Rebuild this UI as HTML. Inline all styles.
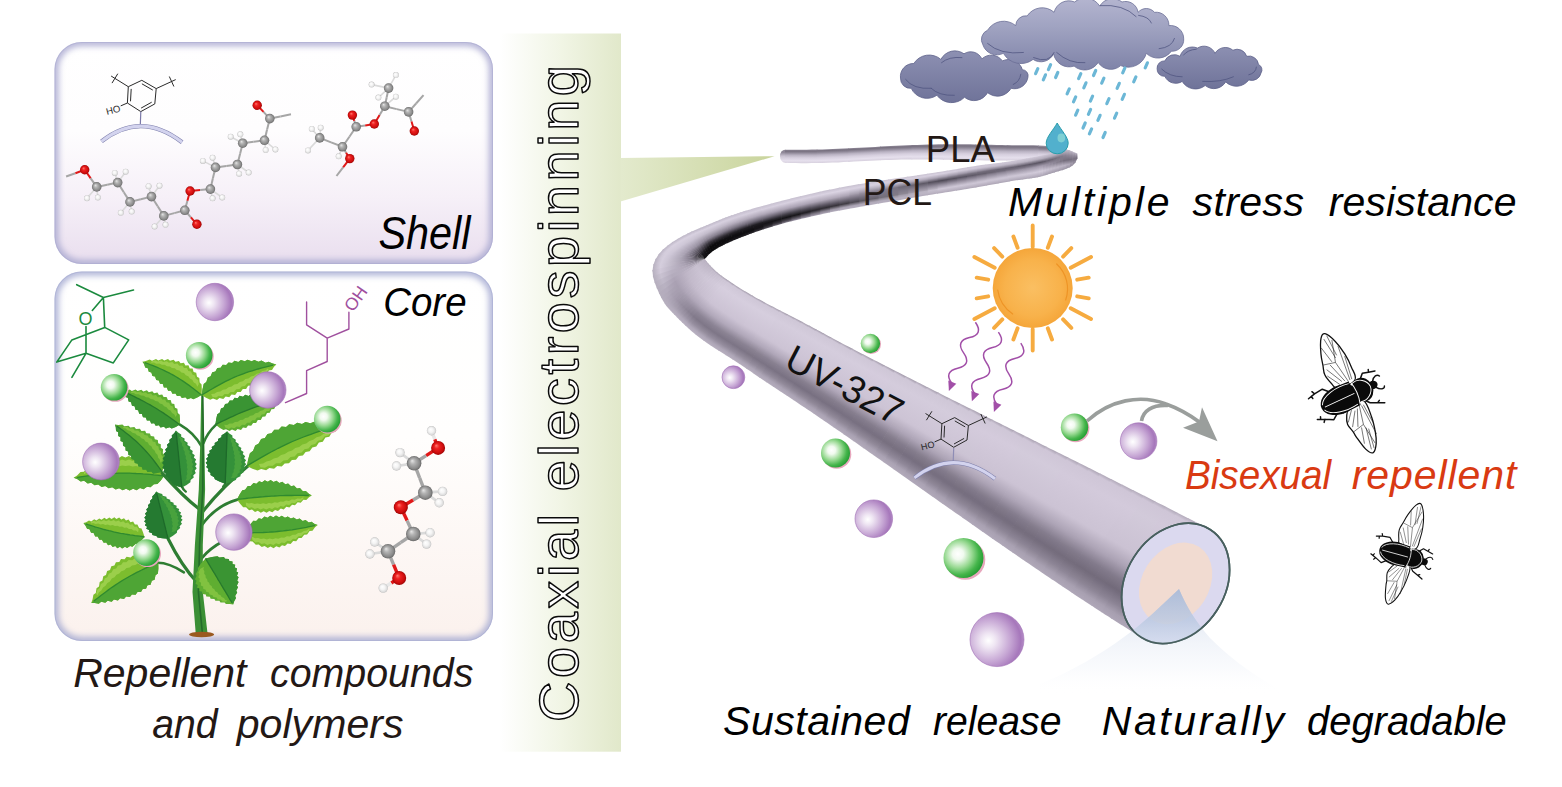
<!DOCTYPE html>
<html><head><meta charset="utf-8"><title>Graphical abstract</title>
<style>html,body{margin:0;padding:0;background:#fff;}svg{display:block;}</style></head>
<body>
<svg width="1562" height="787" viewBox="0 0 1562 787">
<defs>
<filter id="blur3" x="-10%" y="-10%" width="120%" height="120%"><feGaussianBlur stdDeviation="3"/></filter>
<filter id="blur1" x="-10%" y="-10%" width="120%" height="120%"><feGaussianBlur stdDeviation="1"/></filter>
<linearGradient id="gShell" x1="0" y1="0" x2="0" y2="1"><stop offset="0" stop-color="#ffffff"/><stop offset="0.4" stop-color="#fefdfe"/><stop offset="0.7" stop-color="#f6f0f8"/><stop offset="1" stop-color="#e9deee"/></linearGradient>
<linearGradient id="gCore" x1="0" y1="0" x2="0" y2="1"><stop offset="0" stop-color="#ffffff"/><stop offset="0.45" stop-color="#fffefd"/><stop offset="1" stop-color="#fbf1ed"/></linearGradient>
<linearGradient id="gBand" x1="0" y1="0" x2="1" y2="0"><stop offset="0" stop-color="#ffffff"/><stop offset="0.5" stop-color="#f1f5e5"/><stop offset="1" stop-color="#e1e8ca"/></linearGradient>
<linearGradient id="gBeam" x1="621" y1="0" x2="775" y2="0" gradientUnits="userSpaceOnUse"><stop offset="0" stop-color="#e3eacd"/><stop offset="1" stop-color="#c9d49c"/></linearGradient>
<clipPath id="cps"><rect x="54.5" y="42" width="438.5" height="222" rx="27"/></clipPath>
<clipPath id="cpc"><rect x="54.5" y="271.5" width="438.5" height="369.5" rx="27"/></clipPath>
<radialGradient id="aC" cx="0.5" cy="0.5" r="0.5" fx="0.36" fy="0.32"><stop offset="0" stop-color="#e6e6e6"/><stop offset="0.35" stop-color="#b4b4b4"/><stop offset="0.8" stop-color="#8a8a8a"/><stop offset="1" stop-color="#6a6a6a"/></radialGradient>
<radialGradient id="aO" cx="0.5" cy="0.5" r="0.5" fx="0.36" fy="0.32"><stop offset="0" stop-color="#ff7a70"/><stop offset="0.35" stop-color="#ee2222"/><stop offset="0.8" stop-color="#cc0c0c"/><stop offset="1" stop-color="#9a0606"/></radialGradient>
<radialGradient id="aH" cx="0.5" cy="0.5" r="0.5" fx="0.38" fy="0.34"><stop offset="0" stop-color="#ffffff"/><stop offset="0.5" stop-color="#f4f4f4"/><stop offset="0.85" stop-color="#dcdcdc"/><stop offset="1" stop-color="#bdbdbd"/></radialGradient>
<linearGradient id="gCapS" x1="0" y1="0" x2="0" y2="1"><stop offset="0" stop-color="#8f8898"/><stop offset="0.2" stop-color="#8d8696"/><stop offset="0.5" stop-color="#cbc4d3"/><stop offset="0.85" stop-color="#e6e0ed"/><stop offset="1" stop-color="#d6cfdd"/></linearGradient>
<linearGradient id="ta0" gradientUnits="userSpaceOnUse" x1="800.8" y1="149.8" x2="800.8" y2="163.2"><stop offset="0.00" stop-color="#8f8898"/><stop offset="0.10" stop-color="#77707f"/><stop offset="0.22" stop-color="#8d8696"/><stop offset="0.40" stop-color="#b9b2c2"/><stop offset="0.60" stop-color="#d6cfde"/><stop offset="0.82" stop-color="#e6e0ed"/><stop offset="1.00" stop-color="#d6cfdd"/></linearGradient>
<linearGradient id="ta1" gradientUnits="userSpaceOnUse" x1="832.5" y1="149.0" x2="833.0" y2="162.6"><stop offset="0.00" stop-color="#8f8898"/><stop offset="0.10" stop-color="#77707f"/><stop offset="0.22" stop-color="#8d8696"/><stop offset="0.40" stop-color="#b9b2c2"/><stop offset="0.60" stop-color="#d6cfde"/><stop offset="0.82" stop-color="#e6e0ed"/><stop offset="1.00" stop-color="#d6cfdd"/></linearGradient>
<linearGradient id="ta2" gradientUnits="userSpaceOnUse" x1="864.1" y1="147.5" x2="864.8" y2="161.0"><stop offset="0.00" stop-color="#8f8898"/><stop offset="0.10" stop-color="#77707f"/><stop offset="0.22" stop-color="#8d8696"/><stop offset="0.40" stop-color="#b9b2c2"/><stop offset="0.60" stop-color="#d6cfde"/><stop offset="0.82" stop-color="#e6e0ed"/><stop offset="1.00" stop-color="#d6cfdd"/></linearGradient>
<linearGradient id="ta3" gradientUnits="userSpaceOnUse" x1="895.8" y1="145.8" x2="896.3" y2="159.7"><stop offset="0.00" stop-color="#8f8898"/><stop offset="0.10" stop-color="#77707f"/><stop offset="0.22" stop-color="#8d8696"/><stop offset="0.40" stop-color="#b9b2c2"/><stop offset="0.60" stop-color="#d6cfde"/><stop offset="0.82" stop-color="#e6e0ed"/><stop offset="1.00" stop-color="#d6cfdd"/></linearGradient>
<linearGradient id="ta4" gradientUnits="userSpaceOnUse" x1="927.4" y1="144.6" x2="927.5" y2="159.5"><stop offset="0.00" stop-color="#8f8898"/><stop offset="0.10" stop-color="#77707f"/><stop offset="0.22" stop-color="#8d8696"/><stop offset="0.40" stop-color="#b9b2c2"/><stop offset="0.60" stop-color="#d6cfde"/><stop offset="0.82" stop-color="#e6e0ed"/><stop offset="1.00" stop-color="#d6cfdd"/></linearGradient>
<linearGradient id="ta5" gradientUnits="userSpaceOnUse" x1="959.1" y1="144.2" x2="958.9" y2="160.0"><stop offset="0.00" stop-color="#8f8898"/><stop offset="0.10" stop-color="#77707f"/><stop offset="0.22" stop-color="#8d8696"/><stop offset="0.40" stop-color="#b9b2c2"/><stop offset="0.60" stop-color="#d6cfde"/><stop offset="0.82" stop-color="#e6e0ed"/><stop offset="1.00" stop-color="#d6cfdd"/></linearGradient>
<linearGradient id="ta6" gradientUnits="userSpaceOnUse" x1="990.8" y1="144.8" x2="990.6" y2="160.5"><stop offset="0.00" stop-color="#8f8898"/><stop offset="0.10" stop-color="#77707f"/><stop offset="0.22" stop-color="#8d8696"/><stop offset="0.40" stop-color="#b9b2c2"/><stop offset="0.60" stop-color="#d6cfde"/><stop offset="0.82" stop-color="#e6e0ed"/><stop offset="1.00" stop-color="#d6cfdd"/></linearGradient>
<linearGradient id="ta7" gradientUnits="userSpaceOnUse" x1="1022.3" y1="145.2" x2="1022.3" y2="160.6"><stop offset="0.00" stop-color="#8f8898"/><stop offset="0.10" stop-color="#77707f"/><stop offset="0.22" stop-color="#8d8696"/><stop offset="0.40" stop-color="#b9b2c2"/><stop offset="0.60" stop-color="#d6cfde"/><stop offset="0.82" stop-color="#e6e0ed"/><stop offset="1.00" stop-color="#d6cfdd"/></linearGradient>
<linearGradient id="ta8" gradientUnits="userSpaceOnUse" x1="1054.6" y1="146.9" x2="1054.1" y2="159.7"><stop offset="0.00" stop-color="#8f8898"/><stop offset="0.10" stop-color="#77707f"/><stop offset="0.22" stop-color="#8d8696"/><stop offset="0.40" stop-color="#b9b2c2"/><stop offset="0.60" stop-color="#d6cfde"/><stop offset="0.82" stop-color="#e6e0ed"/><stop offset="1.00" stop-color="#d6cfdd"/></linearGradient>
<linearGradient id="tb0" gradientUnits="userSpaceOnUse" x1="1076.7" y1="160.5" x2="1073.1" y2="155.7"><stop offset="0.00" stop-color="#8f8898"/><stop offset="0.20" stop-color="#827b8b"/><stop offset="0.30" stop-color="#766f7f"/><stop offset="0.45" stop-color="#7d7686"/><stop offset="0.60" stop-color="#8c8595"/><stop offset="0.70" stop-color="#968f9f"/><stop offset="1.00" stop-color="#b7b0bf"/></linearGradient>
<linearGradient id="tb1" gradientUnits="userSpaceOnUse" x1="1074.3" y1="164.0" x2="1071.1" y2="153.0"><stop offset="0.00" stop-color="#928b9b"/><stop offset="0.20" stop-color="#928b9b"/><stop offset="0.30" stop-color="#817a8a"/><stop offset="0.45" stop-color="#7a7382"/><stop offset="0.60" stop-color="#898292"/><stop offset="0.70" stop-color="#938c9c"/><stop offset="1.00" stop-color="#bbb4c3"/></linearGradient>
<linearGradient id="tb2" gradientUnits="userSpaceOnUse" x1="1071.5" y1="166.4" x2="1069.5" y2="151.1"><stop offset="0.00" stop-color="#958e9e"/><stop offset="0.20" stop-color="#a29bab"/><stop offset="0.30" stop-color="#8c8595"/><stop offset="0.45" stop-color="#766f7e"/><stop offset="0.60" stop-color="#867f8f"/><stop offset="0.70" stop-color="#918a9a"/><stop offset="1.00" stop-color="#beb7c6"/></linearGradient>
<linearGradient id="tb3" gradientUnits="userSpaceOnUse" x1="1068.2" y1="168.1" x2="1066.0" y2="150.1"><stop offset="0.00" stop-color="#9891a1"/><stop offset="0.20" stop-color="#b2abbb"/><stop offset="0.30" stop-color="#9790a0"/><stop offset="0.45" stop-color="#736c7b"/><stop offset="0.60" stop-color="#837c8c"/><stop offset="0.70" stop-color="#8e8797"/><stop offset="1.00" stop-color="#c2bbca"/></linearGradient>
<linearGradient id="tb4" gradientUnits="userSpaceOnUse" x1="1064.5" y1="169.5" x2="1060.6" y2="150.4"><stop offset="0.00" stop-color="#9b94a4"/><stop offset="0.20" stop-color="#bab3c3"/><stop offset="0.25" stop-color="#ada6b6"/><stop offset="0.45" stop-color="#756e7d"/><stop offset="0.50" stop-color="#7a7382"/><stop offset="0.68" stop-color="#878090"/><stop offset="0.70" stop-color="#8a8393"/><stop offset="0.85" stop-color="#a9a2b2"/><stop offset="1.00" stop-color="#c5becd"/></linearGradient>
<linearGradient id="tb5" gradientUnits="userSpaceOnUse" x1="1060.6" y1="170.7" x2="1055.4" y2="151.6"><stop offset="0.00" stop-color="#9d96a6"/><stop offset="0.20" stop-color="#bcb5c5"/><stop offset="0.25" stop-color="#b2abbb"/><stop offset="0.45" stop-color="#7d7685"/><stop offset="0.50" stop-color="#807988"/><stop offset="0.68" stop-color="#817a8a"/><stop offset="0.70" stop-color="#857e8e"/><stop offset="0.85" stop-color="#aba4b3"/><stop offset="1.00" stop-color="#c6bfce"/></linearGradient>
<linearGradient id="tb6" gradientUnits="userSpaceOnUse" x1="1056.7" y1="171.9" x2="1050.9" y2="153.2"><stop offset="0.00" stop-color="#9f98a8"/><stop offset="0.20" stop-color="#bfb8c7"/><stop offset="0.25" stop-color="#b8b1c0"/><stop offset="0.45" stop-color="#857e8d"/><stop offset="0.50" stop-color="#867f8e"/><stop offset="0.68" stop-color="#7b7483"/><stop offset="0.70" stop-color="#807988"/><stop offset="0.85" stop-color="#ada6b5"/><stop offset="1.00" stop-color="#c8c1d0"/></linearGradient>
<linearGradient id="tb7" gradientUnits="userSpaceOnUse" x1="1052.9" y1="172.9" x2="1047.2" y2="154.6"><stop offset="0.00" stop-color="#a19aaa"/><stop offset="0.20" stop-color="#c1bac9"/><stop offset="0.25" stop-color="#bdb6c5"/><stop offset="0.45" stop-color="#8d8696"/><stop offset="0.50" stop-color="#8c8595"/><stop offset="0.68" stop-color="#746e7d"/><stop offset="0.70" stop-color="#7a7483"/><stop offset="0.85" stop-color="#aea7b7"/><stop offset="1.00" stop-color="#cac3d2"/></linearGradient>
<linearGradient id="tb8" gradientUnits="userSpaceOnUse" x1="1049.5" y1="173.9" x2="1044.1" y2="155.4"><stop offset="0.00" stop-color="#a39cac"/><stop offset="0.20" stop-color="#c3bccb"/><stop offset="0.25" stop-color="#c2bbca"/><stop offset="0.45" stop-color="#958e9e"/><stop offset="0.50" stop-color="#928a9b"/><stop offset="0.68" stop-color="#6e6776"/><stop offset="0.70" stop-color="#756f7e"/><stop offset="0.85" stop-color="#b0a9b8"/><stop offset="1.00" stop-color="#cbc4d3"/></linearGradient>
<linearGradient id="tb9" gradientUnits="userSpaceOnUse" x1="1046.6" y1="174.8" x2="1041.4" y2="155.9"><stop offset="0.00" stop-color="#a59eae"/><stop offset="0.20" stop-color="#c5bece"/><stop offset="0.25" stop-color="#c7c0cf"/><stop offset="0.45" stop-color="#9d95a6"/><stop offset="0.50" stop-color="#9890a1"/><stop offset="0.68" stop-color="#686170"/><stop offset="0.70" stop-color="#706a78"/><stop offset="0.85" stop-color="#b2abba"/><stop offset="1.00" stop-color="#cdc6d5"/></linearGradient>
<linearGradient id="tb10" gradientUnits="userSpaceOnUse" x1="1043.9" y1="175.7" x2="1039.0" y2="156.3"><stop offset="0.00" stop-color="#a7a0b0"/><stop offset="0.20" stop-color="#c7c0d0"/><stop offset="0.25" stop-color="#ccc5d4"/><stop offset="0.45" stop-color="#a59dae"/><stop offset="0.50" stop-color="#9e96a7"/><stop offset="0.68" stop-color="#615b69"/><stop offset="0.70" stop-color="#6b6473"/><stop offset="0.85" stop-color="#b3acbb"/><stop offset="1.00" stop-color="#cec7d6"/></linearGradient>
<linearGradient id="tb11" gradientUnits="userSpaceOnUse" x1="1041.3" y1="176.4" x2="1036.8" y2="156.6"><stop offset="0.00" stop-color="#a9a2b2"/><stop offset="0.20" stop-color="#cac3d2"/><stop offset="0.25" stop-color="#d1cad9"/><stop offset="0.45" stop-color="#ada5b6"/><stop offset="0.50" stop-color="#a49cad"/><stop offset="0.68" stop-color="#5b5563"/><stop offset="0.70" stop-color="#655f6d"/><stop offset="0.85" stop-color="#b5aebd"/><stop offset="1.00" stop-color="#d0c9d8"/></linearGradient>
<linearGradient id="tb12" gradientUnits="userSpaceOnUse" x1="1038.8" y1="177.0" x2="1034.6" y2="156.9"><stop offset="0.00" stop-color="#a9a2b2"/><stop offset="0.20" stop-color="#cac3d2"/><stop offset="0.25" stop-color="#d1cad9"/><stop offset="0.40" stop-color="#b6aebe"/><stop offset="0.50" stop-color="#a39bac"/><stop offset="0.58" stop-color="#827b8b"/><stop offset="0.68" stop-color="#5b5563"/><stop offset="0.75" stop-color="#817a89"/><stop offset="0.85" stop-color="#b6afbe"/><stop offset="0.90" stop-color="#bfb8c7"/><stop offset="1.00" stop-color="#d0c9d8"/></linearGradient>
<linearGradient id="tb13" gradientUnits="userSpaceOnUse" x1="1036.2" y1="177.6" x2="1032.3" y2="157.3"><stop offset="0.00" stop-color="#aaa2b2"/><stop offset="0.20" stop-color="#cac3d2"/><stop offset="0.25" stop-color="#d1cad9"/><stop offset="0.40" stop-color="#b4adbd"/><stop offset="0.50" stop-color="#a199aa"/><stop offset="0.58" stop-color="#807989"/><stop offset="0.68" stop-color="#5d5765"/><stop offset="0.75" stop-color="#827c8a"/><stop offset="0.85" stop-color="#b6afbe"/><stop offset="0.90" stop-color="#c0b9c8"/><stop offset="1.00" stop-color="#d0c9d8"/></linearGradient>
<linearGradient id="tb14" gradientUnits="userSpaceOnUse" x1="1033.5" y1="178.0" x2="1030.0" y2="157.8"><stop offset="0.00" stop-color="#aaa3b3"/><stop offset="0.20" stop-color="#cac3d2"/><stop offset="0.25" stop-color="#d0c9d8"/><stop offset="0.40" stop-color="#b3acbc"/><stop offset="0.50" stop-color="#9f98a8"/><stop offset="0.58" stop-color="#7e7887"/><stop offset="0.68" stop-color="#5e5866"/><stop offset="0.75" stop-color="#847d8c"/><stop offset="0.85" stop-color="#b7b0bf"/><stop offset="0.90" stop-color="#c1bac9"/><stop offset="1.00" stop-color="#d0c9d8"/></linearGradient>
<linearGradient id="tb15" gradientUnits="userSpaceOnUse" x1="1030.7" y1="178.4" x2="1027.4" y2="158.3"><stop offset="0.00" stop-color="#aaa3b3"/><stop offset="0.20" stop-color="#cac3d3"/><stop offset="0.25" stop-color="#d0c9d8"/><stop offset="0.40" stop-color="#b2aaba"/><stop offset="0.50" stop-color="#9d96a6"/><stop offset="0.58" stop-color="#7d7685"/><stop offset="0.68" stop-color="#5f5968"/><stop offset="0.75" stop-color="#857e8d"/><stop offset="0.85" stop-color="#b8b1c0"/><stop offset="0.90" stop-color="#c1bac9"/><stop offset="1.00" stop-color="#cfc8d7"/></linearGradient>
<linearGradient id="tb16" gradientUnits="userSpaceOnUse" x1="1027.8" y1="178.8" x2="1024.7" y2="158.9"><stop offset="0.00" stop-color="#aaa3b3"/><stop offset="0.20" stop-color="#cbc4d3"/><stop offset="0.25" stop-color="#cfc8d7"/><stop offset="0.40" stop-color="#b0a9b9"/><stop offset="0.50" stop-color="#9b94a4"/><stop offset="0.58" stop-color="#7b7483"/><stop offset="0.68" stop-color="#615b69"/><stop offset="0.75" stop-color="#86808f"/><stop offset="0.85" stop-color="#b8b1c0"/><stop offset="0.90" stop-color="#c2bbca"/><stop offset="1.00" stop-color="#cfc8d7"/></linearGradient>
<linearGradient id="tb17" gradientUnits="userSpaceOnUse" x1="1024.8" y1="179.2" x2="1021.8" y2="159.4"><stop offset="0.00" stop-color="#aba3b3"/><stop offset="0.20" stop-color="#cbc4d3"/><stop offset="0.25" stop-color="#cec7d6"/><stop offset="0.40" stop-color="#afa8b8"/><stop offset="0.50" stop-color="#9992a2"/><stop offset="0.58" stop-color="#797281"/><stop offset="0.68" stop-color="#625c6a"/><stop offset="0.75" stop-color="#888190"/><stop offset="0.85" stop-color="#b9b2c1"/><stop offset="0.90" stop-color="#c3bccb"/><stop offset="1.00" stop-color="#cfc8d7"/></linearGradient>
<linearGradient id="tb18" gradientUnits="userSpaceOnUse" x1="1021.7" y1="179.6" x2="1018.7" y2="160.0"><stop offset="0.00" stop-color="#aba4b4"/><stop offset="0.20" stop-color="#cbc4d3"/><stop offset="0.25" stop-color="#cec7d6"/><stop offset="0.40" stop-color="#aea6b6"/><stop offset="0.50" stop-color="#9790a0"/><stop offset="0.58" stop-color="#777180"/><stop offset="0.68" stop-color="#645e6c"/><stop offset="0.75" stop-color="#898391"/><stop offset="0.85" stop-color="#bab3c2"/><stop offset="0.90" stop-color="#c4bdcc"/><stop offset="1.00" stop-color="#cfc8d7"/></linearGradient>
<linearGradient id="tb19" gradientUnits="userSpaceOnUse" x1="1015.0" y1="180.5" x2="1012.0" y2="161.0"><stop offset="0.00" stop-color="#aba4b4"/><stop offset="0.20" stop-color="#cbc4d3"/><stop offset="0.25" stop-color="#ccc5d4"/><stop offset="0.40" stop-color="#aba4b4"/><stop offset="0.50" stop-color="#948c9c"/><stop offset="0.58" stop-color="#746d7c"/><stop offset="0.68" stop-color="#66606f"/><stop offset="0.75" stop-color="#8c8594"/><stop offset="0.85" stop-color="#bbb4c3"/><stop offset="0.90" stop-color="#c6bfce"/><stop offset="1.00" stop-color="#cfc8d7"/></linearGradient>
<linearGradient id="tb20" gradientUnits="userSpaceOnUse" x1="1004.2" y1="182.4" x2="1001.1" y2="162.5"><stop offset="0.00" stop-color="#aca5b5"/><stop offset="0.20" stop-color="#ccc5d4"/><stop offset="0.25" stop-color="#cac3d3"/><stop offset="0.40" stop-color="#a7a0b0"/><stop offset="0.50" stop-color="#8e8797"/><stop offset="0.58" stop-color="#6e6877"/><stop offset="0.68" stop-color="#6a6473"/><stop offset="0.75" stop-color="#908998"/><stop offset="0.85" stop-color="#bdb6c5"/><stop offset="0.90" stop-color="#c8c1d0"/><stop offset="1.00" stop-color="#cec7d6"/></linearGradient>
<linearGradient id="tb21" gradientUnits="userSpaceOnUse" x1="992.9" y1="184.4" x2="989.6" y2="164.0"><stop offset="0.00" stop-color="#ada5b5"/><stop offset="0.20" stop-color="#ccc5d4"/><stop offset="0.25" stop-color="#c9c2d1"/><stop offset="0.40" stop-color="#a39cac"/><stop offset="0.50" stop-color="#888191"/><stop offset="0.58" stop-color="#696371"/><stop offset="0.68" stop-color="#6f6877"/><stop offset="0.75" stop-color="#948d9c"/><stop offset="0.85" stop-color="#bfb8c7"/><stop offset="0.90" stop-color="#cbc4d3"/><stop offset="1.00" stop-color="#cec7d6"/></linearGradient>
<linearGradient id="tb22" gradientUnits="userSpaceOnUse" x1="981.7" y1="186.4" x2="978.3" y2="165.6"><stop offset="0.00" stop-color="#aea6b6"/><stop offset="0.20" stop-color="#cdc6d5"/><stop offset="0.25" stop-color="#c7c0cf"/><stop offset="0.40" stop-color="#9f98a8"/><stop offset="0.50" stop-color="#837c8b"/><stop offset="0.58" stop-color="#645e6c"/><stop offset="0.68" stop-color="#736c7b"/><stop offset="0.75" stop-color="#9891a1"/><stop offset="0.85" stop-color="#c0b9c9"/><stop offset="0.90" stop-color="#cdc6d5"/><stop offset="1.00" stop-color="#cdc6d5"/></linearGradient>
<linearGradient id="tb23" gradientUnits="userSpaceOnUse" x1="971.2" y1="188.2" x2="967.8" y2="167.2"><stop offset="0.00" stop-color="#afa7b7"/><stop offset="0.20" stop-color="#cdc6d5"/><stop offset="0.25" stop-color="#c5becd"/><stop offset="0.40" stop-color="#9b94a4"/><stop offset="0.50" stop-color="#7d7686"/><stop offset="0.58" stop-color="#5f5967"/><stop offset="0.68" stop-color="#77717f"/><stop offset="0.75" stop-color="#9c95a5"/><stop offset="0.85" stop-color="#c2bbcb"/><stop offset="0.90" stop-color="#d0c9d8"/><stop offset="1.00" stop-color="#cdc6d5"/></linearGradient>
<linearGradient id="tb24" gradientUnits="userSpaceOnUse" x1="961.4" y1="189.8" x2="958.0" y2="168.8"><stop offset="0.00" stop-color="#afa8b8"/><stop offset="0.20" stop-color="#cec7d6"/><stop offset="0.25" stop-color="#c3bccb"/><stop offset="0.40" stop-color="#9890a0"/><stop offset="0.50" stop-color="#777180"/><stop offset="0.58" stop-color="#595462"/><stop offset="0.68" stop-color="#7b7583"/><stop offset="0.75" stop-color="#a099a9"/><stop offset="0.85" stop-color="#c4bdcc"/><stop offset="0.90" stop-color="#d2cbda"/><stop offset="1.00" stop-color="#ccc5d4"/></linearGradient>
<linearGradient id="tb25" gradientUnits="userSpaceOnUse" x1="951.9" y1="191.3" x2="948.5" y2="170.4"><stop offset="0.00" stop-color="#b0a8b8"/><stop offset="0.20" stop-color="#cec7d6"/><stop offset="0.25" stop-color="#c1bac9"/><stop offset="0.40" stop-color="#948d9d"/><stop offset="0.50" stop-color="#726b7a"/><stop offset="0.58" stop-color="#544f5c"/><stop offset="0.68" stop-color="#7f7987"/><stop offset="0.75" stop-color="#a49dad"/><stop offset="0.85" stop-color="#c6bfce"/><stop offset="0.90" stop-color="#d5cedd"/><stop offset="1.00" stop-color="#ccc5d4"/></linearGradient>
<linearGradient id="tb26" gradientUnits="userSpaceOnUse" x1="942.4" y1="192.8" x2="939.1" y2="172.0"><stop offset="0.00" stop-color="#b1a9b9"/><stop offset="0.20" stop-color="#cfc8d7"/><stop offset="0.25" stop-color="#bfb8c8"/><stop offset="0.40" stop-color="#908999"/><stop offset="0.50" stop-color="#6c6674"/><stop offset="0.58" stop-color="#4f4a57"/><stop offset="0.68" stop-color="#837d8b"/><stop offset="0.75" stop-color="#a8a1b1"/><stop offset="0.85" stop-color="#c8c1d0"/><stop offset="0.90" stop-color="#d8d1e0"/><stop offset="1.00" stop-color="#cbc4d3"/></linearGradient>
<linearGradient id="tb27" gradientUnits="userSpaceOnUse" x1="932.9" y1="194.4" x2="929.5" y2="173.5"><stop offset="0.00" stop-color="#b2aaba"/><stop offset="0.10" stop-color="#beb7c6"/><stop offset="0.20" stop-color="#c6bfce"/><stop offset="0.25" stop-color="#b4aebc"/><stop offset="0.40" stop-color="#8c8595"/><stop offset="0.58" stop-color="#55505d"/><stop offset="0.60" stop-color="#605a68"/><stop offset="0.75" stop-color="#aca5b5"/><stop offset="0.85" stop-color="#cac3d2"/><stop offset="0.90" stop-color="#d8d1e0"/><stop offset="1.00" stop-color="#cbc4d3"/></linearGradient>
<linearGradient id="tb28" gradientUnits="userSpaceOnUse" x1="923.1" y1="196.0" x2="919.8" y2="175.0"><stop offset="0.00" stop-color="#b2abbb"/><stop offset="0.10" stop-color="#bcb5c4"/><stop offset="0.20" stop-color="#bbb5c3"/><stop offset="0.25" stop-color="#a8a1af"/><stop offset="0.40" stop-color="#888291"/><stop offset="0.58" stop-color="#5e5966"/><stop offset="0.60" stop-color="#686370"/><stop offset="0.75" stop-color="#afa8b8"/><stop offset="0.85" stop-color="#ccc5d4"/><stop offset="0.90" stop-color="#d7d0df"/><stop offset="1.00" stop-color="#cac3d2"/></linearGradient>
<linearGradient id="tb29" gradientUnits="userSpaceOnUse" x1="913.3" y1="197.7" x2="909.9" y2="176.4"><stop offset="0.00" stop-color="#b3abbb"/><stop offset="0.10" stop-color="#bab2c2"/><stop offset="0.20" stop-color="#b0aab8"/><stop offset="0.25" stop-color="#9b94a2"/><stop offset="0.40" stop-color="#857e8e"/><stop offset="0.58" stop-color="#67616f"/><stop offset="0.60" stop-color="#716b79"/><stop offset="0.75" stop-color="#b2abbb"/><stop offset="0.85" stop-color="#cdc6d6"/><stop offset="0.90" stop-color="#d7d0df"/><stop offset="1.00" stop-color="#cac3d2"/></linearGradient>
<linearGradient id="tb30" gradientUnits="userSpaceOnUse" x1="903.4" y1="199.4" x2="899.9" y2="177.9"><stop offset="0.00" stop-color="#b4acbc"/><stop offset="0.10" stop-color="#b7b0c0"/><stop offset="0.20" stop-color="#a59fad"/><stop offset="0.25" stop-color="#8e8894"/><stop offset="0.40" stop-color="#817b8a"/><stop offset="0.58" stop-color="#706a78"/><stop offset="0.60" stop-color="#797382"/><stop offset="0.75" stop-color="#b5aebe"/><stop offset="0.85" stop-color="#cfc8d7"/><stop offset="0.90" stop-color="#d7d0df"/><stop offset="1.00" stop-color="#cac3d2"/></linearGradient>
<linearGradient id="tb31" gradientUnits="userSpaceOnUse" x1="893.5" y1="201.1" x2="890.0" y2="179.3"><stop offset="0.00" stop-color="#b5adbd"/><stop offset="0.10" stop-color="#b5aebe"/><stop offset="0.20" stop-color="#9b95a2"/><stop offset="0.25" stop-color="#817b87"/><stop offset="0.40" stop-color="#7e7786"/><stop offset="0.58" stop-color="#797381"/><stop offset="0.60" stop-color="#827b8a"/><stop offset="0.75" stop-color="#b9b1c1"/><stop offset="0.85" stop-color="#d1cad9"/><stop offset="0.90" stop-color="#d6cfde"/><stop offset="1.00" stop-color="#c9c2d2"/></linearGradient>
<linearGradient id="tb32" gradientUnits="userSpaceOnUse" x1="883.7" y1="202.8" x2="880.2" y2="180.8"><stop offset="0.00" stop-color="#b6aebe"/><stop offset="0.10" stop-color="#b3acbc"/><stop offset="0.20" stop-color="#908a96"/><stop offset="0.25" stop-color="#746f7a"/><stop offset="0.40" stop-color="#7a7483"/><stop offset="0.58" stop-color="#827b8a"/><stop offset="0.60" stop-color="#8b8493"/><stop offset="0.75" stop-color="#bcb5c4"/><stop offset="0.85" stop-color="#d3ccdb"/><stop offset="0.90" stop-color="#d6cfde"/><stop offset="1.00" stop-color="#c9c2d1"/></linearGradient>
<linearGradient id="tb33" gradientUnits="userSpaceOnUse" x1="873.9" y1="204.4" x2="870.3" y2="182.3"><stop offset="0.00" stop-color="#b6afbf"/><stop offset="0.10" stop-color="#b1aab9"/><stop offset="0.20" stop-color="#857f8b"/><stop offset="0.25" stop-color="#67626c"/><stop offset="0.40" stop-color="#76707f"/><stop offset="0.58" stop-color="#8b8493"/><stop offset="0.60" stop-color="#938c9b"/><stop offset="0.75" stop-color="#bfb8c7"/><stop offset="0.85" stop-color="#d5cedd"/><stop offset="0.90" stop-color="#d6cfde"/><stop offset="1.00" stop-color="#c8c1d1"/></linearGradient>
<linearGradient id="tb34" gradientUnits="userSpaceOnUse" x1="864.2" y1="206.1" x2="860.4" y2="184.0"><stop offset="0.00" stop-color="#b7b0c0"/><stop offset="0.10" stop-color="#afa7b7"/><stop offset="0.20" stop-color="#7a7480"/><stop offset="0.25" stop-color="#5a555f"/><stop offset="0.40" stop-color="#736d7b"/><stop offset="0.58" stop-color="#948d9c"/><stop offset="0.60" stop-color="#9c94a4"/><stop offset="0.75" stop-color="#c2bbca"/><stop offset="0.85" stop-color="#d7d0df"/><stop offset="0.90" stop-color="#d5cedd"/><stop offset="1.00" stop-color="#c8c1d1"/></linearGradient>
<linearGradient id="tb35" gradientUnits="userSpaceOnUse" x1="854.4" y1="207.8" x2="850.5" y2="185.7"><stop offset="0.00" stop-color="#b8b1c1"/><stop offset="0.10" stop-color="#aca5b5"/><stop offset="0.20" stop-color="#6f6a75"/><stop offset="0.25" stop-color="#4d4952"/><stop offset="0.40" stop-color="#6f6977"/><stop offset="0.58" stop-color="#9d95a5"/><stop offset="0.60" stop-color="#a49dac"/><stop offset="0.75" stop-color="#c5bece"/><stop offset="0.85" stop-color="#d8d1e0"/><stop offset="0.90" stop-color="#d5cedd"/><stop offset="1.00" stop-color="#c8c1d0"/></linearGradient>
<linearGradient id="tb36" gradientUnits="userSpaceOnUse" x1="844.7" y1="209.6" x2="840.5" y2="187.5"><stop offset="0.00" stop-color="#b9b2c2"/><stop offset="0.10" stop-color="#aaa3b3"/><stop offset="0.20" stop-color="#645f6a"/><stop offset="0.25" stop-color="#403c44"/><stop offset="0.40" stop-color="#6c6674"/><stop offset="0.58" stop-color="#a69eae"/><stop offset="0.60" stop-color="#ada5b5"/><stop offset="0.75" stop-color="#c9c1d1"/><stop offset="0.85" stop-color="#dad3e2"/><stop offset="0.90" stop-color="#d5cedd"/><stop offset="1.00" stop-color="#c7c0d0"/></linearGradient>
<linearGradient id="tb37" gradientUnits="userSpaceOnUse" x1="834.9" y1="211.5" x2="830.5" y2="189.5"><stop offset="0.00" stop-color="#b6afbf"/><stop offset="0.08" stop-color="#a39dac"/><stop offset="0.10" stop-color="#a099a8"/><stop offset="0.22" stop-color="#4a464e"/><stop offset="0.25" stop-color="#37333b"/><stop offset="0.38" stop-color="#615b68"/><stop offset="0.40" stop-color="#68626f"/><stop offset="0.60" stop-color="#b0a8b8"/><stop offset="0.85" stop-color="#dbd4e3"/><stop offset="1.00" stop-color="#c7c0d0"/></linearGradient>
<linearGradient id="tb38" gradientUnits="userSpaceOnUse" x1="825.1" y1="213.5" x2="820.5" y2="191.6"><stop offset="0.00" stop-color="#afa8b8"/><stop offset="0.08" stop-color="#938c9b"/><stop offset="0.10" stop-color="#8d8795"/><stop offset="0.22" stop-color="#3e3a42"/><stop offset="0.25" stop-color="#312e35"/><stop offset="0.38" stop-color="#5c5663"/><stop offset="0.40" stop-color="#635d6a"/><stop offset="0.60" stop-color="#afa7b7"/><stop offset="0.85" stop-color="#dad3e2"/><stop offset="1.00" stop-color="#c7c0d0"/></linearGradient>
<linearGradient id="tb39" gradientUnits="userSpaceOnUse" x1="815.3" y1="215.6" x2="810.5" y2="193.8"><stop offset="0.00" stop-color="#a9a2b2"/><stop offset="0.08" stop-color="#827c89"/><stop offset="0.10" stop-color="#7b7682"/><stop offset="0.22" stop-color="#312e35"/><stop offset="0.25" stop-color="#2c292f"/><stop offset="0.38" stop-color="#56525d"/><stop offset="0.40" stop-color="#5e5965"/><stop offset="0.60" stop-color="#ada5b5"/><stop offset="0.85" stop-color="#d9d2e1"/><stop offset="1.00" stop-color="#c7c0d0"/></linearGradient>
<linearGradient id="tb40" gradientUnits="userSpaceOnUse" x1="805.7" y1="217.8" x2="800.6" y2="196.1"><stop offset="0.00" stop-color="#a39cac"/><stop offset="0.08" stop-color="#716c78"/><stop offset="0.10" stop-color="#696470"/><stop offset="0.22" stop-color="#252328"/><stop offset="0.25" stop-color="#262429"/><stop offset="0.38" stop-color="#514d58"/><stop offset="0.40" stop-color="#595460"/><stop offset="0.60" stop-color="#aba3b4"/><stop offset="0.85" stop-color="#d9d2e1"/><stop offset="1.00" stop-color="#c7c0d0"/></linearGradient>
<linearGradient id="tb41" gradientUnits="userSpaceOnUse" x1="796.1" y1="220.1" x2="790.8" y2="198.5"><stop offset="0.00" stop-color="#9c95a5"/><stop offset="0.08" stop-color="#605b67"/><stop offset="0.10" stop-color="#57525d"/><stop offset="0.22" stop-color="#19171b"/><stop offset="0.25" stop-color="#201f23"/><stop offset="0.38" stop-color="#4c4852"/><stop offset="0.40" stop-color="#54505b"/><stop offset="0.60" stop-color="#aaa2b3"/><stop offset="0.85" stop-color="#d8d1e0"/><stop offset="1.00" stop-color="#c7c0d0"/></linearGradient>
<linearGradient id="tb42" gradientUnits="userSpaceOnUse" x1="786.7" y1="222.5" x2="781.1" y2="201.0"><stop offset="0.00" stop-color="#898391"/><stop offset="0.08" stop-color="#504b55"/><stop offset="0.12" stop-color="#3e3a42"/><stop offset="0.22" stop-color="#141317"/><stop offset="0.30" stop-color="#2c2a30"/><stop offset="0.38" stop-color="#49454f"/><stop offset="0.45" stop-color="#686370"/><stop offset="0.60" stop-color="#a8a0b0"/><stop offset="0.65" stop-color="#b2aabb"/><stop offset="0.85" stop-color="#d8d1e0"/><stop offset="1.00" stop-color="#c7c0d0"/></linearGradient>
<linearGradient id="tb43" gradientUnits="userSpaceOnUse" x1="777.4" y1="225.1" x2="771.5" y2="203.5"><stop offset="0.00" stop-color="#6e6975"/><stop offset="0.08" stop-color="#403c44"/><stop offset="0.12" stop-color="#302d34"/><stop offset="0.22" stop-color="#151417"/><stop offset="0.30" stop-color="#28262c"/><stop offset="0.38" stop-color="#49454f"/><stop offset="0.45" stop-color="#696370"/><stop offset="0.60" stop-color="#a59dae"/><stop offset="0.65" stop-color="#b2aaba"/><stop offset="0.85" stop-color="#d7d0df"/><stop offset="1.00" stop-color="#c7c0d0"/></linearGradient>
<linearGradient id="tb44" gradientUnits="userSpaceOnUse" x1="768.2" y1="227.8" x2="761.9" y2="206.2"><stop offset="0.00" stop-color="#534e58"/><stop offset="0.08" stop-color="#302d33"/><stop offset="0.12" stop-color="#222025"/><stop offset="0.22" stop-color="#161418"/><stop offset="0.30" stop-color="#242228"/><stop offset="0.38" stop-color="#48444e"/><stop offset="0.45" stop-color="#696471"/><stop offset="0.60" stop-color="#a39bab"/><stop offset="0.65" stop-color="#b2aaba"/><stop offset="0.85" stop-color="#d6cfde"/><stop offset="1.00" stop-color="#c7c0d0"/></linearGradient>
<linearGradient id="tb45" gradientUnits="userSpaceOnUse" x1="759.0" y1="230.8" x2="752.2" y2="208.9"><stop offset="0.00" stop-color="#38343b"/><stop offset="0.08" stop-color="#1f1d22"/><stop offset="0.12" stop-color="#151317"/><stop offset="0.22" stop-color="#171519"/><stop offset="0.30" stop-color="#201e23"/><stop offset="0.38" stop-color="#47434d"/><stop offset="0.45" stop-color="#6a6472"/><stop offset="0.60" stop-color="#a099a9"/><stop offset="0.65" stop-color="#b1a9b9"/><stop offset="0.85" stop-color="#d5cedd"/><stop offset="1.00" stop-color="#c7c0d0"/></linearGradient>
<linearGradient id="tb46" gradientUnits="userSpaceOnUse" x1="753.0" y1="232.9" x2="745.9" y2="210.8"><stop offset="0.00" stop-color="#29262c"/><stop offset="0.12" stop-color="#0e0d10"/><stop offset="0.20" stop-color="#151317"/><stop offset="0.30" stop-color="#1e1c21"/><stop offset="0.35" stop-color="#37343c"/><stop offset="0.45" stop-color="#6a6472"/><stop offset="0.50" stop-color="#7c7684"/><stop offset="0.65" stop-color="#b1a9b9"/><stop offset="0.72" stop-color="#beb6c6"/><stop offset="0.85" stop-color="#d5cedd"/><stop offset="0.88" stop-color="#d2cbdb"/><stop offset="1.00" stop-color="#c7c0d0"/></linearGradient>
<linearGradient id="tb47" gradientUnits="userSpaceOnUse" x1="750.2" y1="233.9" x2="742.9" y2="211.7"><stop offset="0.00" stop-color="#27242a"/><stop offset="0.12" stop-color="#0e0d10"/><stop offset="0.20" stop-color="#141317"/><stop offset="0.30" stop-color="#1f1d22"/><stop offset="0.35" stop-color="#38343c"/><stop offset="0.45" stop-color="#6a6472"/><stop offset="0.50" stop-color="#7d7685"/><stop offset="0.65" stop-color="#b1a9b9"/><stop offset="0.72" stop-color="#beb6c6"/><stop offset="0.85" stop-color="#d5cedd"/><stop offset="0.88" stop-color="#d3ccdb"/><stop offset="1.00" stop-color="#c6bfcf"/></linearGradient>
<linearGradient id="tb48" gradientUnits="userSpaceOnUse" x1="747.4" y1="234.9" x2="739.9" y2="212.7"><stop offset="0.00" stop-color="#262328"/><stop offset="0.12" stop-color="#0e0d10"/><stop offset="0.20" stop-color="#141216"/><stop offset="0.30" stop-color="#201e23"/><stop offset="0.35" stop-color="#38343c"/><stop offset="0.45" stop-color="#6b6573"/><stop offset="0.50" stop-color="#7e7786"/><stop offset="0.65" stop-color="#b1a9b9"/><stop offset="0.72" stop-color="#beb7c6"/><stop offset="0.85" stop-color="#d5cedd"/><stop offset="0.88" stop-color="#d3ccdb"/><stop offset="1.00" stop-color="#c6bfcf"/></linearGradient>
<linearGradient id="tb49" gradientUnits="userSpaceOnUse" x1="744.7" y1="236.0" x2="736.9" y2="213.6"><stop offset="0.00" stop-color="#242126"/><stop offset="0.12" stop-color="#0e0d0f"/><stop offset="0.20" stop-color="#131215"/><stop offset="0.30" stop-color="#211e24"/><stop offset="0.35" stop-color="#38343c"/><stop offset="0.45" stop-color="#6b6573"/><stop offset="0.50" stop-color="#7f7887"/><stop offset="0.65" stop-color="#b1a9b9"/><stop offset="0.72" stop-color="#bfb7c7"/><stop offset="0.85" stop-color="#d5cedd"/><stop offset="0.88" stop-color="#d3ccdc"/><stop offset="1.00" stop-color="#c5bece"/></linearGradient>
<linearGradient id="tb50" gradientUnits="userSpaceOnUse" x1="741.9" y1="237.0" x2="733.9" y2="214.6"><stop offset="0.00" stop-color="#221f24"/><stop offset="0.12" stop-color="#0d0c0f"/><stop offset="0.20" stop-color="#131115"/><stop offset="0.30" stop-color="#211f24"/><stop offset="0.35" stop-color="#38353d"/><stop offset="0.45" stop-color="#6b6573"/><stop offset="0.50" stop-color="#807988"/><stop offset="0.65" stop-color="#b1a9b9"/><stop offset="0.72" stop-color="#bfb8c7"/><stop offset="0.85" stop-color="#d5cedd"/><stop offset="0.88" stop-color="#d4cddc"/><stop offset="1.00" stop-color="#c4bdcd"/></linearGradient>
<linearGradient id="tb51" gradientUnits="userSpaceOnUse" x1="739.2" y1="238.1" x2="731.0" y2="215.7"><stop offset="0.00" stop-color="#201e22"/><stop offset="0.12" stop-color="#0d0c0f"/><stop offset="0.20" stop-color="#121114"/><stop offset="0.30" stop-color="#222025"/><stop offset="0.35" stop-color="#38353d"/><stop offset="0.45" stop-color="#6c6673"/><stop offset="0.50" stop-color="#807a88"/><stop offset="0.65" stop-color="#b1a9b9"/><stop offset="0.72" stop-color="#bfb8c7"/><stop offset="0.85" stop-color="#d5cedd"/><stop offset="0.88" stop-color="#d4cddc"/><stop offset="1.00" stop-color="#c4bdcd"/></linearGradient>
<linearGradient id="tb52" gradientUnits="userSpaceOnUse" x1="736.5" y1="239.2" x2="728.0" y2="216.7"><stop offset="0.00" stop-color="#1e1c21"/><stop offset="0.12" stop-color="#0d0c0f"/><stop offset="0.20" stop-color="#121013"/><stop offset="0.30" stop-color="#232126"/><stop offset="0.35" stop-color="#38353d"/><stop offset="0.45" stop-color="#6c6674"/><stop offset="0.50" stop-color="#817b89"/><stop offset="0.65" stop-color="#b1a9b9"/><stop offset="0.72" stop-color="#c0b8c8"/><stop offset="0.85" stop-color="#d5cedd"/><stop offset="0.88" stop-color="#d4cddd"/><stop offset="1.00" stop-color="#c3bccc"/></linearGradient>
<linearGradient id="tb53" gradientUnits="userSpaceOnUse" x1="733.8" y1="240.3" x2="725.1" y2="217.8"><stop offset="0.00" stop-color="#1d1a1f"/><stop offset="0.12" stop-color="#0d0c0f"/><stop offset="0.20" stop-color="#111013"/><stop offset="0.30" stop-color="#242127"/><stop offset="0.35" stop-color="#39353d"/><stop offset="0.45" stop-color="#6c6674"/><stop offset="0.50" stop-color="#827b8a"/><stop offset="0.65" stop-color="#b1a9b9"/><stop offset="0.72" stop-color="#c0b9c8"/><stop offset="0.85" stop-color="#d5cedd"/><stop offset="0.88" stop-color="#d5cedd"/><stop offset="1.00" stop-color="#c3bccc"/></linearGradient>
<linearGradient id="tb54" gradientUnits="userSpaceOnUse" x1="731.2" y1="241.4" x2="722.2" y2="218.9"><stop offset="0.00" stop-color="#1b191d"/><stop offset="0.12" stop-color="#0d0c0e"/><stop offset="0.20" stop-color="#100f12"/><stop offset="0.30" stop-color="#242227"/><stop offset="0.35" stop-color="#39353d"/><stop offset="0.45" stop-color="#6d6774"/><stop offset="0.50" stop-color="#837c8b"/><stop offset="0.65" stop-color="#b1a9b9"/><stop offset="0.72" stop-color="#c0b9c8"/><stop offset="0.85" stop-color="#d5cedd"/><stop offset="0.88" stop-color="#d5cedd"/><stop offset="1.00" stop-color="#c2bbcb"/></linearGradient>
<linearGradient id="tb55" gradientUnits="userSpaceOnUse" x1="728.7" y1="242.6" x2="719.3" y2="220.1"><stop offset="0.00" stop-color="#19171b"/><stop offset="0.12" stop-color="#0d0c0e"/><stop offset="0.20" stop-color="#100f12"/><stop offset="0.30" stop-color="#252328"/><stop offset="0.35" stop-color="#39353d"/><stop offset="0.45" stop-color="#6d6774"/><stop offset="0.50" stop-color="#847d8c"/><stop offset="0.65" stop-color="#b1a9b9"/><stop offset="0.72" stop-color="#c1b9c9"/><stop offset="0.85" stop-color="#d4cddc"/><stop offset="0.88" stop-color="#d6cfde"/><stop offset="1.00" stop-color="#c1baca"/></linearGradient>
<linearGradient id="tb56" gradientUnits="userSpaceOnUse" x1="726.2" y1="243.7" x2="716.5" y2="221.2"><stop offset="0.00" stop-color="#171519"/><stop offset="0.12" stop-color="#0d0c0e"/><stop offset="0.20" stop-color="#0f0e11"/><stop offset="0.30" stop-color="#262329"/><stop offset="0.35" stop-color="#39353d"/><stop offset="0.45" stop-color="#6d6775"/><stop offset="0.50" stop-color="#857e8d"/><stop offset="0.65" stop-color="#b1aab9"/><stop offset="0.72" stop-color="#c1bac9"/><stop offset="0.85" stop-color="#d4cddc"/><stop offset="0.88" stop-color="#d6cfde"/><stop offset="1.00" stop-color="#c1baca"/></linearGradient>
<linearGradient id="tb57" gradientUnits="userSpaceOnUse" x1="723.7" y1="244.9" x2="713.8" y2="222.4"><stop offset="0.00" stop-color="#151417"/><stop offset="0.12" stop-color="#0d0c0e"/><stop offset="0.20" stop-color="#0f0e10"/><stop offset="0.30" stop-color="#27242a"/><stop offset="0.35" stop-color="#39353d"/><stop offset="0.45" stop-color="#6e6875"/><stop offset="0.50" stop-color="#867f8e"/><stop offset="0.65" stop-color="#b1aab9"/><stop offset="0.72" stop-color="#c1bac9"/><stop offset="0.85" stop-color="#d4cddc"/><stop offset="0.88" stop-color="#d6cfde"/><stop offset="1.00" stop-color="#c0b9c9"/></linearGradient>
<linearGradient id="tb58" gradientUnits="userSpaceOnUse" x1="721.4" y1="246.0" x2="711.1" y2="223.6"><stop offset="0.00" stop-color="#141215"/><stop offset="0.12" stop-color="#0d0c0e"/><stop offset="0.20" stop-color="#0e0d10"/><stop offset="0.30" stop-color="#27252a"/><stop offset="0.35" stop-color="#39353d"/><stop offset="0.45" stop-color="#6e6875"/><stop offset="0.50" stop-color="#86808e"/><stop offset="0.65" stop-color="#b1aab9"/><stop offset="0.72" stop-color="#c2baca"/><stop offset="0.85" stop-color="#d4cddc"/><stop offset="0.88" stop-color="#d7d0df"/><stop offset="1.00" stop-color="#c0b9c9"/></linearGradient>
<linearGradient id="tb59" gradientUnits="userSpaceOnUse" x1="719.1" y1="247.3" x2="708.4" y2="224.7"><stop offset="0.00" stop-color="#121013"/><stop offset="0.12" stop-color="#0c0b0e"/><stop offset="0.20" stop-color="#0e0d0f"/><stop offset="0.30" stop-color="#28252b"/><stop offset="0.35" stop-color="#39363e"/><stop offset="0.45" stop-color="#6e6875"/><stop offset="0.50" stop-color="#87808f"/><stop offset="0.65" stop-color="#b1aab9"/><stop offset="0.72" stop-color="#c2bbca"/><stop offset="0.85" stop-color="#d4cddc"/><stop offset="0.88" stop-color="#d7d0df"/><stop offset="1.00" stop-color="#bfb8c8"/></linearGradient>
<linearGradient id="tb60" gradientUnits="userSpaceOnUse" x1="716.9" y1="248.5" x2="705.7" y2="225.9"><stop offset="0.00" stop-color="#100f11"/><stop offset="0.12" stop-color="#0c0b0d"/><stop offset="0.20" stop-color="#0d0c0e"/><stop offset="0.30" stop-color="#29262c"/><stop offset="0.35" stop-color="#3a363e"/><stop offset="0.45" stop-color="#6f6975"/><stop offset="0.50" stop-color="#888190"/><stop offset="0.65" stop-color="#b1aab9"/><stop offset="0.72" stop-color="#c2bbca"/><stop offset="0.85" stop-color="#d4cddc"/><stop offset="0.88" stop-color="#d7d0df"/><stop offset="1.00" stop-color="#beb7c7"/></linearGradient>
<linearGradient id="tb61" gradientUnits="userSpaceOnUse" x1="714.8" y1="249.8" x2="703.1" y2="227.0"><stop offset="0.00" stop-color="#0e0d0f"/><stop offset="0.12" stop-color="#0c0b0d"/><stop offset="0.20" stop-color="#0d0c0e"/><stop offset="0.30" stop-color="#2a272d"/><stop offset="0.35" stop-color="#3a363e"/><stop offset="0.45" stop-color="#6f6976"/><stop offset="0.50" stop-color="#898291"/><stop offset="0.65" stop-color="#b1aab9"/><stop offset="0.72" stop-color="#c3bccb"/><stop offset="0.85" stop-color="#d4cddc"/><stop offset="0.88" stop-color="#d8d1e0"/><stop offset="1.00" stop-color="#beb7c7"/></linearGradient>
<linearGradient id="tb62" gradientUnits="userSpaceOnUse" x1="712.8" y1="251.2" x2="700.3" y2="228.2"><stop offset="0.00" stop-color="#0c0b0d"/><stop offset="0.12" stop-color="#0c0b0d"/><stop offset="0.20" stop-color="#0c0b0d"/><stop offset="0.30" stop-color="#2b282e"/><stop offset="0.35" stop-color="#3a363e"/><stop offset="0.45" stop-color="#6f6976"/><stop offset="0.50" stop-color="#8a8392"/><stop offset="0.65" stop-color="#b1aab9"/><stop offset="0.72" stop-color="#c3bccb"/><stop offset="0.85" stop-color="#d4cddc"/><stop offset="0.88" stop-color="#d8d1e0"/><stop offset="1.00" stop-color="#bdb6c6"/></linearGradient>
<linearGradient id="tb63" gradientUnits="userSpaceOnUse" x1="710.8" y1="252.7" x2="697.5" y2="229.4"><stop offset="0.00" stop-color="#0d0c0e"/><stop offset="0.15" stop-color="#0f0e10"/><stop offset="0.20" stop-color="#111012"/><stop offset="0.30" stop-color="#312e34"/><stop offset="0.35" stop-color="#403c45"/><stop offset="0.50" stop-color="#8d8695"/><stop offset="0.72" stop-color="#c4bdcc"/><stop offset="0.75" stop-color="#c8c1d0"/><stop offset="0.88" stop-color="#d8d1e0"/><stop offset="0.90" stop-color="#d4cddc"/><stop offset="1.00" stop-color="#bdb6c6"/></linearGradient>
<linearGradient id="tb64" gradientUnits="userSpaceOnUse" x1="709.0" y1="254.3" x2="694.5" y2="230.7"><stop offset="0.00" stop-color="#0e0d0f"/><stop offset="0.15" stop-color="#131114"/><stop offset="0.20" stop-color="#171619"/><stop offset="0.30" stop-color="#39353d"/><stop offset="0.35" stop-color="#48444d"/><stop offset="0.50" stop-color="#918a99"/><stop offset="0.72" stop-color="#c5becd"/><stop offset="0.75" stop-color="#c9c2d1"/><stop offset="0.88" stop-color="#d8d1e0"/><stop offset="0.90" stop-color="#d4cddd"/><stop offset="1.00" stop-color="#bdb6c6"/></linearGradient>
<linearGradient id="tb65" gradientUnits="userSpaceOnUse" x1="707.3" y1="256.0" x2="691.5" y2="232.0"><stop offset="0.00" stop-color="#0f0e10"/><stop offset="0.15" stop-color="#161518"/><stop offset="0.20" stop-color="#1e1c20"/><stop offset="0.30" stop-color="#413c45"/><stop offset="0.35" stop-color="#504b55"/><stop offset="0.50" stop-color="#958d9d"/><stop offset="0.72" stop-color="#c6bfce"/><stop offset="0.75" stop-color="#cac3d2"/><stop offset="0.88" stop-color="#d8d1e0"/><stop offset="0.90" stop-color="#d5cedd"/><stop offset="1.00" stop-color="#bdb6c6"/></linearGradient>
<linearGradient id="tb66" gradientUnits="userSpaceOnUse" x1="705.7" y1="257.9" x2="688.8" y2="233.1"><stop offset="0.00" stop-color="#100f11"/><stop offset="0.15" stop-color="#1a181c"/><stop offset="0.20" stop-color="#242227"/><stop offset="0.30" stop-color="#48444e"/><stop offset="0.35" stop-color="#58535e"/><stop offset="0.50" stop-color="#9891a1"/><stop offset="0.72" stop-color="#c6bfcf"/><stop offset="0.75" stop-color="#cbc4d3"/><stop offset="0.88" stop-color="#d7d0e0"/><stop offset="0.90" stop-color="#d6cfde"/><stop offset="1.00" stop-color="#bdb6c6"/></linearGradient>
<linearGradient id="tb67" gradientUnits="userSpaceOnUse" x1="704.8" y1="259.1" x2="690.1" y2="232.0"><stop offset="0.00" stop-color="#111012"/><stop offset="0.15" stop-color="#1e1c20"/><stop offset="0.20" stop-color="#2a282d"/><stop offset="0.30" stop-color="#504b56"/><stop offset="0.35" stop-color="#605a66"/><stop offset="0.50" stop-color="#9c95a5"/><stop offset="0.72" stop-color="#c7c0d0"/><stop offset="0.75" stop-color="#ccc5d4"/><stop offset="0.88" stop-color="#d7d0df"/><stop offset="0.90" stop-color="#d6cfde"/><stop offset="1.00" stop-color="#bdb6c6"/></linearGradient>
<linearGradient id="tb68" gradientUnits="userSpaceOnUse" x1="704.8" y1="259.1" x2="689.5" y2="232.1"><stop offset="0.00" stop-color="#121113"/><stop offset="0.15" stop-color="#211f24"/><stop offset="0.20" stop-color="#312d34"/><stop offset="0.30" stop-color="#58535e"/><stop offset="0.35" stop-color="#67626e"/><stop offset="0.50" stop-color="#a098a9"/><stop offset="0.72" stop-color="#c8c1d1"/><stop offset="0.75" stop-color="#cdc6d5"/><stop offset="0.88" stop-color="#d7d0df"/><stop offset="0.90" stop-color="#d7d0df"/><stop offset="1.00" stop-color="#bdb6c6"/></linearGradient>
<linearGradient id="tb69" gradientUnits="userSpaceOnUse" x1="704.8" y1="259.1" x2="688.0" y2="232.3"><stop offset="0.00" stop-color="#131215"/><stop offset="0.15" stop-color="#252228"/><stop offset="0.20" stop-color="#37333b"/><stop offset="0.30" stop-color="#605a67"/><stop offset="0.35" stop-color="#6f6977"/><stop offset="0.50" stop-color="#a49cad"/><stop offset="0.72" stop-color="#c9c2d2"/><stop offset="0.75" stop-color="#cec7d7"/><stop offset="0.88" stop-color="#d7d0df"/><stop offset="0.90" stop-color="#d7d0df"/><stop offset="1.00" stop-color="#bdb6c6"/></linearGradient>
<linearGradient id="tb70" gradientUnits="userSpaceOnUse" x1="704.8" y1="259.1" x2="685.8" y2="232.5"><stop offset="0.00" stop-color="#141316"/><stop offset="0.15" stop-color="#29262c"/><stop offset="0.20" stop-color="#3d3942"/><stop offset="0.30" stop-color="#67626f"/><stop offset="0.35" stop-color="#77717f"/><stop offset="0.50" stop-color="#a8a0b1"/><stop offset="0.72" stop-color="#cac3d3"/><stop offset="0.75" stop-color="#cfc8d8"/><stop offset="0.88" stop-color="#d7d0df"/><stop offset="0.90" stop-color="#d8d1e0"/><stop offset="1.00" stop-color="#bdb6c6"/></linearGradient>
<linearGradient id="tb71" gradientUnits="userSpaceOnUse" x1="704.8" y1="259.1" x2="682.2" y2="232.8"><stop offset="0.00" stop-color="#1d1c20"/><stop offset="0.15" stop-color="#353139"/><stop offset="0.20" stop-color="#49454e"/><stop offset="0.30" stop-color="#706a78"/><stop offset="0.40" stop-color="#8e8696"/><stop offset="0.50" stop-color="#aaa2b3"/><stop offset="0.65" stop-color="#c0b9c9"/><stop offset="0.75" stop-color="#cfc8d7"/><stop offset="0.85" stop-color="#d5cedd"/><stop offset="0.90" stop-color="#d6cfde"/><stop offset="1.00" stop-color="#bcb5c5"/></linearGradient>
<linearGradient id="tb72" gradientUnits="userSpaceOnUse" x1="704.8" y1="259.1" x2="676.7" y2="233.9"><stop offset="0.00" stop-color="#2b292e"/><stop offset="0.15" stop-color="#45414a"/><stop offset="0.20" stop-color="#58535d"/><stop offset="0.30" stop-color="#7a7382"/><stop offset="0.40" stop-color="#948c9c"/><stop offset="0.50" stop-color="#aca5b5"/><stop offset="0.65" stop-color="#c1baca"/><stop offset="0.75" stop-color="#cec7d7"/><stop offset="0.85" stop-color="#d5cedd"/><stop offset="0.90" stop-color="#d4cddc"/><stop offset="1.00" stop-color="#bab3c3"/></linearGradient>
<linearGradient id="tb73" gradientUnits="userSpaceOnUse" x1="704.8" y1="259.1" x2="669.6" y2="236.7"><stop offset="0.00" stop-color="#39363d"/><stop offset="0.15" stop-color="#56515b"/><stop offset="0.20" stop-color="#66616d"/><stop offset="0.30" stop-color="#837c8b"/><stop offset="0.40" stop-color="#9a92a3"/><stop offset="0.50" stop-color="#aea7b7"/><stop offset="0.65" stop-color="#c1baca"/><stop offset="0.75" stop-color="#cdc6d6"/><stop offset="0.85" stop-color="#d5cedd"/><stop offset="0.90" stop-color="#d1cad9"/><stop offset="1.00" stop-color="#b9b2c1"/></linearGradient>
<linearGradient id="tb74" gradientUnits="userSpaceOnUse" x1="704.8" y1="259.1" x2="662.1" y2="242.1"><stop offset="0.00" stop-color="#46434b"/><stop offset="0.15" stop-color="#66616d"/><stop offset="0.20" stop-color="#756f7c"/><stop offset="0.30" stop-color="#8c8595"/><stop offset="0.40" stop-color="#a098a9"/><stop offset="0.50" stop-color="#b0a9b9"/><stop offset="0.65" stop-color="#c2bbca"/><stop offset="0.75" stop-color="#cdc6d5"/><stop offset="0.85" stop-color="#d5cedd"/><stop offset="0.90" stop-color="#cec7d6"/><stop offset="1.00" stop-color="#b7b0c0"/></linearGradient>
<linearGradient id="tb75" gradientUnits="userSpaceOnUse" x1="704.8" y1="259.1" x2="655.0" y2="251.7"><stop offset="0.00" stop-color="#544f5a"/><stop offset="0.15" stop-color="#77717e"/><stop offset="0.20" stop-color="#847d8b"/><stop offset="0.30" stop-color="#968e9e"/><stop offset="0.40" stop-color="#a69eaf"/><stop offset="0.50" stop-color="#b3abbb"/><stop offset="0.65" stop-color="#c3bccb"/><stop offset="0.75" stop-color="#ccc5d4"/><stop offset="0.85" stop-color="#d5cedd"/><stop offset="0.90" stop-color="#cbc4d3"/><stop offset="1.00" stop-color="#b6afbe"/></linearGradient>
<linearGradient id="tb76" gradientUnits="userSpaceOnUse" x1="704.8" y1="259.1" x2="651.6" y2="264.6"><stop offset="0.00" stop-color="#67626d"/><stop offset="0.20" stop-color="#938c9b"/><stop offset="0.40" stop-color="#aca4b5"/><stop offset="0.65" stop-color="#bfb8c8"/><stop offset="0.85" stop-color="#d1c9d9"/><stop offset="1.00" stop-color="#b5aebd"/></linearGradient>
<linearGradient id="tb77" gradientUnits="userSpaceOnUse" x1="704.8" y1="259.1" x2="652.1" y2="273.9"><stop offset="0.00" stop-color="#7e7885"/><stop offset="0.20" stop-color="#a29aaa"/><stop offset="0.40" stop-color="#b2a9ba"/><stop offset="0.65" stop-color="#b9b1c2"/><stop offset="0.85" stop-color="#c9c2d1"/><stop offset="1.00" stop-color="#b5aebd"/></linearGradient>
<linearGradient id="tb78" gradientUnits="userSpaceOnUse" x1="704.8" y1="259.1" x2="653.2" y2="278.9"><stop offset="0.00" stop-color="#958e9c"/><stop offset="0.20" stop-color="#b1a9b9"/><stop offset="0.40" stop-color="#b7afc0"/><stop offset="0.65" stop-color="#b3abbc"/><stop offset="0.85" stop-color="#c1baca"/><stop offset="1.00" stop-color="#b5aebd"/></linearGradient>
<linearGradient id="tb79" gradientUnits="userSpaceOnUse" x1="704.8" y1="259.1" x2="654.2" y2="282.6"><stop offset="0.00" stop-color="#aca4b3"/><stop offset="0.20" stop-color="#c0b8c8"/><stop offset="0.40" stop-color="#bdb4c5"/><stop offset="0.65" stop-color="#ada4b6"/><stop offset="0.85" stop-color="#b9b2c2"/><stop offset="1.00" stop-color="#b5aebd"/></linearGradient>
<linearGradient id="tb80" gradientUnits="userSpaceOnUse" x1="705.6" y1="260.1" x2="656.6" y2="289.4"><stop offset="0.00" stop-color="#b8b0c0"/><stop offset="0.03" stop-color="#bcb4c4"/><stop offset="0.15" stop-color="#c6bece"/><stop offset="0.20" stop-color="#c9c1d1"/><stop offset="0.40" stop-color="#c0b7c8"/><stop offset="0.45" stop-color="#bcb3c4"/><stop offset="0.60" stop-color="#aea5b7"/><stop offset="0.65" stop-color="#a9a0b2"/><stop offset="0.71" stop-color="#aca3b5"/><stop offset="0.80" stop-color="#b0a8b9"/><stop offset="0.85" stop-color="#b4acbd"/><stop offset="0.89" stop-color="#b4acbd"/><stop offset="0.95" stop-color="#b5adbd"/><stop offset="1.00" stop-color="#b5aebd"/></linearGradient>
<linearGradient id="tb81" gradientUnits="userSpaceOnUse" x1="707.5" y1="262.4" x2="659.1" y2="294.7"><stop offset="0.00" stop-color="#b7afbf"/><stop offset="0.03" stop-color="#beb6c6"/><stop offset="0.15" stop-color="#c7bfcf"/><stop offset="0.20" stop-color="#cac2d2"/><stop offset="0.40" stop-color="#c1b9c9"/><stop offset="0.45" stop-color="#bdb4c5"/><stop offset="0.60" stop-color="#aea5b7"/><stop offset="0.65" stop-color="#a89fb1"/><stop offset="0.71" stop-color="#a9a1b2"/><stop offset="0.80" stop-color="#aca4b5"/><stop offset="0.85" stop-color="#b0a8b9"/><stop offset="0.89" stop-color="#b2aaba"/><stop offset="0.95" stop-color="#b4adbd"/><stop offset="1.00" stop-color="#b5aebd"/></linearGradient>
<linearGradient id="tb82" gradientUnits="userSpaceOnUse" x1="709.3" y1="264.6" x2="662.1" y2="299.9"><stop offset="0.00" stop-color="#b5adbd"/><stop offset="0.03" stop-color="#bfb7c7"/><stop offset="0.15" stop-color="#c8c0d0"/><stop offset="0.20" stop-color="#cbc3d3"/><stop offset="0.40" stop-color="#c3bacb"/><stop offset="0.45" stop-color="#bfb6c7"/><stop offset="0.60" stop-color="#aea5b7"/><stop offset="0.65" stop-color="#a79fb0"/><stop offset="0.71" stop-color="#a79eb0"/><stop offset="0.80" stop-color="#a8a0b1"/><stop offset="0.85" stop-color="#ada5b6"/><stop offset="0.89" stop-color="#afa7b8"/><stop offset="0.95" stop-color="#b4acbc"/><stop offset="1.00" stop-color="#b6afbe"/></linearGradient>
<linearGradient id="tb83" gradientUnits="userSpaceOnUse" x1="711.1" y1="266.5" x2="665.5" y2="304.7"><stop offset="0.00" stop-color="#b3abbb"/><stop offset="0.03" stop-color="#c1b9c9"/><stop offset="0.15" stop-color="#c9c1d1"/><stop offset="0.20" stop-color="#ccc4d4"/><stop offset="0.40" stop-color="#c4bbcc"/><stop offset="0.45" stop-color="#c0b7c8"/><stop offset="0.60" stop-color="#aea5b7"/><stop offset="0.65" stop-color="#a79eb0"/><stop offset="0.71" stop-color="#a49cad"/><stop offset="0.80" stop-color="#a59cae"/><stop offset="0.85" stop-color="#aaa2b3"/><stop offset="0.89" stop-color="#ada5b6"/><stop offset="0.95" stop-color="#b3acbc"/><stop offset="1.00" stop-color="#b6afbe"/></linearGradient>
<linearGradient id="tb84" gradientUnits="userSpaceOnUse" x1="712.9" y1="268.4" x2="669.1" y2="308.9"><stop offset="0.00" stop-color="#b1a9b9"/><stop offset="0.03" stop-color="#c2baca"/><stop offset="0.15" stop-color="#cbc3d3"/><stop offset="0.20" stop-color="#cdc5d5"/><stop offset="0.40" stop-color="#c5bccd"/><stop offset="0.45" stop-color="#c1b8c9"/><stop offset="0.60" stop-color="#afa6b8"/><stop offset="0.65" stop-color="#a69daf"/><stop offset="0.71" stop-color="#a299ab"/><stop offset="0.80" stop-color="#a198aa"/><stop offset="0.85" stop-color="#a79fb0"/><stop offset="0.89" stop-color="#aaa3b3"/><stop offset="0.95" stop-color="#b3abbc"/><stop offset="1.00" stop-color="#b6afbe"/></linearGradient>
<linearGradient id="tb85" gradientUnits="userSpaceOnUse" x1="714.7" y1="270.1" x2="672.3" y2="312.2"><stop offset="0.00" stop-color="#b0a8b8"/><stop offset="0.03" stop-color="#c4bccc"/><stop offset="0.15" stop-color="#ccc4d4"/><stop offset="0.20" stop-color="#cec6d6"/><stop offset="0.40" stop-color="#c6bdce"/><stop offset="0.45" stop-color="#c2b9ca"/><stop offset="0.60" stop-color="#afa6b8"/><stop offset="0.65" stop-color="#a59dae"/><stop offset="0.71" stop-color="#9f97a8"/><stop offset="0.80" stop-color="#9d94a6"/><stop offset="0.85" stop-color="#a49cad"/><stop offset="0.89" stop-color="#a8a0b1"/><stop offset="0.95" stop-color="#b2abbb"/><stop offset="1.00" stop-color="#b7afbf"/></linearGradient>
<linearGradient id="tb86" gradientUnits="userSpaceOnUse" x1="716.5" y1="271.7" x2="674.8" y2="314.7"><stop offset="0.00" stop-color="#aea6b6"/><stop offset="0.03" stop-color="#c5bdcd"/><stop offset="0.15" stop-color="#cdc5d5"/><stop offset="0.20" stop-color="#cfc7d7"/><stop offset="0.40" stop-color="#c7becf"/><stop offset="0.45" stop-color="#c4bbcc"/><stop offset="0.60" stop-color="#afa6b8"/><stop offset="0.65" stop-color="#a59cae"/><stop offset="0.71" stop-color="#9d95a6"/><stop offset="0.80" stop-color="#9991a2"/><stop offset="0.85" stop-color="#a199aa"/><stop offset="0.89" stop-color="#a69eae"/><stop offset="0.95" stop-color="#b2aabb"/><stop offset="1.00" stop-color="#b7afbf"/></linearGradient>
<linearGradient id="tb87" gradientUnits="userSpaceOnUse" x1="718.3" y1="273.2" x2="676.9" y2="316.8"><stop offset="0.00" stop-color="#aca4b4"/><stop offset="0.03" stop-color="#c7bfcf"/><stop offset="0.15" stop-color="#cfc7d7"/><stop offset="0.20" stop-color="#d0c7d8"/><stop offset="0.40" stop-color="#c8bfd0"/><stop offset="0.45" stop-color="#c5bccd"/><stop offset="0.60" stop-color="#b0a7b8"/><stop offset="0.65" stop-color="#a49bad"/><stop offset="0.71" stop-color="#9a92a3"/><stop offset="0.80" stop-color="#958d9e"/><stop offset="0.85" stop-color="#9d95a6"/><stop offset="0.89" stop-color="#a39bac"/><stop offset="0.95" stop-color="#b2aaba"/><stop offset="1.00" stop-color="#b7b0bf"/></linearGradient>
<linearGradient id="tb88" gradientUnits="userSpaceOnUse" x1="720.1" y1="274.6" x2="679.0" y2="319.0"><stop offset="0.00" stop-color="#aba3b3"/><stop offset="0.03" stop-color="#c8c0d0"/><stop offset="0.15" stop-color="#d0c8d8"/><stop offset="0.20" stop-color="#d0c8d8"/><stop offset="0.40" stop-color="#c9c0d1"/><stop offset="0.45" stop-color="#c6bdce"/><stop offset="0.60" stop-color="#b0a7b9"/><stop offset="0.65" stop-color="#a49bad"/><stop offset="0.71" stop-color="#9890a1"/><stop offset="0.80" stop-color="#91899a"/><stop offset="0.85" stop-color="#9a92a3"/><stop offset="0.89" stop-color="#a199aa"/><stop offset="0.95" stop-color="#b1a9ba"/><stop offset="1.00" stop-color="#b8b0c0"/></linearGradient>
<linearGradient id="tb89" gradientUnits="userSpaceOnUse" x1="721.9" y1="276.0" x2="681.1" y2="321.1"><stop offset="0.00" stop-color="#a9a1b1"/><stop offset="0.03" stop-color="#cac2d2"/><stop offset="0.15" stop-color="#d1c9d9"/><stop offset="0.20" stop-color="#d1c9d9"/><stop offset="0.40" stop-color="#cac1d2"/><stop offset="0.45" stop-color="#c8bfd0"/><stop offset="0.60" stop-color="#b0a7b9"/><stop offset="0.65" stop-color="#a39aac"/><stop offset="0.71" stop-color="#968d9f"/><stop offset="0.80" stop-color="#8d8596"/><stop offset="0.85" stop-color="#978fa0"/><stop offset="0.89" stop-color="#9e96a7"/><stop offset="0.95" stop-color="#b1a9b9"/><stop offset="1.00" stop-color="#b8b0c0"/></linearGradient>
<linearGradient id="tb90" gradientUnits="userSpaceOnUse" x1="723.7" y1="277.4" x2="683.3" y2="323.3"><stop offset="0.00" stop-color="#a79faf"/><stop offset="0.03" stop-color="#cbc3d3"/><stop offset="0.15" stop-color="#d3cbdb"/><stop offset="0.20" stop-color="#d2cada"/><stop offset="0.40" stop-color="#cbc2d3"/><stop offset="0.45" stop-color="#c9c0d1"/><stop offset="0.60" stop-color="#b0a7b9"/><stop offset="0.65" stop-color="#a29aab"/><stop offset="0.71" stop-color="#938b9c"/><stop offset="0.80" stop-color="#898192"/><stop offset="0.85" stop-color="#948c9d"/><stop offset="0.89" stop-color="#9c94a5"/><stop offset="0.95" stop-color="#b0a8b9"/><stop offset="1.00" stop-color="#b8b0c0"/></linearGradient>
<linearGradient id="tb91" gradientUnits="userSpaceOnUse" x1="725.6" y1="278.7" x2="685.5" y2="325.5"><stop offset="0.00" stop-color="#a69eae"/><stop offset="0.03" stop-color="#cdc5d5"/><stop offset="0.15" stop-color="#d4ccdc"/><stop offset="0.20" stop-color="#d3cbdb"/><stop offset="0.40" stop-color="#ccc3d4"/><stop offset="0.45" stop-color="#cac1d2"/><stop offset="0.60" stop-color="#b1a8ba"/><stop offset="0.65" stop-color="#a299ab"/><stop offset="0.71" stop-color="#91899a"/><stop offset="0.80" stop-color="#857d8e"/><stop offset="0.85" stop-color="#91899a"/><stop offset="0.89" stop-color="#9a92a3"/><stop offset="0.95" stop-color="#b0a8b9"/><stop offset="1.00" stop-color="#b9b1c1"/></linearGradient>
<linearGradient id="tb92" gradientUnits="userSpaceOnUse" x1="727.4" y1="280.0" x2="687.9" y2="327.8"><stop offset="0.00" stop-color="#a49cac"/><stop offset="0.03" stop-color="#cec6d6"/><stop offset="0.15" stop-color="#d5cddd"/><stop offset="0.20" stop-color="#d4ccdc"/><stop offset="0.40" stop-color="#cdc4d5"/><stop offset="0.45" stop-color="#cbc2d3"/><stop offset="0.60" stop-color="#b1a8ba"/><stop offset="0.65" stop-color="#a198aa"/><stop offset="0.71" stop-color="#8e8697"/><stop offset="0.80" stop-color="#81798a"/><stop offset="0.85" stop-color="#8d8596"/><stop offset="0.89" stop-color="#978fa0"/><stop offset="0.95" stop-color="#afa7b8"/><stop offset="1.00" stop-color="#b9b1c1"/></linearGradient>
<linearGradient id="tb93" gradientUnits="userSpaceOnUse" x1="731.1" y1="282.4" x2="692.7" y2="332.0"><stop offset="0.00" stop-color="#a39bab"/><stop offset="0.03" stop-color="#cfc7d7"/><stop offset="0.15" stop-color="#d6cede"/><stop offset="0.45" stop-color="#ccc3d4"/><stop offset="0.47" stop-color="#c9c0d1"/><stop offset="0.60" stop-color="#b1a8ba"/><stop offset="0.71" stop-color="#8d8596"/><stop offset="0.80" stop-color="#7f7788"/><stop offset="0.89" stop-color="#968e9f"/><stop offset="0.95" stop-color="#afa7b8"/><stop offset="1.00" stop-color="#b9b1c1"/></linearGradient>
<linearGradient id="tb94" gradientUnits="userSpaceOnUse" x1="736.7" y1="286.0" x2="700.0" y2="337.8"><stop offset="0.00" stop-color="#a39bab"/><stop offset="0.03" stop-color="#cfc7d7"/><stop offset="0.15" stop-color="#d6cede"/><stop offset="0.45" stop-color="#ccc3d4"/><stop offset="0.47" stop-color="#c9c0d1"/><stop offset="0.60" stop-color="#b1a8ba"/><stop offset="0.71" stop-color="#8c8495"/><stop offset="0.80" stop-color="#7e7687"/><stop offset="0.89" stop-color="#968e9e"/><stop offset="0.95" stop-color="#afa7b8"/><stop offset="1.00" stop-color="#b8b0c0"/></linearGradient>
<linearGradient id="tb95" gradientUnits="userSpaceOnUse" x1="742.6" y1="289.7" x2="707.4" y2="343.2"><stop offset="0.00" stop-color="#a39bab"/><stop offset="0.03" stop-color="#cfc7d7"/><stop offset="0.15" stop-color="#d6cede"/><stop offset="0.45" stop-color="#ccc3d4"/><stop offset="0.47" stop-color="#c9c0d1"/><stop offset="0.60" stop-color="#b1a8ba"/><stop offset="0.71" stop-color="#8c8495"/><stop offset="0.80" stop-color="#7e7687"/><stop offset="0.89" stop-color="#958d9e"/><stop offset="0.95" stop-color="#aea6b7"/><stop offset="1.00" stop-color="#b8b0c0"/></linearGradient>
<linearGradient id="tb96" gradientUnits="userSpaceOnUse" x1="748.8" y1="293.5" x2="714.8" y2="348.1"><stop offset="0.00" stop-color="#a39bab"/><stop offset="0.03" stop-color="#cfc7d7"/><stop offset="0.15" stop-color="#d6cede"/><stop offset="0.45" stop-color="#ccc3d4"/><stop offset="0.47" stop-color="#c9c0d2"/><stop offset="0.60" stop-color="#b1a8ba"/><stop offset="0.71" stop-color="#8c8494"/><stop offset="0.80" stop-color="#7d7586"/><stop offset="0.89" stop-color="#958d9e"/><stop offset="0.95" stop-color="#aea6b7"/><stop offset="1.00" stop-color="#b8b0c0"/></linearGradient>
<linearGradient id="tb97" gradientUnits="userSpaceOnUse" x1="755.3" y1="297.2" x2="722.0" y2="352.7"><stop offset="0.00" stop-color="#a39bab"/><stop offset="0.03" stop-color="#cfc7d7"/><stop offset="0.15" stop-color="#d6cede"/><stop offset="0.45" stop-color="#ccc3d4"/><stop offset="0.47" stop-color="#cac1d2"/><stop offset="0.60" stop-color="#b0a7b9"/><stop offset="0.71" stop-color="#8b8394"/><stop offset="0.80" stop-color="#7d7586"/><stop offset="0.89" stop-color="#948c9d"/><stop offset="0.95" stop-color="#aea6b7"/><stop offset="1.00" stop-color="#b7afbf"/></linearGradient>
<linearGradient id="tb98" gradientUnits="userSpaceOnUse" x1="762.0" y1="301.0" x2="728.9" y2="357.1"><stop offset="0.00" stop-color="#a39bab"/><stop offset="0.03" stop-color="#cfc7d7"/><stop offset="0.15" stop-color="#d6cede"/><stop offset="0.45" stop-color="#cdc4d5"/><stop offset="0.47" stop-color="#cac1d2"/><stop offset="0.60" stop-color="#b0a7b9"/><stop offset="0.71" stop-color="#8b8393"/><stop offset="0.80" stop-color="#7c7485"/><stop offset="0.89" stop-color="#948c9d"/><stop offset="0.95" stop-color="#aea6b7"/><stop offset="1.00" stop-color="#b7afbf"/></linearGradient>
<linearGradient id="tb99" gradientUnits="userSpaceOnUse" x1="769.1" y1="304.7" x2="735.6" y2="361.5"><stop offset="0.00" stop-color="#a39bab"/><stop offset="0.03" stop-color="#cfc7d7"/><stop offset="0.15" stop-color="#d6cede"/><stop offset="0.45" stop-color="#cdc4d5"/><stop offset="0.47" stop-color="#cac1d2"/><stop offset="0.60" stop-color="#b0a7b9"/><stop offset="0.71" stop-color="#8a8293"/><stop offset="0.80" stop-color="#7c7485"/><stop offset="0.89" stop-color="#948c9c"/><stop offset="0.95" stop-color="#ada5b6"/><stop offset="1.00" stop-color="#b6aebe"/></linearGradient>
<linearGradient id="tb100" gradientUnits="userSpaceOnUse" x1="776.3" y1="308.5" x2="742.4" y2="366.0"><stop offset="0.00" stop-color="#a39bab"/><stop offset="0.03" stop-color="#cfc7d7"/><stop offset="0.15" stop-color="#d6cede"/><stop offset="0.45" stop-color="#cdc4d5"/><stop offset="0.47" stop-color="#cbc2d3"/><stop offset="0.60" stop-color="#b0a7b9"/><stop offset="0.71" stop-color="#8a8292"/><stop offset="0.80" stop-color="#7c7484"/><stop offset="0.89" stop-color="#948c9c"/><stop offset="0.95" stop-color="#ada5b6"/><stop offset="1.00" stop-color="#b6aebe"/></linearGradient>
<linearGradient id="tb101" gradientUnits="userSpaceOnUse" x1="783.7" y1="312.3" x2="749.2" y2="370.5"><stop offset="0.00" stop-color="#a39bab"/><stop offset="0.03" stop-color="#cfc7d7"/><stop offset="0.15" stop-color="#d5cddd"/><stop offset="0.45" stop-color="#cdc4d5"/><stop offset="0.47" stop-color="#cbc2d3"/><stop offset="0.60" stop-color="#b0a7b9"/><stop offset="0.71" stop-color="#8a8292"/><stop offset="0.80" stop-color="#7b7384"/><stop offset="0.89" stop-color="#938b9c"/><stop offset="0.95" stop-color="#ada5b6"/><stop offset="1.00" stop-color="#b6aebe"/></linearGradient>
<linearGradient id="tb102" gradientUnits="userSpaceOnUse" x1="791.0" y1="316.0" x2="756.0" y2="375.1"><stop offset="0.00" stop-color="#a39bab"/><stop offset="0.03" stop-color="#cfc7d7"/><stop offset="0.15" stop-color="#d5cddd"/><stop offset="0.45" stop-color="#cdc4d5"/><stop offset="0.47" stop-color="#cbc2d3"/><stop offset="0.60" stop-color="#b0a7b9"/><stop offset="0.71" stop-color="#898192"/><stop offset="0.80" stop-color="#7b7384"/><stop offset="0.89" stop-color="#938b9b"/><stop offset="0.95" stop-color="#aca4b5"/><stop offset="1.00" stop-color="#b5adbd"/></linearGradient>
<linearGradient id="tb103" gradientUnits="userSpaceOnUse" x1="798.4" y1="319.9" x2="762.7" y2="379.7"><stop offset="0.00" stop-color="#a39bab"/><stop offset="0.03" stop-color="#cfc7d7"/><stop offset="0.15" stop-color="#d5cddd"/><stop offset="0.45" stop-color="#cdc4d5"/><stop offset="0.47" stop-color="#ccc3d4"/><stop offset="0.60" stop-color="#b0a7b9"/><stop offset="0.71" stop-color="#898191"/><stop offset="0.80" stop-color="#7a7283"/><stop offset="0.89" stop-color="#928a9b"/><stop offset="0.95" stop-color="#aca4b5"/><stop offset="1.00" stop-color="#b5adbd"/></linearGradient>
<linearGradient id="tb104" gradientUnits="userSpaceOnUse" x1="805.6" y1="323.7" x2="769.5" y2="384.2"><stop offset="0.00" stop-color="#a39bab"/><stop offset="0.03" stop-color="#cfc7d7"/><stop offset="0.15" stop-color="#d5cddd"/><stop offset="0.45" stop-color="#cdc4d5"/><stop offset="0.47" stop-color="#ccc3d4"/><stop offset="0.60" stop-color="#afa6b8"/><stop offset="0.71" stop-color="#888091"/><stop offset="0.80" stop-color="#7a7283"/><stop offset="0.89" stop-color="#928a9a"/><stop offset="0.95" stop-color="#aca4b5"/><stop offset="1.00" stop-color="#b4acbc"/></linearGradient>
<linearGradient id="tb105" gradientUnits="userSpaceOnUse" x1="812.8" y1="327.6" x2="776.2" y2="388.7"><stop offset="0.00" stop-color="#a39bab"/><stop offset="0.03" stop-color="#cfc7d7"/><stop offset="0.15" stop-color="#d5cddd"/><stop offset="0.45" stop-color="#cdc4d5"/><stop offset="0.47" stop-color="#ccc3d4"/><stop offset="0.60" stop-color="#afa6b8"/><stop offset="0.71" stop-color="#888090"/><stop offset="0.80" stop-color="#797182"/><stop offset="0.89" stop-color="#928a9a"/><stop offset="0.95" stop-color="#aca4b5"/><stop offset="1.00" stop-color="#b4acbc"/></linearGradient>
<linearGradient id="tb106" gradientUnits="userSpaceOnUse" x1="820.0" y1="331.4" x2="783.0" y2="393.1"><stop offset="0.00" stop-color="#a39bab"/><stop offset="0.03" stop-color="#cfc7d7"/><stop offset="0.15" stop-color="#d5cddd"/><stop offset="0.45" stop-color="#cdc4d5"/><stop offset="0.47" stop-color="#cdc4d5"/><stop offset="0.60" stop-color="#afa6b8"/><stop offset="0.71" stop-color="#888090"/><stop offset="0.80" stop-color="#797182"/><stop offset="0.89" stop-color="#928a9a"/><stop offset="0.95" stop-color="#aba3b4"/><stop offset="1.00" stop-color="#b4acbc"/></linearGradient>
<linearGradient id="tb107" gradientUnits="userSpaceOnUse" x1="827.1" y1="335.3" x2="789.7" y2="397.6"><stop offset="0.00" stop-color="#a39bab"/><stop offset="0.03" stop-color="#cfc7d7"/><stop offset="0.15" stop-color="#d5cddd"/><stop offset="0.45" stop-color="#cdc5d5"/><stop offset="0.47" stop-color="#cdc4d5"/><stop offset="0.60" stop-color="#afa6b8"/><stop offset="0.71" stop-color="#877f8f"/><stop offset="0.80" stop-color="#787081"/><stop offset="0.89" stop-color="#918999"/><stop offset="0.95" stop-color="#aba3b4"/><stop offset="1.00" stop-color="#b3abbb"/></linearGradient>
<linearGradient id="tb108" gradientUnits="userSpaceOnUse" x1="836.0" y1="340.0" x2="798.1" y2="403.2"><stop offset="0.00" stop-color="#a39bab"/><stop offset="0.03" stop-color="#cfc7d7"/><stop offset="0.15" stop-color="#d5cddd"/><stop offset="0.45" stop-color="#cdc5d5"/><stop offset="0.47" stop-color="#cdc4d5"/><stop offset="0.58" stop-color="#b3aabc"/><stop offset="0.60" stop-color="#afa6b8"/><stop offset="0.69" stop-color="#8e8696"/><stop offset="0.71" stop-color="#877f8f"/><stop offset="0.78" stop-color="#7b7384"/><stop offset="0.80" stop-color="#787081"/><stop offset="0.88" stop-color="#8e8696"/><stop offset="0.89" stop-color="#918999"/><stop offset="0.95" stop-color="#aba3b4"/><stop offset="1.00" stop-color="#b3abbb"/></linearGradient>
<linearGradient id="tb109" gradientUnits="userSpaceOnUse" x1="846.6" y1="345.7" x2="808.1" y2="409.9"><stop offset="0.00" stop-color="#a49cac"/><stop offset="0.03" stop-color="#cfc7d7"/><stop offset="0.15" stop-color="#d5cddd"/><stop offset="0.45" stop-color="#cdc4d5"/><stop offset="0.47" stop-color="#cdc4d5"/><stop offset="0.58" stop-color="#b3aabc"/><stop offset="0.60" stop-color="#afa6b8"/><stop offset="0.69" stop-color="#8e8696"/><stop offset="0.71" stop-color="#877f8f"/><stop offset="0.78" stop-color="#7b7384"/><stop offset="0.80" stop-color="#787081"/><stop offset="0.88" stop-color="#8e8696"/><stop offset="0.89" stop-color="#918999"/><stop offset="0.95" stop-color="#aba3b4"/><stop offset="1.00" stop-color="#b3abbb"/></linearGradient>
<linearGradient id="tb110" gradientUnits="userSpaceOnUse" x1="857.3" y1="351.3" x2="818.1" y2="416.7"><stop offset="0.00" stop-color="#a49cac"/><stop offset="0.03" stop-color="#cfc7d7"/><stop offset="0.15" stop-color="#d5cddd"/><stop offset="0.45" stop-color="#cdc4d5"/><stop offset="0.47" stop-color="#cdc4d5"/><stop offset="0.58" stop-color="#b3aabc"/><stop offset="0.60" stop-color="#aea5b7"/><stop offset="0.69" stop-color="#8d8596"/><stop offset="0.71" stop-color="#867e8e"/><stop offset="0.78" stop-color="#7b7383"/><stop offset="0.80" stop-color="#787081"/><stop offset="0.88" stop-color="#8e8696"/><stop offset="0.89" stop-color="#918999"/><stop offset="0.95" stop-color="#aba3b4"/><stop offset="1.00" stop-color="#b3abbb"/></linearGradient>
<linearGradient id="tb111" gradientUnits="userSpaceOnUse" x1="868.0" y1="356.9" x2="828.1" y2="423.5"><stop offset="0.00" stop-color="#a59dad"/><stop offset="0.03" stop-color="#cfc7d7"/><stop offset="0.15" stop-color="#d5cddd"/><stop offset="0.45" stop-color="#cdc4d5"/><stop offset="0.47" stop-color="#ccc3d4"/><stop offset="0.58" stop-color="#b3aabc"/><stop offset="0.60" stop-color="#aea5b7"/><stop offset="0.69" stop-color="#8d8595"/><stop offset="0.71" stop-color="#867e8e"/><stop offset="0.78" stop-color="#7a7283"/><stop offset="0.80" stop-color="#787081"/><stop offset="0.88" stop-color="#8e8696"/><stop offset="0.89" stop-color="#918999"/><stop offset="0.95" stop-color="#aba3b4"/><stop offset="1.00" stop-color="#b2aabb"/></linearGradient>
<linearGradient id="tb112" gradientUnits="userSpaceOnUse" x1="878.8" y1="362.4" x2="838.0" y2="430.4"><stop offset="0.00" stop-color="#a59dad"/><stop offset="0.03" stop-color="#cfc7d7"/><stop offset="0.15" stop-color="#d5ccdd"/><stop offset="0.45" stop-color="#cdc4d5"/><stop offset="0.47" stop-color="#ccc3d4"/><stop offset="0.58" stop-color="#b3aabb"/><stop offset="0.60" stop-color="#aea5b7"/><stop offset="0.69" stop-color="#8d8495"/><stop offset="0.71" stop-color="#867e8e"/><stop offset="0.78" stop-color="#7a7283"/><stop offset="0.80" stop-color="#787081"/><stop offset="0.88" stop-color="#8e8696"/><stop offset="0.89" stop-color="#918999"/><stop offset="0.95" stop-color="#aaa2b3"/><stop offset="1.00" stop-color="#b2aaba"/></linearGradient>
<linearGradient id="tb113" gradientUnits="userSpaceOnUse" x1="889.5" y1="368.0" x2="847.9" y2="437.3"><stop offset="0.00" stop-color="#a69eae"/><stop offset="0.03" stop-color="#cfc7d7"/><stop offset="0.15" stop-color="#d5ccdd"/><stop offset="0.45" stop-color="#cdc4d5"/><stop offset="0.47" stop-color="#ccc3d4"/><stop offset="0.58" stop-color="#b2a9bb"/><stop offset="0.60" stop-color="#ada4b6"/><stop offset="0.69" stop-color="#8c8494"/><stop offset="0.71" stop-color="#857d8e"/><stop offset="0.78" stop-color="#7a7282"/><stop offset="0.80" stop-color="#787081"/><stop offset="0.88" stop-color="#8e8696"/><stop offset="0.89" stop-color="#918999"/><stop offset="0.95" stop-color="#aaa2b3"/><stop offset="1.00" stop-color="#b2aaba"/></linearGradient>
<linearGradient id="tb114" gradientUnits="userSpaceOnUse" x1="900.3" y1="373.5" x2="857.9" y2="444.2"><stop offset="0.00" stop-color="#a69eae"/><stop offset="0.03" stop-color="#cfc7d7"/><stop offset="0.15" stop-color="#d4ccdc"/><stop offset="0.45" stop-color="#cdc4d5"/><stop offset="0.47" stop-color="#ccc3d4"/><stop offset="0.58" stop-color="#b2a9bb"/><stop offset="0.60" stop-color="#ada4b6"/><stop offset="0.69" stop-color="#8c8494"/><stop offset="0.71" stop-color="#857d8d"/><stop offset="0.78" stop-color="#797182"/><stop offset="0.80" stop-color="#787081"/><stop offset="0.88" stop-color="#8e8696"/><stop offset="0.89" stop-color="#918999"/><stop offset="0.95" stop-color="#aaa2b3"/><stop offset="1.00" stop-color="#b2aaba"/></linearGradient>
<linearGradient id="tb115" gradientUnits="userSpaceOnUse" x1="911.1" y1="378.9" x2="867.8" y2="451.1"><stop offset="0.00" stop-color="#a79faf"/><stop offset="0.03" stop-color="#cfc7d7"/><stop offset="0.15" stop-color="#d4ccdc"/><stop offset="0.45" stop-color="#cdc4d5"/><stop offset="0.47" stop-color="#ccc3d4"/><stop offset="0.58" stop-color="#b2a9bb"/><stop offset="0.60" stop-color="#ada4b6"/><stop offset="0.69" stop-color="#8b8394"/><stop offset="0.71" stop-color="#857d8d"/><stop offset="0.78" stop-color="#797182"/><stop offset="0.80" stop-color="#787080"/><stop offset="0.88" stop-color="#8e8696"/><stop offset="0.89" stop-color="#918999"/><stop offset="0.95" stop-color="#aaa2b3"/><stop offset="1.00" stop-color="#b2aaba"/></linearGradient>
<linearGradient id="tb116" gradientUnits="userSpaceOnUse" x1="921.9" y1="384.4" x2="877.7" y2="458.1"><stop offset="0.00" stop-color="#a79faf"/><stop offset="0.03" stop-color="#cfc7d7"/><stop offset="0.15" stop-color="#d4ccdc"/><stop offset="0.45" stop-color="#cdc4d5"/><stop offset="0.47" stop-color="#cbc2d3"/><stop offset="0.58" stop-color="#b2a9ba"/><stop offset="0.60" stop-color="#aca3b5"/><stop offset="0.69" stop-color="#8b8393"/><stop offset="0.71" stop-color="#857d8d"/><stop offset="0.78" stop-color="#797181"/><stop offset="0.80" stop-color="#787080"/><stop offset="0.88" stop-color="#8d8596"/><stop offset="0.89" stop-color="#918999"/><stop offset="0.95" stop-color="#aaa2b3"/><stop offset="1.00" stop-color="#b2aaba"/></linearGradient>
<linearGradient id="tb117" gradientUnits="userSpaceOnUse" x1="932.7" y1="389.8" x2="887.6" y2="465.1"><stop offset="0.00" stop-color="#a8a0b0"/><stop offset="0.03" stop-color="#cfc7d7"/><stop offset="0.15" stop-color="#d4ccdc"/><stop offset="0.45" stop-color="#cdc4d5"/><stop offset="0.47" stop-color="#cbc2d3"/><stop offset="0.58" stop-color="#b1a8ba"/><stop offset="0.60" stop-color="#aca3b5"/><stop offset="0.69" stop-color="#8b8393"/><stop offset="0.71" stop-color="#847c8d"/><stop offset="0.78" stop-color="#797181"/><stop offset="0.80" stop-color="#787080"/><stop offset="0.88" stop-color="#8d8596"/><stop offset="0.89" stop-color="#908899"/><stop offset="0.95" stop-color="#aaa2b3"/><stop offset="1.00" stop-color="#b2aaba"/></linearGradient>
<linearGradient id="tb118" gradientUnits="userSpaceOnUse" x1="943.5" y1="395.2" x2="897.5" y2="472.0"><stop offset="0.00" stop-color="#a8a0b0"/><stop offset="0.03" stop-color="#cfc7d7"/><stop offset="0.15" stop-color="#d4ccdc"/><stop offset="0.45" stop-color="#cdc4d5"/><stop offset="0.47" stop-color="#cbc2d3"/><stop offset="0.58" stop-color="#b1a8ba"/><stop offset="0.60" stop-color="#aca3b5"/><stop offset="0.69" stop-color="#8a8293"/><stop offset="0.71" stop-color="#847c8c"/><stop offset="0.78" stop-color="#787081"/><stop offset="0.80" stop-color="#776f80"/><stop offset="0.88" stop-color="#8d8596"/><stop offset="0.89" stop-color="#908899"/><stop offset="0.95" stop-color="#aaa2b3"/><stop offset="1.00" stop-color="#b2aaba"/></linearGradient>
<linearGradient id="tb119" gradientUnits="userSpaceOnUse" x1="954.3" y1="400.6" x2="907.4" y2="479.0"><stop offset="0.00" stop-color="#a9a1b1"/><stop offset="0.03" stop-color="#cfc7d7"/><stop offset="0.15" stop-color="#d4ccdc"/><stop offset="0.45" stop-color="#cdc4d5"/><stop offset="0.47" stop-color="#cbc2d3"/><stop offset="0.58" stop-color="#b1a8ba"/><stop offset="0.60" stop-color="#aba2b4"/><stop offset="0.69" stop-color="#8a8292"/><stop offset="0.71" stop-color="#847c8c"/><stop offset="0.78" stop-color="#787080"/><stop offset="0.80" stop-color="#776f80"/><stop offset="0.88" stop-color="#8d8596"/><stop offset="0.89" stop-color="#908899"/><stop offset="0.95" stop-color="#aaa2b3"/><stop offset="1.00" stop-color="#b1a9ba"/></linearGradient>
<linearGradient id="tb120" gradientUnits="userSpaceOnUse" x1="965.1" y1="406.1" x2="917.2" y2="486.0"><stop offset="0.00" stop-color="#a9a1b1"/><stop offset="0.03" stop-color="#cfc7d7"/><stop offset="0.15" stop-color="#d4ccdc"/><stop offset="0.45" stop-color="#cdc4d5"/><stop offset="0.47" stop-color="#cbc2d3"/><stop offset="0.58" stop-color="#b1a8b9"/><stop offset="0.60" stop-color="#aba2b4"/><stop offset="0.69" stop-color="#8a8192"/><stop offset="0.71" stop-color="#847c8c"/><stop offset="0.78" stop-color="#787080"/><stop offset="0.80" stop-color="#776f80"/><stop offset="0.88" stop-color="#8d8596"/><stop offset="0.89" stop-color="#908899"/><stop offset="0.95" stop-color="#aaa2b3"/><stop offset="1.00" stop-color="#b1a9ba"/></linearGradient>
<linearGradient id="tb121" gradientUnits="userSpaceOnUse" x1="975.8" y1="411.4" x2="927.1" y2="492.9"><stop offset="0.00" stop-color="#aaa2b2"/><stop offset="0.03" stop-color="#cfc7d7"/><stop offset="0.15" stop-color="#d4cbdc"/><stop offset="0.45" stop-color="#cdc4d5"/><stop offset="0.47" stop-color="#cac1d2"/><stop offset="0.58" stop-color="#b0a7b9"/><stop offset="0.60" stop-color="#aba2b4"/><stop offset="0.69" stop-color="#898192"/><stop offset="0.71" stop-color="#837b8c"/><stop offset="0.78" stop-color="#776f80"/><stop offset="0.80" stop-color="#776f80"/><stop offset="0.88" stop-color="#8d8595"/><stop offset="0.89" stop-color="#908899"/><stop offset="0.95" stop-color="#a9a1b2"/><stop offset="1.00" stop-color="#b1a9b9"/></linearGradient>
<linearGradient id="tb122" gradientUnits="userSpaceOnUse" x1="986.6" y1="416.8" x2="937.0" y2="499.9"><stop offset="0.00" stop-color="#aaa2b2"/><stop offset="0.03" stop-color="#cfc7d7"/><stop offset="0.15" stop-color="#d4cbdc"/><stop offset="0.45" stop-color="#ccc4d4"/><stop offset="0.47" stop-color="#cac1d2"/><stop offset="0.58" stop-color="#b0a7b9"/><stop offset="0.60" stop-color="#aaa1b3"/><stop offset="0.69" stop-color="#898191"/><stop offset="0.71" stop-color="#837b8b"/><stop offset="0.78" stop-color="#776f80"/><stop offset="0.80" stop-color="#776f80"/><stop offset="0.88" stop-color="#8d8595"/><stop offset="0.89" stop-color="#908899"/><stop offset="0.95" stop-color="#a9a1b2"/><stop offset="1.00" stop-color="#b1a9b9"/></linearGradient>
<linearGradient id="tb123" gradientUnits="userSpaceOnUse" x1="997.4" y1="422.2" x2="946.9" y2="506.9"><stop offset="0.00" stop-color="#aba3b3"/><stop offset="0.03" stop-color="#cfc7d7"/><stop offset="0.15" stop-color="#d4cbdc"/><stop offset="0.45" stop-color="#ccc3d4"/><stop offset="0.47" stop-color="#cac1d2"/><stop offset="0.58" stop-color="#b0a7b9"/><stop offset="0.60" stop-color="#aaa1b3"/><stop offset="0.69" stop-color="#888091"/><stop offset="0.71" stop-color="#837b8b"/><stop offset="0.78" stop-color="#776f7f"/><stop offset="0.80" stop-color="#776f80"/><stop offset="0.88" stop-color="#8d8595"/><stop offset="0.89" stop-color="#908899"/><stop offset="0.95" stop-color="#a9a1b2"/><stop offset="1.00" stop-color="#b1a9b9"/></linearGradient>
<linearGradient id="tb124" gradientUnits="userSpaceOnUse" x1="1008.2" y1="427.6" x2="956.8" y2="513.8"><stop offset="0.00" stop-color="#aba3b3"/><stop offset="0.03" stop-color="#cfc7d7"/><stop offset="0.15" stop-color="#d4cbdc"/><stop offset="0.45" stop-color="#ccc3d4"/><stop offset="0.47" stop-color="#cac1d2"/><stop offset="0.58" stop-color="#b0a7b8"/><stop offset="0.60" stop-color="#aaa1b3"/><stop offset="0.69" stop-color="#888091"/><stop offset="0.71" stop-color="#827a8b"/><stop offset="0.78" stop-color="#766e7f"/><stop offset="0.80" stop-color="#776f80"/><stop offset="0.88" stop-color="#8d8595"/><stop offset="0.89" stop-color="#908899"/><stop offset="0.95" stop-color="#a9a1b2"/><stop offset="1.00" stop-color="#b1a9b9"/></linearGradient>
<linearGradient id="tb125" gradientUnits="userSpaceOnUse" x1="1019.0" y1="433.0" x2="966.8" y2="520.8"><stop offset="0.00" stop-color="#aca4b4"/><stop offset="0.03" stop-color="#cfc6d7"/><stop offset="0.15" stop-color="#d4cbdc"/><stop offset="0.45" stop-color="#ccc3d4"/><stop offset="0.47" stop-color="#cac1d2"/><stop offset="0.58" stop-color="#afa6b8"/><stop offset="0.60" stop-color="#a9a0b2"/><stop offset="0.69" stop-color="#888090"/><stop offset="0.71" stop-color="#827a8b"/><stop offset="0.78" stop-color="#766e7f"/><stop offset="0.80" stop-color="#776f80"/><stop offset="0.88" stop-color="#8d8595"/><stop offset="0.89" stop-color="#908898"/><stop offset="0.95" stop-color="#a9a1b2"/><stop offset="1.00" stop-color="#b0a8b9"/></linearGradient>
<linearGradient id="tb126" gradientUnits="userSpaceOnUse" x1="1029.8" y1="438.4" x2="976.7" y2="527.7"><stop offset="0.00" stop-color="#ada5b5"/><stop offset="0.03" stop-color="#cfc6d7"/><stop offset="0.15" stop-color="#d3cbdb"/><stop offset="0.45" stop-color="#ccc3d4"/><stop offset="0.47" stop-color="#c9c0d1"/><stop offset="0.58" stop-color="#afa6b8"/><stop offset="0.60" stop-color="#a9a0b2"/><stop offset="0.69" stop-color="#877f90"/><stop offset="0.71" stop-color="#827a8a"/><stop offset="0.78" stop-color="#766e7e"/><stop offset="0.80" stop-color="#776f80"/><stop offset="0.88" stop-color="#8d8595"/><stop offset="0.89" stop-color="#908898"/><stop offset="0.95" stop-color="#a9a1b2"/><stop offset="1.00" stop-color="#b0a8b9"/></linearGradient>
<linearGradient id="tb127" gradientUnits="userSpaceOnUse" x1="1040.6" y1="443.8" x2="986.7" y2="534.7"><stop offset="0.00" stop-color="#ada5b5"/><stop offset="0.03" stop-color="#cfc6d7"/><stop offset="0.15" stop-color="#d3cbdb"/><stop offset="0.45" stop-color="#ccc3d4"/><stop offset="0.47" stop-color="#c9c0d1"/><stop offset="0.58" stop-color="#afa6b8"/><stop offset="0.60" stop-color="#a9a0b2"/><stop offset="0.69" stop-color="#877f90"/><stop offset="0.71" stop-color="#827a8a"/><stop offset="0.78" stop-color="#766e7e"/><stop offset="0.80" stop-color="#776f80"/><stop offset="0.88" stop-color="#8c8495"/><stop offset="0.89" stop-color="#908898"/><stop offset="0.95" stop-color="#a9a1b2"/><stop offset="1.00" stop-color="#b0a8b9"/></linearGradient>
<linearGradient id="tb128" gradientUnits="userSpaceOnUse" x1="1051.4" y1="449.2" x2="996.7" y2="541.6"><stop offset="0.00" stop-color="#aea6b6"/><stop offset="0.03" stop-color="#cfc6d7"/><stop offset="0.15" stop-color="#d3cbdb"/><stop offset="0.45" stop-color="#ccc3d4"/><stop offset="0.47" stop-color="#c9c0d1"/><stop offset="0.58" stop-color="#afa6b8"/><stop offset="0.60" stop-color="#a89fb1"/><stop offset="0.69" stop-color="#867e8f"/><stop offset="0.71" stop-color="#81798a"/><stop offset="0.78" stop-color="#756d7e"/><stop offset="0.80" stop-color="#776f7f"/><stop offset="0.88" stop-color="#8c8495"/><stop offset="0.89" stop-color="#908898"/><stop offset="0.95" stop-color="#a9a1b2"/><stop offset="1.00" stop-color="#b0a8b9"/></linearGradient>
<linearGradient id="tb129" gradientUnits="userSpaceOnUse" x1="1062.2" y1="454.6" x2="1006.7" y2="548.6"><stop offset="0.00" stop-color="#aea6b6"/><stop offset="0.03" stop-color="#cfc6d7"/><stop offset="0.15" stop-color="#d3cbdb"/><stop offset="0.45" stop-color="#ccc3d4"/><stop offset="0.47" stop-color="#c9c0d1"/><stop offset="0.58" stop-color="#aea5b7"/><stop offset="0.60" stop-color="#a89fb1"/><stop offset="0.69" stop-color="#867e8f"/><stop offset="0.71" stop-color="#81798a"/><stop offset="0.78" stop-color="#756d7d"/><stop offset="0.80" stop-color="#776f7f"/><stop offset="0.88" stop-color="#8c8495"/><stop offset="0.89" stop-color="#908898"/><stop offset="0.95" stop-color="#a9a1b2"/><stop offset="1.00" stop-color="#b0a8b9"/></linearGradient>
<linearGradient id="tb130" gradientUnits="userSpaceOnUse" x1="1073.1" y1="460.0" x2="1016.8" y2="555.5"><stop offset="0.00" stop-color="#afa7b7"/><stop offset="0.03" stop-color="#cfc6d7"/><stop offset="0.15" stop-color="#d3cadb"/><stop offset="0.45" stop-color="#ccc3d4"/><stop offset="0.47" stop-color="#c9c0d1"/><stop offset="0.58" stop-color="#aea5b7"/><stop offset="0.60" stop-color="#a89fb1"/><stop offset="0.69" stop-color="#867e8e"/><stop offset="0.71" stop-color="#817989"/><stop offset="0.78" stop-color="#756d7d"/><stop offset="0.80" stop-color="#776f7f"/><stop offset="0.88" stop-color="#8c8495"/><stop offset="0.89" stop-color="#908898"/><stop offset="0.95" stop-color="#a8a0b1"/><stop offset="1.00" stop-color="#b0a8b8"/></linearGradient>
<linearGradient id="tb131" gradientUnits="userSpaceOnUse" x1="1083.9" y1="465.4" x2="1026.9" y2="562.4"><stop offset="0.00" stop-color="#afa7b7"/><stop offset="0.03" stop-color="#cfc6d7"/><stop offset="0.15" stop-color="#d3cadb"/><stop offset="0.45" stop-color="#ccc3d4"/><stop offset="0.47" stop-color="#c8bfd0"/><stop offset="0.58" stop-color="#aea5b7"/><stop offset="0.60" stop-color="#a79eb0"/><stop offset="0.69" stop-color="#857d8e"/><stop offset="0.71" stop-color="#817989"/><stop offset="0.78" stop-color="#746c7d"/><stop offset="0.80" stop-color="#776f7f"/><stop offset="0.88" stop-color="#8c8495"/><stop offset="0.89" stop-color="#908898"/><stop offset="0.95" stop-color="#a8a0b1"/><stop offset="1.00" stop-color="#b0a8b8"/></linearGradient>
<linearGradient id="tb132" gradientUnits="userSpaceOnUse" x1="1094.8" y1="470.9" x2="1037.0" y2="569.3"><stop offset="0.00" stop-color="#b0a8b8"/><stop offset="0.03" stop-color="#cfc6d7"/><stop offset="0.15" stop-color="#d3cadb"/><stop offset="0.45" stop-color="#ccc3d4"/><stop offset="0.47" stop-color="#c8bfd0"/><stop offset="0.58" stop-color="#aea5b7"/><stop offset="0.60" stop-color="#a79eb0"/><stop offset="0.69" stop-color="#857d8e"/><stop offset="0.71" stop-color="#807889"/><stop offset="0.78" stop-color="#746c7c"/><stop offset="0.80" stop-color="#776f7f"/><stop offset="0.88" stop-color="#8c8495"/><stop offset="0.89" stop-color="#908898"/><stop offset="0.95" stop-color="#a8a0b1"/><stop offset="1.00" stop-color="#b0a8b8"/></linearGradient>
<linearGradient id="tb133" gradientUnits="userSpaceOnUse" x1="1105.7" y1="476.3" x2="1047.2" y2="576.2"><stop offset="0.00" stop-color="#b0a8b8"/><stop offset="0.03" stop-color="#cfc6d7"/><stop offset="0.15" stop-color="#d3cadb"/><stop offset="0.45" stop-color="#ccc3d4"/><stop offset="0.47" stop-color="#c8bfd0"/><stop offset="0.58" stop-color="#ada4b6"/><stop offset="0.60" stop-color="#a79eb0"/><stop offset="0.69" stop-color="#857d8d"/><stop offset="0.71" stop-color="#807889"/><stop offset="0.78" stop-color="#746c7c"/><stop offset="0.80" stop-color="#776f7f"/><stop offset="0.88" stop-color="#8c8495"/><stop offset="0.89" stop-color="#908898"/><stop offset="0.95" stop-color="#a8a0b1"/><stop offset="1.00" stop-color="#afa7b8"/></linearGradient>
<linearGradient id="tb134" gradientUnits="userSpaceOnUse" x1="1116.6" y1="481.8" x2="1057.5" y2="583.1"><stop offset="0.00" stop-color="#b1a9b9"/><stop offset="0.03" stop-color="#cfc6d7"/><stop offset="0.15" stop-color="#d3cadb"/><stop offset="0.45" stop-color="#ccc3d4"/><stop offset="0.47" stop-color="#c8bfd0"/><stop offset="0.58" stop-color="#ada4b6"/><stop offset="0.60" stop-color="#a69daf"/><stop offset="0.69" stop-color="#847c8d"/><stop offset="0.71" stop-color="#807888"/><stop offset="0.78" stop-color="#746c7c"/><stop offset="0.80" stop-color="#776f7f"/><stop offset="0.88" stop-color="#8c8495"/><stop offset="0.89" stop-color="#8f8798"/><stop offset="0.95" stop-color="#a8a0b1"/><stop offset="1.00" stop-color="#afa7b8"/></linearGradient>
<linearGradient id="tb135" gradientUnits="userSpaceOnUse" x1="1127.5" y1="487.3" x2="1067.8" y2="589.9"><stop offset="0.00" stop-color="#b1a9b9"/><stop offset="0.03" stop-color="#cfc6d7"/><stop offset="0.15" stop-color="#d3cadb"/><stop offset="0.45" stop-color="#ccc3d4"/><stop offset="0.47" stop-color="#c8bfd0"/><stop offset="0.58" stop-color="#ada4b6"/><stop offset="0.60" stop-color="#a69daf"/><stop offset="0.69" stop-color="#847c8d"/><stop offset="0.71" stop-color="#7f7788"/><stop offset="0.78" stop-color="#736b7b"/><stop offset="0.80" stop-color="#776f7f"/><stop offset="0.88" stop-color="#8c8494"/><stop offset="0.89" stop-color="#8f8798"/><stop offset="0.95" stop-color="#a8a0b1"/><stop offset="1.00" stop-color="#afa7b8"/></linearGradient>
<linearGradient id="tb136" gradientUnits="userSpaceOnUse" x1="1138.4" y1="492.8" x2="1078.1" y2="596.8"><stop offset="0.00" stop-color="#b2aaba"/><stop offset="0.03" stop-color="#cfc6d7"/><stop offset="0.15" stop-color="#d3cadb"/><stop offset="0.45" stop-color="#cbc2d3"/><stop offset="0.47" stop-color="#c7becf"/><stop offset="0.58" stop-color="#ada4b6"/><stop offset="0.60" stop-color="#a69daf"/><stop offset="0.69" stop-color="#837b8c"/><stop offset="0.71" stop-color="#7f7788"/><stop offset="0.78" stop-color="#736b7b"/><stop offset="0.80" stop-color="#776f7f"/><stop offset="0.88" stop-color="#8c8494"/><stop offset="0.89" stop-color="#8f8798"/><stop offset="0.95" stop-color="#a8a0b1"/><stop offset="1.00" stop-color="#afa7b8"/></linearGradient>
<linearGradient id="tb137" gradientUnits="userSpaceOnUse" x1="1149.4" y1="498.4" x2="1088.6" y2="603.6"><stop offset="0.00" stop-color="#b2aaba"/><stop offset="0.03" stop-color="#cfc6d7"/><stop offset="0.15" stop-color="#d2cada"/><stop offset="0.45" stop-color="#cbc2d3"/><stop offset="0.47" stop-color="#c7becf"/><stop offset="0.58" stop-color="#aca3b5"/><stop offset="0.60" stop-color="#a59cae"/><stop offset="0.69" stop-color="#837b8c"/><stop offset="0.71" stop-color="#7f7788"/><stop offset="0.78" stop-color="#736b7b"/><stop offset="0.80" stop-color="#766e7f"/><stop offset="0.88" stop-color="#8c8494"/><stop offset="0.89" stop-color="#8f8798"/><stop offset="0.95" stop-color="#a8a0b1"/><stop offset="1.00" stop-color="#afa7b8"/></linearGradient>
<linearGradient id="tb138" gradientUnits="userSpaceOnUse" x1="1160.4" y1="504.0" x2="1099.1" y2="610.4"><stop offset="0.00" stop-color="#b3abbb"/><stop offset="0.03" stop-color="#cfc6d7"/><stop offset="0.15" stop-color="#d2cada"/><stop offset="0.45" stop-color="#cbc2d3"/><stop offset="0.47" stop-color="#c7becf"/><stop offset="0.58" stop-color="#aca3b5"/><stop offset="0.60" stop-color="#a59cae"/><stop offset="0.69" stop-color="#837b8c"/><stop offset="0.71" stop-color="#7f7787"/><stop offset="0.78" stop-color="#726a7a"/><stop offset="0.80" stop-color="#766e7f"/><stop offset="0.88" stop-color="#8b8394"/><stop offset="0.89" stop-color="#8f8798"/><stop offset="0.95" stop-color="#a8a0b1"/><stop offset="1.00" stop-color="#afa7b8"/></linearGradient>
<linearGradient id="tb139" gradientUnits="userSpaceOnUse" x1="1171.4" y1="509.6" x2="1109.6" y2="617.2"><stop offset="0.00" stop-color="#b3abbb"/><stop offset="0.03" stop-color="#cfc6d7"/><stop offset="0.15" stop-color="#d2c9da"/><stop offset="0.45" stop-color="#cbc2d3"/><stop offset="0.47" stop-color="#c7becf"/><stop offset="0.58" stop-color="#aca3b5"/><stop offset="0.60" stop-color="#a59cae"/><stop offset="0.69" stop-color="#827a8b"/><stop offset="0.71" stop-color="#7e7687"/><stop offset="0.78" stop-color="#726a7a"/><stop offset="0.80" stop-color="#766e7f"/><stop offset="0.88" stop-color="#8b8394"/><stop offset="0.89" stop-color="#8f8798"/><stop offset="0.95" stop-color="#a79fb0"/><stop offset="1.00" stop-color="#aea6b7"/></linearGradient>
<linearGradient id="tb140" gradientUnits="userSpaceOnUse" x1="1182.4" y1="515.2" x2="1120.2" y2="623.9"><stop offset="0.00" stop-color="#b4acbc"/><stop offset="0.03" stop-color="#cfc6d7"/><stop offset="0.15" stop-color="#d2c9da"/><stop offset="0.45" stop-color="#cbc2d3"/><stop offset="0.47" stop-color="#c7becf"/><stop offset="0.58" stop-color="#aca3b5"/><stop offset="0.60" stop-color="#a49bad"/><stop offset="0.69" stop-color="#827a8b"/><stop offset="0.71" stop-color="#7e7687"/><stop offset="0.78" stop-color="#726a7a"/><stop offset="0.80" stop-color="#766e7f"/><stop offset="0.88" stop-color="#8b8394"/><stop offset="0.89" stop-color="#8f8798"/><stop offset="0.95" stop-color="#a79fb0"/><stop offset="1.00" stop-color="#aea6b7"/></linearGradient>
<linearGradient id="tb141" gradientUnits="userSpaceOnUse" x1="1193.5" y1="520.9" x2="1130.9" y2="630.7"><stop offset="0.00" stop-color="#b4acbc"/><stop offset="0.03" stop-color="#cfc6d7"/><stop offset="0.15" stop-color="#d2c9da"/><stop offset="0.45" stop-color="#cbc2d3"/><stop offset="0.47" stop-color="#c6bdcf"/><stop offset="0.58" stop-color="#aba2b4"/><stop offset="0.60" stop-color="#a49bad"/><stop offset="0.69" stop-color="#827a8b"/><stop offset="0.71" stop-color="#7e7687"/><stop offset="0.78" stop-color="#716979"/><stop offset="0.80" stop-color="#766e7f"/><stop offset="0.88" stop-color="#8b8394"/><stop offset="0.89" stop-color="#8f8798"/><stop offset="0.95" stop-color="#a79fb0"/><stop offset="1.00" stop-color="#aea6b7"/></linearGradient>
<linearGradient id="tb142" gradientUnits="userSpaceOnUse" x1="1204.5" y1="526.6" x2="1141.7" y2="637.4"><stop offset="0.00" stop-color="#b5adbd"/><stop offset="0.03" stop-color="#cfc6d7"/><stop offset="0.15" stop-color="#d2c9da"/><stop offset="0.45" stop-color="#cbc2d3"/><stop offset="0.47" stop-color="#c6bdce"/><stop offset="0.58" stop-color="#aba2b4"/><stop offset="0.60" stop-color="#a49bad"/><stop offset="0.69" stop-color="#81798a"/><stop offset="0.71" stop-color="#7e7686"/><stop offset="0.78" stop-color="#716979"/><stop offset="0.80" stop-color="#766e7e"/><stop offset="0.88" stop-color="#8b8394"/><stop offset="0.89" stop-color="#8f8798"/><stop offset="0.95" stop-color="#a79fb0"/><stop offset="1.00" stop-color="#aea6b7"/></linearGradient>
<linearGradient id="gFan" x1="0" y1="589" x2="0" y2="694" gradientUnits="userSpaceOnUse"><stop offset="0" stop-color="#a9bbd9" stop-opacity="0.9"/><stop offset="0.3" stop-color="#bccae2" stop-opacity="0.75"/><stop offset="0.52" stop-color="#d3ddee" stop-opacity="0.6"/><stop offset="0.75" stop-color="#e6ecf6" stop-opacity="0.45"/><stop offset="1" stop-color="#ffffff" stop-opacity="0"/></linearGradient>
<clipPath id="cpEnd"><ellipse rx="64" ry="49.3" transform="translate(1175.6,583.4) rotate(-57.4)"/></clipPath>
<radialGradient id="gGreen" cx="0.38" cy="0.42" r="0.62" fx="0.36" fy="0.40"><stop offset="0" stop-color="#ffffff"/><stop offset="0.22" stop-color="#f1faef"/><stop offset="0.55" stop-color="#98d992"/><stop offset="0.82" stop-color="#45b54b"/><stop offset="1" stop-color="#27a036"/></radialGradient>
<radialGradient id="gPurple" cx="0.36" cy="0.52" r="0.66" fx="0.34" fy="0.52"><stop offset="0" stop-color="#ffffff"/><stop offset="0.2" stop-color="#efe6f3"/><stop offset="0.6" stop-color="#c6a6d4"/><stop offset="0.88" stop-color="#a677bb"/><stop offset="1" stop-color="#b791c8"/></radialGradient>
<radialGradient id="gSun" cx="0.5" cy="0.5" r="0.5"><stop offset="0" stop-color="#fabf62"/><stop offset="0.7" stop-color="#f8b24b"/><stop offset="1" stop-color="#f5a63a"/></radialGradient>
<filter id="cloudTex" x="-5%" y="-5%" width="110%" height="110%"><feTurbulence type="fractalNoise" baseFrequency="0.09" numOctaves="2" seed="3" result="n"/><feColorMatrix in="n" type="matrix" values="0 0 0 0 1  0 0 0 0 1  0 0 0 0 1  0.9 0 0 0 -0.38" result="a"/><feComposite in="a" in2="SourceGraphic" operator="in" result="tex"/><feMerge><feMergeNode in="SourceGraphic"/><feMergeNode in="tex"/></feMerge></filter>
<linearGradient id="gCloudBig" x1="0" y1="0" x2="0" y2="1"><stop offset="0" stop-color="#b4b5d0"/><stop offset="0.4" stop-color="#a0a3c1"/><stop offset="1" stop-color="#7f83a8"/></linearGradient>
<linearGradient id="gCloudS" x1="0" y1="0" x2="0" y2="1"><stop offset="0" stop-color="#8d90b2"/><stop offset="1" stop-color="#6f7399"/></linearGradient>
<g id="beetle">
<g fill="#fff" stroke="#111" stroke-width="1.3" stroke-linejoin="round">
<path d="M16.5,-12.0 C20.0,-14.3 18.4,-20.4 18.6,-25.1 C18.9,-29.8 18.7,-35.0 18.0,-40.0 C17.3,-45.0 16.1,-50.8 14.5,-55.2 C12.9,-59.6 10.3,-65.1 8.3,-66.5 C6.3,-67.9 4.6,-66.5 2.6,-63.7 C0.6,-60.9 -2.2,-54.0 -3.7,-49.8 C-5.2,-45.6 -5.8,-42.0 -6.6,-38.6 C-7.4,-35.2 -8.9,-32.5 -8.8,-29.1 C-8.8,-25.8 -7.4,-21.5 -6.3,-18.5 C-5.2,-15.5 -6.0,-12.1 -2.2,-11.0 C1.6,-9.9 13.0,-9.7 16.5,-12.0Z"/>
<path d="M15.8,10.5 C18.6,13.2 16.9,22.8 16.5,28.4 C16.1,33.9 14.8,39.4 13.7,43.8 C12.6,48.2 11.5,51.6 9.8,54.6 C8.1,57.6 5.3,61.6 3.3,61.8 C1.3,61.9 -0.6,59.1 -2.1,55.5 C-3.6,51.9 -5.0,43.8 -5.7,40.3 C-6.4,36.8 -5.8,37.3 -6.3,34.8 C-6.8,32.3 -8.5,28.4 -8.4,25.5 C-8.3,22.6 -7.0,19.6 -5.7,17.3 C-4.4,15.1 -3.9,13.1 -0.3,12.0 C3.3,10.9 13.0,7.8 15.8,10.5Z"/>
</g>
<g fill="none" stroke="#222" stroke-width="0.55">
<path d="M10,-13 L6,-36 L-6.2,-38.6 M6,-36 L12,-58 M12,-14 L15,-50 M14,-14 L17,-38 M8,-40 L5,-62 M10,-42 L9,-64 M3,-38 L-1,-55 M4,-16 L-5,-33 M1,-14 L-7,-27 M7,-15 L0,-36"/>
<path d="M10,13 L6,32 L-6,34.8 M6,32 L9,54 M12,14 L14,46 M14,14 L15.5,34 M7,36 L3,58 M9,38 L6,58 M3,34 L-1,50 M4,16 L-5,30 M1,14 L-7,24 M7,15 L0,32"/>
</g>
<g fill="none" stroke="#111" stroke-width="1.5" stroke-linecap="round" stroke-linejoin="round">
<path d="M-11,-11 L-17,-17 L-26,-16 L-33.5,-14 M-26,-16 l-1.5,-3 M-30,-15 l0.5,2.6"/>
<path d="M-13,11 L-19,15.5 L-27,11.5 L-34,8.6 M-27,11.5 l-2,2.5 M-31,10 l1,-2.6"/>
<path d="M22,-11 L26,-15 L32,-13.5 L38.5,-12 M32,-13.5 l1,-2.6"/>
<path d="M17.5,11 L21,15 L28,18 L34.4,21 M28,18 l2.4,-1.4"/>
<path d="M32,-3.5 C35,-8 39,-8.5 40.5,-5.5 M32.5,3 C36,8 40,8.5 41,5.5" stroke-width="1.4"/>
</g>
<ellipse cx="-5" cy="0" rx="20.5" ry="14" fill="#0a0a0a"/>
<path d="M-8,-14 L10,-13.2 L12,13.2 L-8,14Z" fill="#0a0a0a"/>
<ellipse cx="19.5" cy="0" rx="10.5" ry="12.2" fill="#0a0a0a"/>
<ellipse cx="31" cy="0" rx="4.6" ry="4.2" fill="#0a0a0a"/>
<g fill="none" stroke="#fff" stroke-width="0.9">
<path d="M11.2,-12.8 C14,-4 14,4 11.2,12.8"/>
<path d="M10.5,0 L-22,0.4"/>
<path d="M9.3,-11.2 C-4,-13.6 -20,-10.5 -23.5,-2.4 M9.3,11.2 C-4,13.6 -20,10.5 -23.5,2.8"/>
<path d="M13.2,-10.4 C20,-12.4 27.5,-7 28,0 C27.5,7 20,12.4 13.2,10.4"/>
</g>
</g>
</defs>
<rect width="100%" height="100%" fill="#fff"/>
<g clip-path="url(#cps)"><rect x="54.5" y="42" width="438.5" height="222" rx="27" fill="url(#gShell)"/><rect x="54.5" y="42" width="438.5" height="222" rx="27" fill="none" stroke="#aaa9d0" stroke-width="8" stroke-opacity="0.92" filter="url(#blur3)"/></g><rect x="55.0" y="42.5" width="437.5" height="221" rx="27" fill="none" stroke="#aaa9d0" stroke-opacity="0.55" stroke-width="1"/>
<g clip-path="url(#cpc)"><rect x="54.5" y="271.5" width="438.5" height="369.5" rx="27" fill="url(#gCore)"/><rect x="54.5" y="271.5" width="438.5" height="369.5" rx="27" fill="none" stroke="#a6abd2" stroke-width="8" stroke-opacity="0.92" filter="url(#blur3)"/></g><rect x="55.0" y="272.0" width="437.5" height="368.5" rx="27" fill="none" stroke="#a6abd2" stroke-opacity="0.55" stroke-width="1"/>
<path d="M128.3,86.7 L141.8,80.3 L156.2,88.6 L154.8,103.9 L140.8,111.6 L127.4,103.0ZM130.5,101.3 L131.2,88.9M141.9,83.8 L152.8,90.1M151.7,102.2 L141.1,108.1M128.3,86.7 L111.1,76.0 M117.8,73.7 L112.0,83.1M156.2,88.6 L175.7,79.6 M173.9,86.5 L169.3,76.5M127.4,103.0 L120.7,105.9" fill="none" stroke="#2a2a2a" stroke-width="1.0" stroke-linejoin="round"/><text x="120.2" y="111.5" text-anchor="end" font-family="'Liberation Sans', 'DejaVu Sans', sans-serif" font-size="9.6" fill="#2a2a2a" transform="rotate(-14 120.2 107.9)">HO</text><line x1="140.8" y1="111.6" x2="140.3" y2="124.9" stroke="#7b79a8" stroke-width="1.2"/><path d="M101.5,141.4 Q140.8,110.4 182.1,142.3" fill="none" stroke="#7f80ad" stroke-width="4.3"/><path d="M101.5,141.4 Q140.8,110.4 182.1,142.3" fill="none" stroke="#d3d3ee" stroke-width="3"/><line x1="96.7" y1="186.9" x2="87.0" y2="198.2" stroke="#dadada" stroke-width="1.6"/><line x1="96.7" y1="186.9" x2="97.9" y2="197.5" stroke="#dadada" stroke-width="1.6"/><line x1="117.7" y1="182.6" x2="114.8" y2="172.9" stroke="#dadada" stroke-width="1.6"/><line x1="117.7" y1="182.6" x2="125.7" y2="171.7" stroke="#dadada" stroke-width="1.6"/><line x1="130.0" y1="201.9" x2="120.8" y2="212.8" stroke="#dadada" stroke-width="1.6"/><line x1="130.0" y1="201.9" x2="131.7" y2="211.6" stroke="#dadada" stroke-width="1.6"/><line x1="151.5" y1="196.6" x2="148.6" y2="186.2" stroke="#dadada" stroke-width="1.6"/><line x1="151.5" y1="196.6" x2="159.5" y2="185.7" stroke="#dadada" stroke-width="1.6"/><line x1="163.8" y1="215.9" x2="154.6" y2="226.5" stroke="#dadada" stroke-width="1.6"/><line x1="163.8" y1="215.9" x2="165.5" y2="224.8" stroke="#dadada" stroke-width="1.6"/><line x1="210.4" y1="189.1" x2="212.6" y2="198.3" stroke="#dadada" stroke-width="1.6"/><line x1="210.4" y1="189.1" x2="222.2" y2="197.5" stroke="#dadada" stroke-width="1.6"/><line x1="215.5" y1="167.4" x2="202.9" y2="160.9" stroke="#dadada" stroke-width="1.6"/><line x1="215.5" y1="167.4" x2="212.6" y2="157.7" stroke="#dadada" stroke-width="1.6"/><line x1="237.4" y1="164.5" x2="239.1" y2="173.7" stroke="#dadada" stroke-width="1.6"/><line x1="237.4" y1="164.5" x2="248.7" y2="172.5" stroke="#dadada" stroke-width="1.6"/><line x1="242.7" y1="143.2" x2="230.7" y2="136.7" stroke="#dadada" stroke-width="1.6"/><line x1="242.7" y1="143.2" x2="240.3" y2="134.3" stroke="#dadada" stroke-width="1.6"/><line x1="264.5" y1="140.3" x2="265.7" y2="150.0" stroke="#dadada" stroke-width="1.6"/><line x1="264.5" y1="140.3" x2="275.4" y2="149.5" stroke="#dadada" stroke-width="1.6"/><circle cx="87.0" cy="198.2" r="3.0" fill="url(#aH)"/><circle cx="97.9" cy="197.5" r="3.0" fill="url(#aH)"/><circle cx="114.8" cy="172.9" r="3.0" fill="url(#aH)"/><circle cx="125.7" cy="171.7" r="3.0" fill="url(#aH)"/><circle cx="120.8" cy="212.8" r="3.0" fill="url(#aH)"/><circle cx="131.7" cy="211.6" r="3.0" fill="url(#aH)"/><circle cx="148.6" cy="186.2" r="3.0" fill="url(#aH)"/><circle cx="159.5" cy="185.7" r="3.0" fill="url(#aH)"/><circle cx="154.6" cy="226.5" r="3.0" fill="url(#aH)"/><circle cx="165.5" cy="224.8" r="3.0" fill="url(#aH)"/><circle cx="212.6" cy="198.3" r="3.0" fill="url(#aH)"/><circle cx="222.2" cy="197.5" r="3.0" fill="url(#aH)"/><circle cx="202.9" cy="160.9" r="3.0" fill="url(#aH)"/><circle cx="212.6" cy="157.7" r="3.0" fill="url(#aH)"/><circle cx="239.1" cy="173.7" r="3.0" fill="url(#aH)"/><circle cx="248.7" cy="172.5" r="3.0" fill="url(#aH)"/><circle cx="230.7" cy="136.7" r="3.0" fill="url(#aH)"/><circle cx="240.3" cy="134.3" r="3.0" fill="url(#aH)"/><circle cx="265.7" cy="150.0" r="3.0" fill="url(#aH)"/><circle cx="275.4" cy="149.5" r="3.0" fill="url(#aH)"/><line x1="66.1" y1="176.5" x2="75.4" y2="173.2" stroke="#a6a6a6" stroke-width="2.0"/><line x1="75.4" y1="173.2" x2="84.7" y2="169.8" stroke="#e01818" stroke-width="2.0"/><line x1="84.7" y1="169.8" x2="90.7" y2="178.4" stroke="#e01818" stroke-width="2.0"/><line x1="90.7" y1="178.4" x2="96.7" y2="186.9" stroke="#a6a6a6" stroke-width="2.0"/><line x1="96.7" y1="186.9" x2="107.2" y2="184.8" stroke="#a6a6a6" stroke-width="2.0"/><line x1="107.2" y1="184.8" x2="117.7" y2="182.6" stroke="#a6a6a6" stroke-width="2.0"/><line x1="117.7" y1="182.6" x2="123.8" y2="192.2" stroke="#a6a6a6" stroke-width="2.0"/><line x1="123.8" y1="192.2" x2="130.0" y2="201.9" stroke="#a6a6a6" stroke-width="2.0"/><line x1="130.0" y1="201.9" x2="140.8" y2="199.2" stroke="#a6a6a6" stroke-width="2.0"/><line x1="140.8" y1="199.2" x2="151.5" y2="196.6" stroke="#a6a6a6" stroke-width="2.0"/><line x1="151.5" y1="196.6" x2="157.7" y2="206.2" stroke="#a6a6a6" stroke-width="2.0"/><line x1="157.7" y1="206.2" x2="163.8" y2="215.9" stroke="#a6a6a6" stroke-width="2.0"/><line x1="163.8" y1="215.9" x2="174.3" y2="213.1" stroke="#a6a6a6" stroke-width="2.0"/><line x1="174.3" y1="213.1" x2="184.8" y2="210.3" stroke="#a6a6a6" stroke-width="2.0"/><line x1="184.8" y1="210.3" x2="190.9" y2="217.3" stroke="#a6a6a6" stroke-width="2.0"/><line x1="190.9" y1="217.3" x2="196.9" y2="224.3" stroke="#e01818" stroke-width="2.0"/><line x1="184.8" y1="210.3" x2="187.4" y2="200.7" stroke="#a6a6a6" stroke-width="2.0"/><line x1="187.4" y1="200.7" x2="190.1" y2="191.0" stroke="#e01818" stroke-width="2.0"/><line x1="190.1" y1="191.0" x2="200.2" y2="190.1" stroke="#e01818" stroke-width="2.0"/><line x1="200.2" y1="190.1" x2="210.4" y2="189.1" stroke="#a6a6a6" stroke-width="2.0"/><line x1="210.4" y1="189.1" x2="212.9" y2="178.2" stroke="#a6a6a6" stroke-width="2.0"/><line x1="212.9" y1="178.2" x2="215.5" y2="167.4" stroke="#a6a6a6" stroke-width="2.0"/><line x1="215.5" y1="167.4" x2="226.4" y2="165.9" stroke="#a6a6a6" stroke-width="2.0"/><line x1="226.4" y1="165.9" x2="237.4" y2="164.5" stroke="#a6a6a6" stroke-width="2.0"/><line x1="237.4" y1="164.5" x2="240.1" y2="153.8" stroke="#a6a6a6" stroke-width="2.0"/><line x1="240.1" y1="153.8" x2="242.7" y2="143.2" stroke="#a6a6a6" stroke-width="2.0"/><line x1="242.7" y1="143.2" x2="253.6" y2="141.8" stroke="#a6a6a6" stroke-width="2.0"/><line x1="253.6" y1="141.8" x2="264.5" y2="140.3" stroke="#a6a6a6" stroke-width="2.0"/><line x1="264.5" y1="140.3" x2="267.1" y2="129.4" stroke="#a6a6a6" stroke-width="2.0"/><line x1="267.1" y1="129.4" x2="269.8" y2="118.6" stroke="#a6a6a6" stroke-width="2.0"/><line x1="269.8" y1="118.6" x2="263.5" y2="111.9" stroke="#a6a6a6" stroke-width="2.0"/><line x1="263.5" y1="111.9" x2="257.2" y2="105.3" stroke="#e01818" stroke-width="2.0"/><line x1="269.8" y1="118.6" x2="280.4" y2="116.4" stroke="#a6a6a6" stroke-width="2.0"/><line x1="280.4" y1="116.4" x2="291.0" y2="114.3" stroke="#a6a6a6" stroke-width="2.0"/><circle cx="84.7" cy="169.8" r="4.7" fill="url(#aO)"/><circle cx="96.7" cy="186.9" r="4.8" fill="url(#aC)"/><circle cx="117.7" cy="182.6" r="4.8" fill="url(#aC)"/><circle cx="130.0" cy="201.9" r="4.8" fill="url(#aC)"/><circle cx="151.5" cy="196.6" r="4.8" fill="url(#aC)"/><circle cx="163.8" cy="215.9" r="4.8" fill="url(#aC)"/><circle cx="184.8" cy="210.3" r="4.8" fill="url(#aC)"/><circle cx="196.9" cy="224.3" r="4.7" fill="url(#aO)"/><circle cx="190.1" cy="191.0" r="4.7" fill="url(#aO)"/><circle cx="210.4" cy="189.1" r="4.8" fill="url(#aC)"/><circle cx="215.5" cy="167.4" r="4.8" fill="url(#aC)"/><circle cx="237.4" cy="164.5" r="4.8" fill="url(#aC)"/><circle cx="242.7" cy="143.2" r="4.8" fill="url(#aC)"/><circle cx="264.5" cy="140.3" r="4.8" fill="url(#aC)"/><circle cx="269.8" cy="118.6" r="4.8" fill="url(#aC)"/><circle cx="257.2" cy="105.3" r="4.7" fill="url(#aO)"/><line x1="319.7" y1="137.9" x2="311.8" y2="129.0" stroke="#dadada" stroke-width="1.6"/><line x1="319.7" y1="137.9" x2="320.7" y2="127.7" stroke="#dadada" stroke-width="1.6"/><line x1="319.7" y1="137.9" x2="308.0" y2="150.4" stroke="#dadada" stroke-width="1.6"/><line x1="342.5" y1="146.8" x2="338.7" y2="156.3" stroke="#dadada" stroke-width="1.6"/><line x1="388.6" y1="88.1" x2="371.6" y2="84.6" stroke="#dadada" stroke-width="1.6"/><line x1="388.6" y1="88.1" x2="395.9" y2="75.1" stroke="#dadada" stroke-width="1.6"/><line x1="388.6" y1="88.1" x2="378.4" y2="97.6" stroke="#dadada" stroke-width="1.6"/><line x1="384.8" y1="106.2" x2="395.9" y2="96.7" stroke="#dadada" stroke-width="1.6"/><circle cx="311.8" cy="129.0" r="3.0" fill="url(#aH)"/><circle cx="320.7" cy="127.7" r="3.0" fill="url(#aH)"/><circle cx="308.0" cy="150.4" r="3.0" fill="url(#aH)"/><circle cx="338.7" cy="156.3" r="3.0" fill="url(#aH)"/><circle cx="371.6" cy="84.6" r="3.0" fill="url(#aH)"/><circle cx="395.9" cy="75.1" r="3.0" fill="url(#aH)"/><circle cx="378.4" cy="97.6" r="3.0" fill="url(#aH)"/><circle cx="395.9" cy="96.7" r="3.0" fill="url(#aH)"/><line x1="319.7" y1="137.9" x2="331.1" y2="142.4" stroke="#a6a6a6" stroke-width="2.0"/><line x1="331.1" y1="142.4" x2="342.5" y2="146.8" stroke="#a6a6a6" stroke-width="2.0"/><line x1="342.5" y1="146.8" x2="346.1" y2="152.7" stroke="#a6a6a6" stroke-width="2.0"/><line x1="346.1" y1="152.7" x2="349.8" y2="158.6" stroke="#e01818" stroke-width="2.0"/><line x1="349.8" y1="158.6" x2="343.1" y2="167.3" stroke="#e01818" stroke-width="2.0"/><line x1="343.1" y1="167.3" x2="336.5" y2="176.0" stroke="#a6a6a6" stroke-width="2.0"/><line x1="342.5" y1="146.8" x2="349.4" y2="136.8" stroke="#a6a6a6" stroke-width="2.0"/><line x1="349.4" y1="136.8" x2="356.2" y2="126.8" stroke="#a6a6a6" stroke-width="2.0"/><line x1="356.2" y1="126.8" x2="354.3" y2="120.9" stroke="#a6a6a6" stroke-width="2.0"/><line x1="354.3" y1="120.9" x2="352.4" y2="115.1" stroke="#e01818" stroke-width="2.0"/><line x1="356.2" y1="126.8" x2="365.2" y2="125.4" stroke="#a6a6a6" stroke-width="2.0"/><line x1="365.2" y1="125.4" x2="374.3" y2="124.0" stroke="#e01818" stroke-width="2.0"/><line x1="374.3" y1="124.0" x2="379.6" y2="115.1" stroke="#e01818" stroke-width="2.0"/><line x1="379.6" y1="115.1" x2="384.8" y2="106.2" stroke="#a6a6a6" stroke-width="2.0"/><line x1="384.8" y1="106.2" x2="386.7" y2="97.2" stroke="#a6a6a6" stroke-width="2.0"/><line x1="386.7" y1="97.2" x2="388.6" y2="88.1" stroke="#a6a6a6" stroke-width="2.0"/><line x1="384.8" y1="106.2" x2="396.7" y2="109.1" stroke="#a6a6a6" stroke-width="2.0"/><line x1="396.7" y1="109.1" x2="408.6" y2="111.9" stroke="#a6a6a6" stroke-width="2.0"/><line x1="408.6" y1="111.9" x2="411.5" y2="121.5" stroke="#a6a6a6" stroke-width="2.0"/><line x1="411.5" y1="121.5" x2="414.3" y2="131.0" stroke="#e01818" stroke-width="2.0"/><line x1="408.6" y1="111.9" x2="416.1" y2="103.5" stroke="#a6a6a6" stroke-width="2.0"/><line x1="416.1" y1="103.5" x2="423.5" y2="95.1" stroke="#a6a6a6" stroke-width="2.0"/><circle cx="319.7" cy="137.9" r="4.8" fill="url(#aC)"/><circle cx="342.5" cy="146.8" r="4.8" fill="url(#aC)"/><circle cx="349.8" cy="158.6" r="4.7" fill="url(#aO)"/><circle cx="356.2" cy="126.8" r="4.8" fill="url(#aC)"/><circle cx="352.4" cy="115.1" r="4.7" fill="url(#aO)"/><circle cx="374.3" cy="124.0" r="4.7" fill="url(#aO)"/><circle cx="384.8" cy="106.2" r="4.8" fill="url(#aC)"/><circle cx="388.6" cy="88.1" r="4.8" fill="url(#aC)"/><circle cx="408.6" cy="111.9" r="4.8" fill="url(#aC)"/><circle cx="414.3" cy="131.0" r="4.7" fill="url(#aO)"/><polygon points="164.2,475.8 160.6,470.6 157.0,466.1 153.5,465.3 149.9,461.6 146.4,461.6 142.9,458.5 139.4,459.2 135.9,456.7 132.4,457.9 128.9,455.9 125.4,457.6 121.9,456.1 118.5,458.2 115.0,457.2 111.6,459.7 108.1,459.0 104.6,461.9 101.1,461.5 97.7,464.7 94.2,464.6 90.8,468.0 87.3,468.1 83.9,471.7 80.5,472.0 77.1,475.4 73.6,477.8 73.6,477.8 77.1,479.1 80.7,481.5 84.1,480.8 87.7,483.5 91.2,482.7 94.7,485.3 98.2,484.4 101.7,486.9 105.2,485.9 108.7,488.3 112.2,487.2 115.7,489.4 119.1,488.2 122.7,490.2 126.1,488.7 129.6,490.5 133.1,488.7 136.6,490.2 140.0,488.1 143.6,489.2 147.0,486.7 150.5,487.3 153.9,484.2 157.4,484.1 160.8,480.4 164.2,475.8" fill="#7cbd2e"/><polygon points="164.2,475.8 160.7,475.5 157.2,475.1 153.7,474.8 150.2,474.4 146.7,474.1 143.2,473.9 139.7,473.6 136.2,473.5 132.8,473.3 129.3,473.2 125.8,473.1 122.3,473.1 118.8,473.2 115.3,473.3 111.9,473.4 108.4,473.7 104.9,473.9 101.4,474.2 97.9,474.6 94.5,474.9 91.0,475.4 87.5,475.8 84.0,476.3 80.6,476.8 77.1,477.3 73.6,477.8 73.6,477.8 77.1,479.1 80.7,481.5 84.1,480.8 87.7,483.5 91.2,482.7 94.7,485.3 98.2,484.4 101.7,486.9 105.2,485.9 108.7,488.3 112.2,487.2 115.7,489.4 119.1,488.2 122.7,490.2 126.1,488.7 129.6,490.5 133.1,488.7 136.6,490.2 140.0,488.1 143.6,489.2 147.0,486.7 150.5,487.3 153.9,484.2 157.4,484.1 160.8,480.4 164.2,475.8" fill="#4ea535"/><polygon points="153.6,470.5 150.1,468.7 146.6,468.5 143.1,467.0 139.6,467.1 136.1,465.9 132.6,466.4 129.1,465.4 125.6,466.1 122.1,465.5 118.7,466.5 115.2,466.0 111.7,467.3 108.2,467.1 104.8,468.5 101.3,468.5 97.8,470.1 94.4,470.3 90.9,472.0 87.4,472.3 84.0,474.2 84.0,472.6 87.4,469.6 90.9,469.5 94.3,466.6 97.8,466.6 101.2,464.0 104.7,464.3 108.1,461.9 111.6,462.4 115.1,460.4 118.6,461.2 122.0,459.5 125.5,460.7 129.0,459.4 132.5,461.0 136.0,460.0 139.5,462.1 143.0,461.6 146.5,464.1 150.0,464.2 153.5,467.2" fill="#a6d655" opacity="0.75"/><polyline points="164.2,475.8 160.7,475.5 157.2,475.1 153.7,474.8 150.2,474.4 146.7,474.1 143.2,473.9 139.7,473.6 136.2,473.5 132.8,473.3 129.3,473.2 125.8,473.1 122.3,473.1 118.8,473.2 115.3,473.3 111.9,473.4 108.4,473.7 104.9,473.9 101.4,474.2 97.9,474.6 94.5,474.9 91.0,475.4 87.5,475.8 84.0,476.3 80.6,476.8 77.1,477.3" fill="none" stroke="#2f8a2f" stroke-width="1.3"/><polygon points="144.5,536.9 143.0,532.3 141.5,528.4 139.1,527.9 137.4,524.4 134.9,524.6 133.1,521.6 130.5,522.2 128.6,519.6 126.0,520.6 124.0,518.3 121.3,519.6 119.2,517.6 116.4,519.1 114.4,517.3 111.5,519.0 109.4,517.4 106.5,519.2 104.4,517.8 101.5,519.8 99.3,518.5 96.4,520.5 94.2,519.3 91.2,521.5 89.0,520.4 86.1,522.2 83.5,523.1 83.5,523.1 85.4,525.4 87.1,528.8 89.5,529.2 91.1,532.8 93.6,533.0 95.2,536.5 97.7,536.5 99.4,539.8 101.9,539.7 103.7,542.8 106.2,542.4 108.1,545.2 110.7,544.5 112.6,547.0 115.3,546.0 117.3,548.2 120.0,546.8 122.1,548.6 125.0,546.8 127.1,548.1 130.1,545.9 132.4,546.7 135.5,543.9 137.9,544.1 141.1,540.7 144.5,536.9" fill="#7cbd2e"/><polygon points="144.5,536.9 142.1,536.5 139.7,536.2 137.3,535.9 134.9,535.6 132.5,535.2 130.1,534.9 127.7,534.5 125.4,534.1 123.0,533.7 120.6,533.3 118.3,532.8 115.9,532.3 113.6,531.8 111.2,531.2 108.9,530.7 106.5,530.1 104.2,529.5 101.9,528.8 99.6,528.2 97.3,527.5 95.0,526.8 92.7,526.0 90.4,525.3 88.1,524.6 85.8,523.8 83.5,523.1 83.5,523.1 85.4,525.4 87.1,528.8 89.5,529.2 91.1,532.8 93.6,533.0 95.2,536.5 97.7,536.5 99.4,539.8 101.9,539.7 103.7,542.8 106.2,542.4 108.1,545.2 110.7,544.5 112.6,547.0 115.3,546.0 117.3,548.2 120.0,546.8 122.1,548.6 125.0,546.8 127.1,548.1 130.1,545.9 132.4,546.7 135.5,543.9 137.9,544.1 141.1,540.7 144.5,536.9" fill="#4ea535"/><polygon points="138.1,532.3 136.0,530.6 133.6,530.4 131.5,528.9 129.0,529.0 126.8,527.6 124.3,527.8 122.1,526.6 119.6,526.8 117.4,525.7 114.9,526.1 112.6,525.0 110.1,525.4 107.8,524.4 105.3,524.9 103.0,523.9 100.4,524.4 98.2,523.4 95.6,524.0 93.3,523.0 90.8,523.6 91.1,522.2 93.9,520.7 96.1,521.8 98.9,520.3 101.1,521.4 103.9,520.0 106.1,521.3 108.8,519.9 111.0,521.3 113.7,520.1 115.9,521.6 118.6,520.5 120.7,522.2 123.3,521.3 125.4,523.2 128.0,522.5 130.0,524.7 132.5,524.3 134.4,526.7 136.9,526.7 138.7,529.5" fill="#a6d655" opacity="0.75"/><polyline points="144.5,536.9 142.1,536.5 139.7,536.2 137.3,535.9 134.9,535.6 132.5,535.2 130.1,534.9 127.7,534.5 125.4,534.1 123.0,533.7 120.6,533.3 118.3,532.8 115.9,532.3 113.6,531.8 111.2,531.2 108.9,530.7 106.5,530.1 104.2,529.5 101.9,528.8 99.6,528.2 97.3,527.5 95.0,526.8 92.7,526.0 90.4,525.3 88.1,524.6 85.8,523.8" fill="none" stroke="#2f8a2f" stroke-width="1.3"/><polygon points="242.9,532.9 246.3,537.5 249.6,541.3 252.6,541.6 255.8,544.8 258.7,544.4 261.8,547.0 264.6,545.9 267.8,548.1 270.5,546.5 273.6,548.2 276.3,546.2 279.4,547.5 282.0,545.2 285.0,546.0 287.6,543.4 290.6,543.9 293.2,541.0 296.2,541.2 298.7,538.0 301.6,538.1 304.2,534.7 307.1,534.6 309.6,531.0 312.5,530.7 315.0,527.3 317.7,525.0 317.7,525.0 314.7,523.9 311.5,521.7 308.7,522.5 305.6,520.0 302.7,521.0 299.6,518.6 296.8,519.6 293.6,517.4 290.9,518.6 287.7,516.4 285.0,517.7 281.8,515.8 279.1,517.3 276.0,515.5 273.3,517.3 270.2,515.8 267.5,517.8 264.5,516.6 261.8,519.0 258.8,518.2 256.2,521.0 253.3,520.7 250.7,524.0 247.8,524.4 245.3,528.3 242.9,532.9" fill="#7cbd2e"/><polygon points="242.9,532.9 245.8,532.9 248.7,532.8 251.6,532.8 254.5,532.7 257.4,532.7 260.3,532.6 263.2,532.5 266.1,532.3 269.0,532.2 271.9,532.0 274.8,531.8 277.7,531.5 280.6,531.2 283.4,530.9 286.3,530.5 289.2,530.2 292.0,529.8 294.9,529.3 297.8,528.8 300.6,528.3 303.5,527.8 306.3,527.3 309.2,526.7 312.0,526.2 314.9,525.6 317.7,525.0 317.7,525.0 314.7,523.9 311.5,521.7 308.7,522.5 305.6,520.0 302.7,521.0 299.6,518.6 296.8,519.6 293.6,517.4 290.9,518.6 287.7,516.4 285.0,517.7 281.8,515.8 279.1,517.3 276.0,515.5 273.3,517.3 270.2,515.8 267.5,517.8 264.5,516.6 261.8,519.0 258.8,518.2 256.2,521.0 253.3,520.7 250.7,524.0 247.8,524.4 245.3,528.3 242.9,532.9" fill="#4ea535"/><polygon points="252.0,536.7 255.1,538.2 258.0,537.9 261.0,539.1 263.9,538.5 266.9,539.4 269.7,538.6 272.7,539.3 275.5,538.3 278.4,538.7 281.2,537.5 284.1,537.7 286.9,536.3 289.8,536.4 292.6,534.8 295.5,534.7 298.2,533.0 301.1,532.7 303.8,530.9 306.7,530.6 309.4,528.6 309.5,530.1 306.9,533.1 304.0,533.3 301.4,536.1 298.5,536.2 295.9,538.9 293.0,538.7 290.3,541.2 287.4,540.8 284.7,543.0 281.7,542.4 279.0,544.3 276.0,543.3 273.3,544.9 270.2,543.7 267.4,544.9 264.4,543.3 261.5,544.1 258.4,542.0 255.5,542.4 252.4,539.8" fill="#a6d655" opacity="0.75"/><polyline points="242.9,532.9 245.8,532.9 248.7,532.8 251.6,532.8 254.5,532.7 257.4,532.7 260.3,532.6 263.2,532.5 266.1,532.3 269.0,532.2 271.9,532.0 274.8,531.8 277.7,531.5 280.6,531.2 283.4,530.9 286.3,530.5 289.2,530.2 292.0,529.8 294.9,529.3 297.8,528.8 300.6,528.3 303.5,527.8 306.3,527.3 309.2,526.7 312.0,526.2 314.9,525.6" fill="none" stroke="#2f8a2f" stroke-width="1.3"/><polygon points="215.4,424.6 219.5,427.7 223.4,430.1 226.0,429.2 229.6,431.1 232.0,429.6 235.5,430.9 237.6,428.9 241.0,429.9 243.0,427.5 246.2,428.1 248.1,425.5 251.2,425.8 253.1,422.9 256.1,423.1 257.8,420.0 260.8,419.9 262.5,416.7 265.3,416.5 267.0,413.1 269.8,412.8 271.4,409.3 274.2,408.9 275.8,405.3 278.6,404.8 280.2,401.4 282.3,399.1 282.3,399.1 279.0,398.2 275.3,396.3 272.8,397.3 269.0,395.2 266.5,396.4 262.8,394.5 260.4,395.8 256.8,394.1 254.4,395.6 250.9,394.1 248.6,395.9 245.2,394.7 243.0,396.8 239.7,395.8 237.7,398.3 234.6,397.7 232.7,400.5 229.7,400.4 228.0,403.6 225.1,403.9 223.6,407.6 221.0,408.4 219.7,412.7 217.3,414.2 216.2,419.1 215.4,424.6" fill="#5fae31"/><polygon points="215.4,424.6 217.8,423.4 220.3,422.2 222.8,421.0 225.3,419.8 227.8,418.6 230.3,417.4 232.8,416.3 235.3,415.1 237.8,414.0 240.4,412.9 242.9,411.9 245.5,410.8 248.1,409.8 250.6,408.9 253.2,407.9 255.8,407.0 258.4,406.1 261.1,405.3 263.7,404.4 266.3,403.6 269.0,402.8 271.6,402.1 274.3,401.3 277.0,400.5 279.6,399.8 282.3,399.1 282.3,399.1 279.0,398.2 275.3,396.3 272.8,397.3 269.0,395.2 266.5,396.4 262.8,394.5 260.4,395.8 256.8,394.1 254.4,395.6 250.9,394.1 248.6,395.9 245.2,394.7 243.0,396.8 239.7,395.8 237.7,398.3 234.6,397.7 232.7,400.5 229.7,400.4 228.0,403.6 225.1,403.9 223.6,407.6 221.0,408.4 219.7,412.7 217.3,414.2 216.2,419.1 215.4,424.6" fill="#3a9433"/><polygon points="224.2,424.7 227.2,424.9 229.7,423.5 232.6,423.5 235.0,421.9 237.9,421.8 240.2,420.1 243.0,419.8 245.3,418.0 248.1,417.6 250.3,415.7 253.1,415.3 255.3,413.3 258.0,412.8 260.2,410.9 263.0,410.3 265.2,408.3 267.9,407.7 270.1,405.7 272.8,405.1 275.0,403.1 275.5,404.5 273.7,407.5 270.9,408.0 269.1,411.0 266.3,411.3 264.5,414.2 261.7,414.6 259.8,417.4 256.9,417.6 255.0,420.2 252.1,420.3 250.1,422.8 247.1,422.7 245.0,425.1 242.0,424.8 239.8,426.9 236.7,426.4 234.4,428.2 231.1,427.4 228.8,428.9 225.3,427.6" fill="#8cc845" opacity="0.75"/><polyline points="215.4,424.6 217.8,423.4 220.3,422.2 222.8,421.0 225.3,419.8 227.8,418.6 230.3,417.4 232.8,416.3 235.3,415.1 237.8,414.0 240.4,412.9 242.9,411.9 245.5,410.8 248.1,409.8 250.6,408.9 253.2,407.9 255.8,407.0 258.4,406.1 261.1,405.3 263.7,404.4 266.3,403.6 269.0,402.8 271.6,402.1 274.3,401.3 277.0,400.5 279.6,399.8" fill="none" stroke="#277a2c" stroke-width="1.3"/><path d="M199.6,509.3 Q183.9,497.5 162.2,473.1" fill="none" stroke="#2e7d32" stroke-width="3.2" stroke-linecap="round"/><path d="M201.6,513.2 Q219.3,489.6 248.8,465.2" fill="none" stroke="#2e7d32" stroke-width="3.2" stroke-linecap="round"/><path d="M201.6,446.3 Q193.7,432.5 179.9,424.6" fill="none" stroke="#2e7d32" stroke-width="2.6" stroke-linecap="round"/><path d="M203.5,443.1 Q207.5,432.5 216.1,424.6" fill="none" stroke="#2e7d32" stroke-width="2.6" stroke-linecap="round"/><path d="M200.4,527.0 Q215.4,505.4 238.2,499.4" fill="none" stroke="#2e7d32" stroke-width="2.8" stroke-linecap="round"/><path d="M198.8,562.4 Q211.4,542.8 243.7,532.9" fill="none" stroke="#2e7d32" stroke-width="2.8" stroke-linecap="round"/><path d="M196.9,582.1 Q181.9,566.4 168.1,538.8" fill="none" stroke="#2e7d32" stroke-width="3.2" stroke-linecap="round"/><path d="M183.9,572.3 Q168.1,562.4 157.1,562.8" fill="none" stroke="#2e7d32" stroke-width="2.6" stroke-linecap="round"/><path d="M185.8,491.6 Q183.1,489.6 181.9,486.5" fill="none" stroke="#2e7d32" stroke-width="2.4" stroke-linecap="round"/><path d="M223.2,486.5 Q224.8,484.9 225.6,483.3" fill="none" stroke="#2e7d32" stroke-width="2.4" stroke-linecap="round"/><polygon points="195.7,633.3 192.5,592.0 194.9,544.7 198.8,489.6 200.4,438.4 201.2,395.1 202.8,395.1 204.3,438.4 205.1,489.6 202.8,544.7 202.8,592.0 207.5,633.3" fill="#3b8f35"/><polyline points="202.4,633.3 198.4,592.0 199.6,544.7 202.8,489.6 203.2,438.4 202.8,395.1" fill="none" stroke="#246b2a" stroke-width="1.6"/><ellipse cx="201.6" cy="634.5" rx="12.5" ry="2.8" fill="#9a5a1f"/><polygon points="162.2,471.9 163.9,466.5 165.2,461.7 163.8,459.4 164.6,454.9 162.8,453.2 163.1,449.2 160.8,447.8 160.8,444.2 158.2,443.2 157.8,440.0 154.8,439.3 154.1,436.4 150.8,436.0 149.9,433.4 146.3,433.2 145.1,430.8 141.4,430.9 139.9,428.8 136.0,429.1 134.4,427.1 130.3,427.5 128.5,425.7 124.3,426.3 122.4,424.5 118.3,425.0 115.0,424.6 115.0,424.6 115.8,427.4 116.0,430.9 118.2,432.3 118.2,436.0 120.5,437.3 120.5,440.9 122.9,442.1 123.0,445.7 125.4,446.9 125.6,450.4 128.1,451.4 128.4,454.9 131.0,455.8 131.4,459.1 134.2,459.9 134.7,463.0 137.7,463.7 138.4,466.6 141.7,467.0 142.6,469.7 146.2,469.8 147.4,472.1 151.4,471.8 153.1,473.7 157.4,473.0 162.2,471.9" fill="#5fae31"/><polygon points="162.2,471.9 160.7,469.8 159.1,467.7 157.6,465.6 156.0,463.5 154.5,461.5 152.9,459.4 151.3,457.4 149.6,455.4 147.9,453.4 146.2,451.5 144.5,449.6 142.7,447.7 140.9,445.9 139.1,444.1 137.2,442.3 135.3,440.6 133.4,438.9 131.4,437.2 129.4,435.6 127.4,434.0 125.4,432.4 123.3,430.8 121.2,429.3 119.2,427.7 117.1,426.2 115.0,424.6 115.0,424.6 115.8,427.4 116.0,430.9 118.2,432.3 118.2,436.0 120.5,437.3 120.5,440.9 122.9,442.1 123.0,445.7 125.4,446.9 125.6,450.4 128.1,451.4 128.4,454.9 131.0,455.8 131.4,459.1 134.2,459.9 134.7,463.0 137.7,463.7 138.4,466.6 141.7,467.0 142.6,469.7 146.2,469.8 147.4,472.1 151.4,471.8 153.1,473.7 157.4,473.0 162.2,471.9" fill="#3a9433"/><polygon points="160.4,462.8 159.9,459.7 158.2,457.7 157.5,454.8 155.6,453.1 154.6,450.4 152.5,448.8 151.4,446.3 149.1,445.0 147.9,442.6 145.4,441.4 144.0,439.3 141.3,438.2 139.7,436.2 137.0,435.3 135.3,433.4 132.4,432.7 130.5,430.9 127.6,430.2 125.7,428.5 122.6,427.9 123.7,426.9 127.5,426.7 129.3,428.5 133.0,428.4 134.7,430.4 138.2,430.5 139.8,432.5 143.2,432.8 144.5,435.1 147.7,435.5 148.9,438.0 151.8,438.7 152.7,441.4 155.5,442.3 156.1,445.3 158.5,446.5 158.9,449.7 161.1,451.2 161.1,454.8 162.9,456.7 162.6,460.6" fill="#8cc845" opacity="0.75"/><polyline points="162.2,471.9 160.7,469.8 159.1,467.7 157.6,465.6 156.0,463.5 154.5,461.5 152.9,459.4 151.3,457.4 149.6,455.4 147.9,453.4 146.2,451.5 144.5,449.6 142.7,447.7 140.9,445.9 139.1,444.1 137.2,442.3 135.3,440.6 133.4,438.9 131.4,437.2 129.4,435.6 127.4,434.0 125.4,432.4 123.3,430.8 121.2,429.3 119.2,427.7 117.1,426.2" fill="none" stroke="#277a2c" stroke-width="1.3"/><polygon points="179.9,424.6 180.0,419.4 179.8,414.7 177.8,413.1 177.4,408.8 175.0,407.8 174.3,404.1 171.7,403.5 170.7,400.1 167.9,399.9 166.6,397.0 163.6,397.1 162.2,394.5 159.0,394.9 157.4,392.6 154.0,393.3 152.3,391.2 148.8,392.2 146.9,390.3 143.3,391.5 141.3,389.8 137.6,391.1 135.6,389.6 131.8,391.0 129.7,389.6 126.0,390.9 122.8,391.2 122.8,391.2 124.3,393.7 125.3,397.1 127.8,397.8 128.6,401.5 131.1,402.2 132.0,405.7 134.6,406.3 135.5,409.8 138.2,410.3 139.2,413.7 141.9,414.0 143.0,417.2 145.8,417.5 146.9,420.5 149.9,420.5 151.2,423.4 154.2,423.2 155.7,425.7 158.9,425.2 160.5,427.5 164.0,426.7 165.8,428.6 169.5,427.3 171.7,428.6 175.7,426.9 179.9,424.6" fill="#5fae31"/><polygon points="179.9,424.6 177.8,423.2 175.8,421.7 173.7,420.2 171.6,418.7 169.5,417.2 167.4,415.8 165.3,414.4 163.2,412.9 161.0,411.5 158.9,410.2 156.7,408.8 154.6,407.5 152.4,406.2 150.2,404.9 148.0,403.7 145.7,402.5 143.5,401.2 141.2,400.1 139.0,398.9 136.7,397.8 134.4,396.6 132.1,395.5 129.8,394.4 127.5,393.3 125.2,392.3 122.8,391.2 122.8,391.2 124.3,393.7 125.3,397.1 127.8,397.8 128.6,401.5 131.1,402.2 132.0,405.7 134.6,406.3 135.5,409.8 138.2,410.3 139.2,413.7 141.9,414.0 143.0,417.2 145.8,417.5 146.9,420.5 149.9,420.5 151.2,423.4 154.2,423.2 155.7,425.7 158.9,425.2 160.5,427.5 164.0,426.7 165.8,428.6 169.5,427.3 171.7,428.6 175.7,426.9 179.9,424.6" fill="#3a9433"/><polygon points="175.6,417.0 174.2,414.3 172.0,413.0 170.5,410.5 168.2,409.5 166.6,407.2 164.1,406.3 162.4,404.2 159.8,403.6 158.0,401.6 155.4,401.1 153.4,399.4 150.7,399.0 148.7,397.4 145.9,397.2 143.8,395.7 140.9,395.6 138.8,394.2 135.8,394.2 133.7,392.9 130.7,392.9 131.4,391.7 134.9,390.8 137.0,392.2 140.4,391.4 142.4,393.0 145.8,392.3 147.7,394.0 151.0,393.5 152.8,395.4 156.0,395.1 157.7,397.2 160.7,397.1 162.2,399.5 165.1,399.6 166.5,402.3 169.2,402.7 170.4,405.6 172.9,406.4 173.9,409.7 176.2,410.8 177.0,414.5" fill="#8cc845" opacity="0.75"/><polyline points="179.9,424.6 177.8,423.2 175.8,421.7 173.7,420.2 171.6,418.7 169.5,417.2 167.4,415.8 165.3,414.4 163.2,412.9 161.0,411.5 158.9,410.2 156.7,408.8 154.6,407.5 152.4,406.2 150.2,404.9 148.0,403.7 145.7,402.5 143.5,401.2 141.2,400.1 139.0,398.9 136.7,397.8 134.4,396.6 132.1,395.5 129.8,394.4 127.5,393.3 125.2,392.3" fill="none" stroke="#277a2c" stroke-width="1.3"/><polygon points="201.6,395.1 201.8,389.5 201.6,384.4 199.7,382.5 199.3,378.0 197.0,376.8 196.2,372.8 193.6,372.1 192.6,368.6 189.7,368.4 188.5,365.3 185.4,365.4 183.9,362.8 180.6,363.2 178.9,360.9 175.5,361.7 173.6,359.7 170.0,360.8 168.0,359.1 164.2,360.4 162.1,358.9 158.2,360.4 156.0,359.1 152.0,360.8 149.7,359.6 145.8,361.1 142.5,361.7 142.5,361.7 144.1,364.1 145.2,367.5 147.8,368.2 148.8,371.8 151.4,372.4 152.4,375.9 155.1,376.5 156.2,380.0 158.9,380.4 160.0,383.8 162.8,384.1 163.9,387.4 166.8,387.6 168.1,390.7 171.0,390.8 172.4,393.7 175.5,393.5 177.0,396.1 180.2,395.7 181.9,398.0 185.4,397.2 187.3,399.2 191.0,397.9 193.2,399.2 197.2,397.5 201.6,395.1" fill="#7cbd2e"/><polygon points="201.6,395.1 199.5,393.5 197.4,391.8 195.4,390.2 193.3,388.6 191.2,387.0 189.1,385.4 186.9,383.9 184.8,382.4 182.6,380.9 180.4,379.5 178.2,378.1 176.0,376.7 173.7,375.4 171.4,374.2 169.1,372.9 166.8,371.8 164.4,370.6 162.1,369.5 159.7,368.5 157.3,367.4 154.8,366.4 152.4,365.4 149.9,364.5 147.5,363.5 145.0,362.6 142.5,361.7 142.5,361.7 144.1,364.1 145.2,367.5 147.8,368.2 148.8,371.8 151.4,372.4 152.4,375.9 155.1,376.5 156.2,380.0 158.9,380.4 160.0,383.8 162.8,384.1 163.9,387.4 166.8,387.6 168.1,390.7 171.0,390.8 172.4,393.7 175.5,393.5 177.0,396.1 180.2,395.7 181.9,398.0 185.4,397.2 187.3,399.2 191.0,397.9 193.2,399.2 197.2,397.5 201.6,395.1" fill="#4ea535"/><polygon points="197.3,386.8 196.0,383.8 193.8,382.4 192.3,379.8 189.9,378.6 188.3,376.2 185.8,375.3 184.0,373.1 181.4,372.4 179.5,370.5 176.8,369.9 174.8,368.2 172.0,367.9 169.9,366.4 166.9,366.2 164.7,364.8 161.7,364.8 159.4,363.6 156.4,363.7 154.0,362.6 150.9,362.8 151.6,361.5 155.3,360.3 157.5,361.6 161.1,360.6 163.3,362.0 166.8,361.2 168.9,362.8 172.3,362.1 174.2,364.0 177.4,363.6 179.2,365.7 182.3,365.6 184.0,368.0 186.9,368.1 188.3,370.9 191.0,371.4 192.3,374.5 194.8,375.4 195.8,378.8 198.1,380.1 198.8,384.1" fill="#a6d655" opacity="0.75"/><polyline points="201.6,395.1 199.5,393.5 197.4,391.8 195.4,390.2 193.3,388.6 191.2,387.0 189.1,385.4 186.9,383.9 184.8,382.4 182.6,380.9 180.4,379.5 178.2,378.1 176.0,376.7 173.7,375.4 171.4,374.2 169.1,372.9 166.8,371.8 164.4,370.6 162.1,369.5 159.7,368.5 157.3,367.4 154.8,366.4 152.4,365.4 149.9,364.5 147.5,363.5 145.0,362.6" fill="none" stroke="#2f8a2f" stroke-width="1.3"/><polygon points="201.6,395.1 206.0,397.7 210.2,399.7 213.0,398.4 217.0,399.9 219.5,398.0 223.3,398.9 225.7,396.6 229.3,397.2 231.6,394.5 235.1,394.9 237.3,392.0 240.7,392.1 242.8,389.0 246.1,388.9 248.1,385.7 251.4,385.5 253.4,382.1 256.7,381.9 258.6,378.4 261.8,378.1 263.7,374.6 266.9,374.2 268.8,370.6 272.0,370.1 274.0,366.7 276.4,364.4 276.4,364.4 272.7,363.5 268.5,361.7 265.6,362.7 261.4,360.6 258.5,361.8 254.4,359.9 251.6,361.3 247.5,359.7 244.8,361.3 240.9,359.9 238.3,361.9 234.6,360.8 232.1,363.1 228.5,362.4 226.2,365.0 222.7,364.7 220.6,367.8 217.3,368.0 215.4,371.5 212.3,372.2 210.6,376.2 207.8,377.4 206.3,382.1 203.7,384.0 202.5,389.2 201.6,395.1" fill="#7cbd2e"/><polygon points="201.6,395.1 204.3,393.5 207.0,391.9 209.7,390.2 212.4,388.7 215.1,387.1 217.8,385.6 220.6,384.1 223.3,382.6 226.1,381.2 228.9,379.8 231.7,378.5 234.6,377.2 237.4,376.0 240.3,374.9 243.2,373.8 246.2,372.7 249.1,371.7 252.1,370.8 255.1,369.9 258.1,369.0 261.1,368.2 264.2,367.4 267.2,366.6 270.3,365.9 273.3,365.1 276.4,364.4 276.4,364.4 272.7,363.5 268.5,361.7 265.6,362.7 261.4,360.6 258.5,361.8 254.4,359.9 251.6,361.3 247.5,359.7 244.8,361.3 240.9,359.9 238.3,361.9 234.6,360.8 232.1,363.1 228.5,362.4 226.2,365.0 222.7,364.7 220.6,367.8 217.3,368.0 215.4,371.5 212.3,372.2 210.6,376.2 207.8,377.4 206.3,382.1 203.7,384.0 202.5,389.2 201.6,395.1" fill="#4ea535"/><polygon points="211.2,393.9 214.4,393.7 217.1,392.0 220.3,391.6 222.9,389.7 226.0,389.2 228.6,387.2 231.7,386.6 234.2,384.6 237.3,383.9 239.8,381.9 242.9,381.2 245.4,379.1 248.5,378.5 251.0,376.4 254.1,375.8 256.7,373.7 259.8,373.1 262.3,371.1 265.4,370.4 267.9,368.4 268.5,369.8 266.4,372.8 263.2,373.3 261.1,376.3 257.9,376.7 255.7,379.7 252.5,380.1 250.4,383.0 247.2,383.3 244.9,386.1 241.7,386.4 239.5,389.1 236.2,389.3 233.9,391.9 230.5,391.9 228.1,394.3 224.7,394.1 222.2,396.3 218.7,395.8 216.1,397.6 212.3,396.8" fill="#a6d655" opacity="0.75"/><polyline points="201.6,395.1 204.3,393.5 207.0,391.9 209.7,390.2 212.4,388.7 215.1,387.1 217.8,385.6 220.6,384.1 223.3,382.6 226.1,381.2 228.9,379.8 231.7,378.5 234.6,377.2 237.4,376.0 240.3,374.9 243.2,373.8 246.2,372.7 249.1,371.7 252.1,370.8 255.1,369.9 258.1,369.0 261.1,368.2 264.2,367.4 267.2,366.6 270.3,365.9 273.3,365.1" fill="none" stroke="#2f8a2f" stroke-width="1.3"/><polygon points="246.9,466.0 252.4,468.7 257.5,470.6 261.2,469.1 266.1,470.3 269.4,468.1 274.1,468.8 277.2,466.1 281.7,466.4 284.7,463.4 289.0,463.3 291.9,460.0 296.0,459.7 298.8,456.1 302.9,455.6 305.6,451.9 309.7,451.2 312.3,447.4 316.3,446.6 318.9,442.6 322.8,441.7 325.4,437.6 329.3,436.7 331.8,432.5 335.7,431.5 338.3,427.6 341.3,424.6 341.3,424.6 336.7,424.0 331.7,422.4 327.9,423.6 322.8,421.8 319.1,423.2 314.1,421.7 310.4,423.3 305.5,422.0 302.0,423.9 297.2,422.8 293.9,425.0 289.2,424.3 286.1,426.9 281.6,426.6 278.6,429.7 274.3,429.8 271.5,433.3 267.5,433.9 264.9,437.9 261.1,439.1 258.7,443.6 255.2,445.4 253.1,450.7 249.9,453.2 248.2,459.2 246.9,466.0" fill="#7cbd2e"/><polygon points="246.9,466.0 250.3,463.9 253.7,461.9 257.2,459.9 260.6,457.9 264.1,455.9 267.6,453.9 271.1,452.0 274.6,450.2 278.1,448.3 281.6,446.6 285.2,444.8 288.8,443.2 292.4,441.5 296.1,440.0 299.8,438.5 303.5,437.0 307.2,435.6 310.9,434.3 314.7,432.9 318.4,431.7 322.2,430.4 326.0,429.2 329.8,428.1 333.7,426.9 337.5,425.8 341.3,424.6 341.3,424.6 336.7,424.0 331.7,422.4 327.9,423.6 322.8,421.8 319.1,423.2 314.1,421.7 310.4,423.3 305.5,422.0 302.0,423.9 297.2,422.8 293.9,425.0 289.2,424.3 286.1,426.9 281.6,426.6 278.6,429.7 274.3,429.8 271.5,433.3 267.5,433.9 264.9,437.9 261.1,439.1 258.7,443.6 255.2,445.4 253.1,450.7 249.9,453.2 248.2,459.2 246.9,466.0" fill="#4ea535"/><polygon points="259.0,464.0 263.1,463.5 266.5,461.4 270.5,460.6 273.8,458.4 277.8,457.5 281.1,455.1 284.9,454.1 288.2,451.7 292.1,450.6 295.3,448.1 299.2,447.0 302.4,444.5 306.2,443.4 309.5,440.9 313.3,439.8 316.6,437.3 320.4,436.2 323.6,433.7 327.5,432.6 330.7,430.1 331.4,431.6 328.6,435.2 324.7,436.2 321.9,439.7 318.0,440.7 315.2,444.1 311.3,445.0 308.4,448.4 304.5,449.2 301.6,452.5 297.5,453.2 294.6,456.4 290.5,457.0 287.5,460.0 283.4,460.4 280.2,463.2 276.0,463.3 272.8,465.8 268.4,465.7 265.0,467.8 260.4,467.2" fill="#a6d655" opacity="0.75"/><polyline points="246.9,466.0 250.3,463.9 253.7,461.9 257.2,459.9 260.6,457.9 264.1,455.9 267.6,453.9 271.1,452.0 274.6,450.2 278.1,448.3 281.6,446.6 285.2,444.8 288.8,443.2 292.4,441.5 296.1,440.0 299.8,438.5 303.5,437.0 307.2,435.6 310.9,434.3 314.7,432.9 318.4,431.7 322.2,430.4 326.0,429.2 329.8,428.1 333.7,426.9 337.5,425.8" fill="none" stroke="#2f8a2f" stroke-width="1.3"/><polygon points="237.0,499.4 240.1,503.7 243.2,507.3 246.1,507.3 249.1,510.3 252.0,509.6 255.0,512.0 257.8,510.8 260.8,512.8 263.6,511.2 266.6,512.8 269.3,510.9 272.3,512.2 275.1,510.0 278.0,511.0 280.8,508.6 283.7,509.4 286.4,506.8 289.4,507.5 292.1,504.7 295.0,505.2 297.7,502.3 300.7,502.7 303.4,499.7 306.3,500.0 309.0,497.2 311.8,495.5 311.8,495.5 308.8,493.8 305.8,490.9 302.9,491.2 299.9,488.1 297.0,488.5 294.0,485.6 291.1,486.2 288.1,483.5 285.3,484.3 282.2,481.8 279.4,482.9 276.4,480.7 273.6,482.0 270.6,480.1 267.8,481.8 264.8,480.3 262.1,482.3 259.1,481.2 256.4,483.7 253.5,483.1 250.7,486.1 247.8,486.0 245.1,489.7 242.3,490.3 239.6,494.5 237.0,499.4" fill="#7cbd2e"/><polygon points="237.0,499.4 239.9,499.1 242.7,498.8 245.6,498.5 248.5,498.1 251.3,497.8 254.2,497.5 257.1,497.3 260.0,497.0 262.8,496.8 265.7,496.5 268.6,496.3 271.5,496.1 274.3,496.0 277.2,495.8 280.1,495.7 283.0,495.6 285.8,495.5 288.7,495.5 291.6,495.5 294.5,495.4 297.4,495.4 300.3,495.4 303.2,495.4 306.0,495.5 308.9,495.5 311.8,495.5 311.8,495.5 308.8,493.8 305.8,490.9 302.9,491.2 299.9,488.1 297.0,488.5 294.0,485.6 291.1,486.2 288.1,483.5 285.3,484.3 282.2,481.8 279.4,482.9 276.4,480.7 273.6,482.0 270.6,480.1 267.8,481.8 264.8,480.3 262.1,482.3 259.1,481.2 256.4,483.7 253.5,483.1 250.7,486.1 247.8,486.0 245.1,489.7 242.3,490.3 239.6,494.5 237.0,499.4" fill="#4ea535"/><polygon points="245.8,502.4 248.8,503.6 251.6,503.1 254.6,504.1 257.4,503.4 260.3,504.1 263.2,503.3 266.1,503.9 268.9,502.9 271.8,503.4 274.7,502.3 277.6,502.7 280.4,501.5 283.3,501.8 286.1,500.6 289.0,500.9 291.8,499.6 294.7,499.8 297.5,498.5 300.4,498.7 303.3,497.3 303.3,498.8 300.6,501.3 297.7,500.9 294.9,503.3 292.0,502.8 289.2,505.1 286.3,504.5 283.5,506.7 280.6,506.0 277.8,508.0 274.9,507.2 272.1,509.0 269.2,508.0 266.4,509.6 263.4,508.3 260.6,509.6 257.7,508.1 254.8,509.1 251.8,507.2 249.0,507.9 246.0,505.5" fill="#a6d655" opacity="0.75"/><polyline points="237.0,499.4 239.9,499.1 242.7,498.8 245.6,498.5 248.5,498.1 251.3,497.8 254.2,497.5 257.1,497.3 260.0,497.0 262.8,496.8 265.7,496.5 268.6,496.3 271.5,496.1 274.3,496.0 277.2,495.8 280.1,495.7 283.0,495.6 285.8,495.5 288.7,495.5 291.6,495.5 294.5,495.4 297.4,495.4 300.3,495.4 303.2,495.4 306.0,495.5 308.9,495.5" fill="none" stroke="#2f8a2f" stroke-width="1.3"/><polygon points="181.9,487.6 186.6,484.9 190.4,482.3 190.6,480.1 193.8,477.5 193.2,475.4 195.8,472.9 194.7,470.8 196.7,468.3 195.2,466.3 196.8,463.9 194.9,461.9 196.1,459.5 193.8,457.6 194.8,455.2 192.2,453.3 192.8,451.0 190.0,449.1 190.4,446.8 187.4,444.9 187.7,442.7 184.5,440.8 184.6,438.5 181.2,436.7 181.2,434.5 178.1,432.6 176.0,430.6 176.0,430.6 174.4,432.9 171.7,435.4 172.1,437.6 169.2,440.1 169.8,442.3 167.0,444.8 167.7,446.9 165.2,449.4 166.1,451.6 163.7,454.0 164.8,456.1 162.7,458.6 164.0,460.6 162.2,463.0 163.9,465.1 162.4,467.5 164.5,469.5 163.4,471.8 165.9,473.8 165.3,476.0 168.3,478.0 168.2,480.2 171.8,482.0 172.5,484.2 176.8,485.9 181.9,487.6" fill="#34913a"/><polygon points="181.9,487.6 181.7,485.4 181.4,483.2 181.2,481.1 181.0,478.9 180.8,476.7 180.5,474.5 180.3,472.3 180.1,470.1 179.8,467.9 179.6,465.7 179.4,463.5 179.2,461.3 178.9,459.1 178.7,456.9 178.5,454.7 178.3,452.5 178.0,450.3 177.8,448.1 177.6,445.9 177.3,443.7 177.1,441.5 176.9,439.3 176.7,437.1 176.4,434.9 176.2,432.7 176.0,430.6 176.0,430.6 174.4,432.9 171.7,435.4 172.1,437.6 169.2,440.1 169.8,442.3 167.0,444.8 167.7,446.9 165.2,449.4 166.1,451.6 163.7,454.0 164.8,456.1 162.7,458.6 164.0,460.6 162.2,463.0 163.9,465.1 162.4,467.5 164.5,469.5 163.4,471.8 165.9,473.8 165.3,476.0 168.3,478.0 168.2,480.2 171.8,482.0 172.5,484.2 176.8,485.9 181.9,487.6" fill="#257a31"/><polygon points="185.4,480.6 186.7,478.3 186.4,476.1 187.4,473.8 186.8,471.6 187.6,469.3 186.8,467.2 187.4,464.9 186.4,462.8 186.8,460.5 185.6,458.4 185.9,456.2 184.6,454.1 184.8,451.8 183.4,449.8 183.5,447.5 182.0,445.5 182.0,443.2 180.4,441.2 180.3,439.0 178.7,436.9 180.3,436.8 183.0,438.7 183.0,440.9 185.6,442.9 185.4,445.1 187.9,447.1 187.6,449.3 189.9,451.3 189.4,453.6 191.6,455.6 190.8,457.9 192.7,459.9 191.8,462.2 193.4,464.3 192.1,466.6 193.4,468.7 191.8,471.1 192.7,473.2 190.7,475.6 191.2,477.8 188.7,480.3" fill="#4fa83f" opacity="0.75"/><polyline points="181.9,487.6 181.7,485.4 181.4,483.2 181.2,481.1 181.0,478.9 180.8,476.7 180.5,474.5 180.3,472.3 180.1,470.1 179.8,467.9 179.6,465.7 179.4,463.5 179.2,461.3 178.9,459.1 178.7,456.9 178.5,454.7 178.3,452.5 178.0,450.3 177.8,448.1 177.6,445.9 177.3,443.7 177.1,441.5 176.9,439.3 176.7,437.1 176.4,434.9 176.2,432.7" fill="none" stroke="#1d6a2a" stroke-width="1.3"/><polygon points="225.2,483.7 231.1,481.9 235.8,480.1 236.7,478.1 240.5,476.2 240.5,474.2 243.6,472.3 243.0,470.3 245.5,468.3 244.3,466.3 246.2,464.3 244.6,462.2 246.1,460.3 244.0,458.2 245.2,456.2 242.7,454.1 243.6,452.1 240.8,450.0 241.4,448.0 238.4,445.9 238.8,443.9 235.6,441.7 235.8,439.7 232.4,437.6 232.4,435.6 229.3,433.4 227.2,431.3 227.2,431.3 224.9,433.3 221.6,435.2 221.4,437.2 218.0,439.1 218.0,441.1 214.7,443.0 214.8,445.0 211.7,446.9 212.1,448.9 209.3,450.8 209.9,452.9 207.4,454.8 208.3,456.8 206.1,458.8 207.5,460.9 205.7,462.8 207.5,464.9 206.2,466.9 208.5,469.0 207.7,470.9 210.6,473.1 210.5,475.1 214.1,477.2 214.9,479.3 219.4,481.5 225.2,483.7" fill="#34913a"/><polygon points="225.2,483.7 225.3,481.7 225.3,479.7 225.4,477.7 225.5,475.6 225.6,473.6 225.7,471.6 225.7,469.6 225.8,467.6 225.9,465.6 226.0,463.6 226.0,461.5 226.1,459.5 226.2,457.5 226.3,455.5 226.3,453.5 226.4,451.5 226.5,449.5 226.6,447.5 226.6,445.4 226.7,443.4 226.8,441.4 226.9,439.4 226.9,437.4 227.0,435.4 227.1,433.4 227.2,431.3 227.2,431.3 224.9,433.3 221.6,435.2 221.4,437.2 218.0,439.1 218.0,441.1 214.7,443.0 214.8,445.0 211.7,446.9 212.1,448.9 209.3,450.8 209.9,452.9 207.4,454.8 208.3,456.8 206.1,458.8 207.5,460.9 205.7,462.8 207.5,464.9 206.2,466.9 208.5,469.0 207.7,470.9 210.6,473.1 210.5,475.1 214.1,477.2 214.9,479.3 219.4,481.5 225.2,483.7" fill="#257a31"/><polygon points="230.5,477.8 232.3,475.9 232.3,473.9 233.7,471.9 233.5,469.9 234.6,467.9 234.2,465.9 235.1,463.9 234.4,461.9 235.1,459.9 234.2,457.8 234.8,455.8 233.7,453.8 234.1,451.8 232.9,449.7 233.2,447.7 231.9,445.6 232.1,443.6 230.8,441.6 230.9,439.5 229.4,437.5 231.3,437.5 234.0,439.7 233.8,441.7 236.4,443.8 236.1,445.8 238.4,447.9 238.0,449.9 240.1,452.0 239.5,454.0 241.4,456.1 240.4,458.1 242.1,460.1 240.9,462.1 242.2,464.2 240.6,466.1 241.5,468.2 239.5,470.1 240.0,472.2 237.6,474.1 237.5,476.1 234.4,478.0" fill="#4fa83f" opacity="0.75"/><polyline points="225.2,483.7 225.3,481.7 225.3,479.7 225.4,477.7 225.5,475.6 225.6,473.6 225.7,471.6 225.7,469.6 225.8,467.6 225.9,465.6 226.0,463.6 226.0,461.5 226.1,459.5 226.2,457.5 226.3,455.5 226.3,453.5 226.4,451.5 226.5,449.5 226.6,447.5 226.6,445.4 226.7,443.4 226.8,441.4 226.9,439.4 226.9,437.4 227.0,435.4 227.1,433.4" fill="none" stroke="#1d6a2a" stroke-width="1.3"/><polygon points="168.1,538.8 173.0,535.7 176.9,532.8 177.1,530.8 180.2,528.1 179.6,526.3 182.0,523.8 180.8,522.1 182.6,519.7 180.9,518.2 182.3,516.0 180.1,514.6 181.1,512.4 178.6,511.1 179.2,509.0 176.4,507.8 176.7,505.8 173.6,504.6 173.6,502.7 170.3,501.6 170.2,499.7 166.7,498.6 166.4,496.8 162.7,495.8 162.2,494.0 158.8,492.9 156.3,491.6 156.3,491.6 154.7,493.9 152.2,496.5 152.6,498.3 149.9,500.9 150.5,502.7 147.9,505.3 148.6,507.0 146.2,509.5 147.2,511.2 145.0,513.7 146.2,515.3 144.3,517.7 145.8,519.3 144.2,521.6 146.1,523.1 144.9,525.3 147.1,526.7 146.3,528.8 149.1,530.1 148.8,532.1 152.1,533.2 152.4,535.0 156.4,536.0 157.5,537.6 162.3,538.3 168.1,538.8" fill="#34913a"/><polygon points="168.1,538.8 167.7,537.0 167.2,535.2 166.7,533.4 166.3,531.6 165.8,529.7 165.4,527.9 164.9,526.1 164.5,524.3 164.0,522.5 163.6,520.6 163.1,518.8 162.7,517.0 162.2,515.2 161.8,513.4 161.3,511.6 160.8,509.7 160.4,507.9 159.9,506.1 159.5,504.3 159.0,502.5 158.6,500.7 158.1,498.8 157.7,497.0 157.2,495.2 156.8,493.4 156.3,491.6 156.3,491.6 154.7,493.9 152.2,496.5 152.6,498.3 149.9,500.9 150.5,502.7 147.9,505.3 148.6,507.0 146.2,509.5 147.2,511.2 145.0,513.7 146.2,515.3 144.3,517.7 145.8,519.3 144.2,521.6 146.1,523.1 144.9,525.3 147.1,526.7 146.3,528.8 149.1,530.1 148.8,532.1 152.1,533.2 152.4,535.0 156.4,536.0 157.5,537.6 162.3,538.3 168.1,538.8" fill="#257a31"/><polygon points="171.4,532.2 172.5,530.0 172.0,528.2 172.9,526.0 172.1,524.3 172.6,522.2 171.6,520.6 172.0,518.5 170.8,516.9 171.0,514.9 169.6,513.4 169.6,511.4 168.1,509.9 168.0,508.0 166.3,506.4 166.1,504.6 164.4,503.1 164.0,501.2 162.2,499.7 161.8,497.9 159.9,496.5 161.7,496.0 164.7,497.2 165.0,499.0 168.0,500.2 168.1,502.1 170.9,503.4 170.9,505.3 173.5,506.6 173.4,508.5 175.7,509.9 175.3,511.9 177.4,513.3 176.7,515.4 178.5,516.9 177.5,519.1 179.0,520.7 177.6,522.9 178.7,524.6 176.8,527.0 177.4,528.8 175.0,531.3" fill="#4fa83f" opacity="0.75"/><polyline points="168.1,538.8 167.7,537.0 167.2,535.2 166.7,533.4 166.3,531.6 165.8,529.7 165.4,527.9 164.9,526.1 164.5,524.3 164.0,522.5 163.6,520.6 163.1,518.8 162.7,517.0 162.2,515.2 161.8,513.4 161.3,511.6 160.8,509.7 160.4,507.9 159.9,506.1 159.5,504.3 159.0,502.5 158.6,500.7 158.1,498.8 157.7,497.0 157.2,495.2 156.8,493.4" fill="none" stroke="#1d6a2a" stroke-width="1.3"/><polygon points="158.3,562.4 152.6,558.9 147.6,556.4 144.4,557.0 139.8,555.2 137.1,556.6 132.9,555.4 130.6,557.4 126.6,556.7 124.6,559.2 121.0,559.0 119.3,562.0 115.9,562.2 114.4,565.6 111.3,566.2 110.0,570.0 107.1,570.9 106.0,575.0 103.3,576.2 102.4,580.5 99.7,582.0 99.0,586.5 96.5,588.2 95.8,592.9 93.4,594.8 92.6,599.3 91.3,603.0 91.3,603.0 94.8,602.9 98.8,603.7 101.2,601.8 105.3,602.8 107.6,600.8 111.7,601.7 113.9,599.6 117.9,600.4 120.1,598.2 124.0,598.9 126.1,596.5 129.9,597.0 131.9,594.5 135.6,594.8 137.5,592.0 141.0,592.0 142.7,589.0 146.0,588.7 147.5,585.3 150.6,584.7 151.8,580.8 154.6,579.7 155.5,575.3 157.9,573.4 158.4,568.4 158.3,562.4" fill="#7cbd2e"/><polygon points="158.3,562.4 155.5,563.7 152.7,564.9 150.0,566.2 147.2,567.4 144.5,568.7 141.7,570.0 139.0,571.4 136.3,572.7 133.7,574.1 131.0,575.5 128.4,577.0 125.8,578.5 123.2,580.0 120.6,581.6 118.1,583.2 115.6,584.9 113.1,586.6 110.6,588.3 108.1,590.1 105.7,591.9 103.3,593.7 100.9,595.5 98.5,597.4 96.1,599.2 93.7,601.1 91.3,603.0 91.3,603.0 94.8,602.9 98.8,603.7 101.2,601.8 105.3,602.8 107.6,600.8 111.7,601.7 113.9,599.6 117.9,600.4 120.1,598.2 124.0,598.9 126.1,596.5 129.9,597.0 131.9,594.5 135.6,594.8 137.5,592.0 141.0,592.0 142.7,589.0 146.0,588.7 147.5,585.3 150.6,584.7 151.8,580.8 154.6,579.7 155.5,575.3 157.9,573.4 158.4,568.4 158.3,562.4" fill="#4ea535"/><polygon points="147.5,562.1 143.9,561.9 141.2,563.3 137.8,563.4 135.2,565.1 132.0,565.5 129.6,567.4 126.5,568.1 124.3,570.2 121.3,571.2 119.2,573.5 116.4,574.7 114.5,577.3 111.8,578.6 109.9,581.4 107.3,582.9 105.5,585.8 103.0,587.4 101.3,590.5 98.9,592.2 97.3,595.4 96.3,593.8 97.4,589.7 99.8,588.0 100.9,584.0 103.5,582.4 104.7,578.6 107.4,577.3 108.8,573.7 111.6,572.6 113.2,569.3 116.2,568.5 117.9,565.5 121.1,565.0 123.0,562.3 126.4,562.2 128.6,559.9 132.3,560.2 134.7,558.3 138.6,559.0 141.3,557.6 145.5,558.9" fill="#a6d655" opacity="0.75"/><polyline points="158.3,562.4 155.5,563.7 152.7,564.9 150.0,566.2 147.2,567.4 144.5,568.7 141.7,570.0 139.0,571.4 136.3,572.7 133.7,574.1 131.0,575.5 128.4,577.0 125.8,578.5 123.2,580.0 120.6,581.6 118.1,583.2 115.6,584.9 113.1,586.6 110.6,588.3 108.1,590.1 105.7,591.9 103.3,593.7 100.9,595.5 98.5,597.4 96.1,599.2 93.7,601.1" fill="none" stroke="#2f8a2f" stroke-width="1.3"/><polygon points="205.5,558.5 201.0,563.6 197.9,567.9 198.0,570.2 195.6,574.1 196.6,575.9 194.9,579.3 196.5,580.7 195.5,583.8 197.6,584.9 197.0,587.7 199.5,588.5 199.4,591.0 202.3,591.7 202.5,594.0 205.8,594.4 206.3,596.5 209.9,596.8 210.6,598.8 214.4,598.9 215.4,600.7 219.4,600.7 220.5,602.5 224.6,602.4 225.9,604.0 229.9,604.0 233.1,604.6 233.1,604.6 234.1,601.5 236.0,598.0 235.1,596.1 237.2,592.5 236.2,590.7 238.0,587.2 236.9,585.4 238.6,582.0 237.2,580.4 238.6,577.2 237.0,575.7 238.2,572.6 236.3,571.4 237.1,568.5 234.8,567.4 235.2,564.8 232.5,564.0 232.5,561.6 229.3,561.1 228.8,559.0 225.1,558.8 223.9,557.1 219.4,557.4 217.4,556.2 212.1,557.0 205.5,558.5" fill="#5fae31"/><polygon points="205.5,558.5 206.6,560.3 207.6,562.0 208.7,563.8 209.8,565.6 210.8,567.4 211.9,569.1 212.9,570.9 214.0,572.7 215.1,574.4 216.1,576.2 217.2,578.0 218.2,579.8 219.3,581.5 220.4,583.3 221.4,585.1 222.5,586.9 223.5,588.6 224.6,590.4 225.7,592.2 226.7,593.9 227.8,595.7 228.8,597.5 229.9,599.3 231.0,601.0 232.0,602.8 233.1,604.6 233.1,604.6 234.1,601.5 236.0,598.0 235.1,596.1 237.2,592.5 236.2,590.7 238.0,587.2 236.9,585.4 238.6,582.0 237.2,580.4 238.6,577.2 237.0,575.7 238.2,572.6 236.3,571.4 237.1,568.5 234.8,567.4 235.2,564.8 232.5,564.0 232.5,561.6 229.3,561.1 228.8,559.0 225.1,558.8 223.9,557.1 219.4,557.4 217.4,556.2 212.1,557.0 205.5,558.5" fill="#3a9433"/><polygon points="203.9,566.7 203.4,569.4 204.4,571.2 204.2,573.7 205.5,575.3 205.7,577.7 207.2,579.2 207.5,581.4 209.2,582.7 209.7,584.8 211.7,586.1 212.3,588.1 214.4,589.3 215.2,591.2 217.4,592.3 218.3,594.2 220.6,595.2 221.6,597.0 224.0,598.0 225.1,599.7 227.5,600.7 225.7,601.8 222.2,601.5 221.0,599.7 217.6,599.4 216.7,597.5 213.4,597.1 212.6,595.2 209.5,594.6 208.9,592.5 206.1,591.8 205.7,589.7 203.2,588.8 203.1,586.4 200.8,585.4 201.1,582.8 199.2,581.5 199.8,578.8 198.3,577.2 199.4,574.2 198.4,572.4 200.1,569.0" fill="#8cc845" opacity="0.75"/><polyline points="205.5,558.5 206.6,560.3 207.6,562.0 208.7,563.8 209.8,565.6 210.8,567.4 211.9,569.1 212.9,570.9 214.0,572.7 215.1,574.4 216.1,576.2 217.2,578.0 218.2,579.8 219.3,581.5 220.4,583.3 221.4,585.1 222.5,586.9 223.5,588.6 224.6,590.4 225.7,592.2 226.7,593.9 227.8,595.7 228.8,597.5 229.9,599.3 231.0,601.0 232.0,602.8" fill="none" stroke="#277a2c" stroke-width="1.3"/><path d="M76.7,284.7 L103.4,297.5 L133.5,290.0M103.4,297.5 L92.3,310.5M103.4,297.5 L104.7,327.4 L128.7,339.9 L113.3,362.9 L86.0,353.3 L56.7,362.1 L71.9,339.9 L104.7,327.4M86.0,353.3 L86.0,326.5M86.0,353.3 L71.9,377.3" fill="none" stroke="#1b8a3e" stroke-width="1.6" stroke-linejoin="round" stroke-linecap="round"/><text x="85.6" y="324.5" text-anchor="middle" font-family="'Liberation Sans', 'DejaVu Sans', sans-serif" font-size="18" fill="#1b8a3e">O</text><path d="M306.6,302.0 L306.6,324.9 L327.2,338.1 L348.9,329.0 L348.9,312.3M327.2,338.1 L327.2,361.5 L306.6,370.6 L306.6,393.5 L285.5,402.6" fill="none" stroke="#a0509e" stroke-width="1.4" stroke-linejoin="round" stroke-linecap="round"/><text transform="translate(355.7,298.6) rotate(-55)" text-anchor="middle" y="6" font-family="'Liberation Sans', 'DejaVu Sans', sans-serif" font-size="17.5" fill="#a0509e">OH</text><circle cx="214.9" cy="302.0" r="18.7" fill="url(#gPurple)" stroke="#a06fb6" stroke-width="0.6"/><circle cx="200.4" cy="356.4" r="13.3" fill="#e7a7bd"/><circle cx="199.2" cy="355.2" r="13.3" fill="url(#gGreen)"/><circle cx="115.3" cy="388.5" r="13.3" fill="#e7a7bd"/><circle cx="114.1" cy="387.3" r="13.3" fill="url(#gGreen)"/><circle cx="267.8" cy="390.0" r="18.2" fill="url(#gPurple)" stroke="#a06fb6" stroke-width="0.6"/><circle cx="328.4" cy="420.3" r="13.3" fill="#e7a7bd"/><circle cx="327.2" cy="419.1" r="13.3" fill="url(#gGreen)"/><circle cx="101.0" cy="461.5" r="18.4" fill="url(#gPurple)" stroke="#a06fb6" stroke-width="0.6"/><circle cx="233.9" cy="532.1" r="18.2" fill="url(#gPurple)" stroke="#a06fb6" stroke-width="0.6"/><circle cx="147.7" cy="553.8" r="13.3" fill="#e7a7bd"/><circle cx="146.5" cy="552.6" r="13.3" fill="url(#gGreen)"/><line x1="414.1" y1="463.3" x2="400.0" y2="452.6" stroke="#dadada" stroke-width="2.7"/><line x1="414.1" y1="463.3" x2="396.5" y2="466.0" stroke="#dadada" stroke-width="2.7"/><line x1="425.3" y1="492.7" x2="442.6" y2="491.4" stroke="#dadada" stroke-width="2.7"/><line x1="425.3" y1="492.7" x2="439.2" y2="502.8" stroke="#dadada" stroke-width="2.7"/><line x1="413.3" y1="534.0" x2="430.1" y2="532.7" stroke="#dadada" stroke-width="2.7"/><line x1="413.3" y1="534.0" x2="426.6" y2="544.1" stroke="#dadada" stroke-width="2.7"/><line x1="388.0" y1="551.3" x2="374.7" y2="542.0" stroke="#dadada" stroke-width="2.7"/><line x1="388.0" y1="551.3" x2="369.9" y2="554.0" stroke="#dadada" stroke-width="2.7"/><circle cx="400.0" cy="452.6" r="4.7" fill="url(#aH)"/><circle cx="396.5" cy="466.0" r="4.7" fill="url(#aH)"/><circle cx="442.6" cy="491.4" r="4.7" fill="url(#aH)"/><circle cx="439.2" cy="502.8" r="4.7" fill="url(#aH)"/><circle cx="430.1" cy="532.7" r="4.7" fill="url(#aH)"/><circle cx="426.6" cy="544.1" r="4.7" fill="url(#aH)"/><circle cx="374.7" cy="542.0" r="4.7" fill="url(#aH)"/><circle cx="369.9" cy="554.0" r="4.7" fill="url(#aH)"/><line x1="431.5" y1="430.8" x2="434.8" y2="439.4" stroke="#e8e8e8" stroke-width="3.4"/><line x1="434.8" y1="439.4" x2="438.1" y2="447.9" stroke="#e01818" stroke-width="3.4"/><line x1="438.1" y1="447.9" x2="426.1" y2="455.6" stroke="#e01818" stroke-width="3.4"/><line x1="426.1" y1="455.6" x2="414.1" y2="463.3" stroke="#a6a6a6" stroke-width="3.4"/><line x1="414.1" y1="463.3" x2="419.7" y2="478.0" stroke="#a6a6a6" stroke-width="3.4"/><line x1="419.7" y1="478.0" x2="425.3" y2="492.7" stroke="#a6a6a6" stroke-width="3.4"/><line x1="425.3" y1="492.7" x2="413.1" y2="500.0" stroke="#a6a6a6" stroke-width="3.4"/><line x1="413.1" y1="500.0" x2="400.8" y2="507.3" stroke="#e01818" stroke-width="3.4"/><line x1="400.8" y1="507.3" x2="407.1" y2="520.6" stroke="#e01818" stroke-width="3.4"/><line x1="407.1" y1="520.6" x2="413.3" y2="534.0" stroke="#a6a6a6" stroke-width="3.4"/><line x1="413.3" y1="534.0" x2="400.6" y2="542.6" stroke="#a6a6a6" stroke-width="3.4"/><line x1="400.6" y1="542.6" x2="388.0" y2="551.3" stroke="#a6a6a6" stroke-width="3.4"/><line x1="388.0" y1="551.3" x2="393.6" y2="564.6" stroke="#a6a6a6" stroke-width="3.4"/><line x1="393.6" y1="564.6" x2="399.2" y2="578.0" stroke="#e01818" stroke-width="3.4"/><line x1="399.2" y1="578.0" x2="391.2" y2="583.0" stroke="#e01818" stroke-width="3.4"/><line x1="391.2" y1="583.0" x2="383.2" y2="588.1" stroke="#e8e8e8" stroke-width="3.4"/><circle cx="431.5" cy="430.8" r="4.7" fill="url(#aH)"/><circle cx="438.1" cy="447.9" r="7.0" fill="url(#aO)"/><circle cx="414.1" cy="463.3" r="7.3" fill="url(#aC)"/><circle cx="425.3" cy="492.7" r="7.3" fill="url(#aC)"/><circle cx="400.8" cy="507.3" r="7.0" fill="url(#aO)"/><circle cx="413.3" cy="534.0" r="7.3" fill="url(#aC)"/><circle cx="388.0" cy="551.3" r="7.3" fill="url(#aC)"/><circle cx="399.2" cy="578.0" r="7.0" fill="url(#aO)"/><circle cx="383.2" cy="588.1" r="4.7" fill="url(#aH)"/>
<rect x="500" y="33.5" width="121" height="718.2" fill="url(#gBand)"/>
<polygon points="620.5,158 774.5,156.2 620.5,201.5" fill="url(#gBeam)"/>
<text transform="translate(578,722) rotate(-90)" font-family="'Liberation Sans', 'DejaVu Sans', sans-serif" font-size="56" fill="#ffffff" stroke="#0a0a0a" stroke-width="1.5" stroke-linejoin="round" textLength="657" lengthAdjust="spacing">Coaxial electrospinning</text>
<ellipse cx="785" cy="156.2" rx="5" ry="6.5" fill="url(#gCapS)"/>
<g><path d="M785.0,149.7L790.4,149.8L795.8,149.8L801.2,149.8L806.6,149.7L812.0,149.6L817.4,149.5L817.4,163.1L812.0,163.1L806.6,163.2L801.2,163.2L795.8,163.1L790.4,162.9L785.0,162.7Z" fill="url(#ta0)"/><path d="M816.7,149.5L822.1,149.4L827.5,149.2L832.8,149.0L838.2,148.7L843.6,148.5L849.0,148.2L849.0,161.8L843.6,162.1L838.2,162.4L832.9,162.6L827.5,162.8L822.1,162.9L816.7,163.1Z" fill="url(#ta1)"/><path d="M848.3,148.3L853.7,148.0L859.1,147.7L864.5,147.5L869.9,147.2L875.3,146.9L880.7,146.6L880.6,160.3L875.3,160.5L869.9,160.8L864.5,161.0L859.1,161.3L853.7,161.6L848.3,161.9Z" fill="url(#ta2)"/><path d="M880.0,146.6L885.3,146.3L890.7,146.1L896.1,145.8L901.5,145.5L906.9,145.3L912.3,145.1L912.3,159.4L906.9,159.5L901.5,159.6L896.1,159.7L890.7,159.9L885.3,160.1L879.9,160.3Z" fill="url(#ta3)"/><path d="M911.6,145.1L917.0,144.9L922.4,144.7L927.7,144.5L933.1,144.4L938.5,144.3L943.9,144.2L944.0,159.7L938.6,159.6L933.2,159.5L927.8,159.5L922.4,159.4L917.0,159.4L911.6,159.4Z" fill="url(#ta4)"/><path d="M943.2,144.2L948.6,144.2L954.0,144.2L959.4,144.2L964.8,144.2L970.3,144.3L975.7,144.5L975.6,160.3L970.2,160.2L964.8,160.1L959.4,160.0L954.1,159.9L948.7,159.8L943.3,159.7Z" fill="url(#ta5)"/><path d="M975.0,144.4L980.4,144.6L985.8,144.7L991.2,144.8L996.6,145.0L1002.0,145.1L1007.3,145.2L1007.2,160.6L1001.8,160.6L996.4,160.5L991.0,160.5L985.6,160.4L980.2,160.3L974.9,160.2Z" fill="url(#ta6)"/><path d="M1006.6,145.1L1012.0,145.2L1017.3,145.2L1022.6,145.2L1028.0,145.2L1033.4,145.3L1038.9,145.5L1039.0,160.4L1033.7,160.5L1028.3,160.5L1022.9,160.6L1017.4,160.6L1012.0,160.6L1006.5,160.6Z" fill="url(#ta7)"/><path d="M1038.2,145.5L1043.6,145.7L1049.1,146.2L1054.6,146.9L1060.2,147.9L1065.6,149.3L1071.0,151.2L1068.0,157.5L1063.2,158.5L1058.4,159.2L1053.5,159.7L1048.5,160.0L1043.4,160.2L1038.3,160.4Z" fill="url(#ta8)"/><path d="M1077.6,158.2L1075.1,163.1L1074.7,152.5L1077.3,153.6Z" fill="url(#tb0)"/><path d="M1075.6,162.4L1072.4,165.8L1071.9,151.3L1075.2,152.8Z" fill="url(#tb1)"/><path d="M1073.0,165.3L1069.2,167.7L1068.8,150.1L1072.5,151.5Z" fill="url(#tb2)"/><path d="M1069.9,167.3L1065.6,169.1L1065.8,149.5L1069.4,150.3Z" fill="url(#tb3)"/><path d="M1066.4,168.8L1061.8,170.4L1063.0,149.7L1066.4,149.6Z" fill="url(#tb4)"/><path d="M1062.6,170.1L1057.8,171.5L1060.3,150.3L1063.6,149.6Z" fill="url(#tb5)"/><path d="M1058.6,171.3L1054.0,172.6L1057.5,151.3L1060.9,150.2Z" fill="url(#tb6)"/><path d="M1054.8,172.4L1050.5,173.6L1054.3,152.4L1058.1,151.1Z" fill="url(#tb7)"/><path d="M1051.2,173.4L1047.4,174.6L1050.7,153.4L1055.0,152.2Z" fill="url(#tb8)"/><path d="M1048.0,174.4L1044.7,175.4L1046.8,154.4L1051.5,153.2Z" fill="url(#tb9)"/><path d="M1045.2,175.3L1042.1,176.2L1042.8,155.2L1047.6,154.2Z" fill="url(#tb10)"/><path d="M1042.6,176.1L1039.5,176.9L1038.6,156.1L1043.6,155.1Z" fill="url(#tb11)"/><path d="M1040.0,176.7L1036.9,177.4L1034.5,156.9L1039.4,155.9Z" fill="url(#tb12)"/><path d="M1037.5,177.3L1034.3,177.9L1030.3,157.7L1035.3,156.8Z" fill="url(#tb13)"/><path d="M1034.8,177.8L1031.5,178.3L1026.3,158.5L1031.2,157.6Z" fill="url(#tb14)"/><path d="M1032.1,178.2L1028.7,178.7L1022.3,159.2L1027.1,158.3Z" fill="url(#tb15)"/><path d="M1029.3,178.6L1025.7,179.0L1018.5,159.9L1023.1,159.1Z" fill="url(#tb16)"/><path d="M1026.3,179.0L1022.6,179.4L1014.7,160.5L1019.2,159.8Z" fill="url(#tb17)"/><path d="M1023.3,179.4L1019.3,179.9L1011.2,161.1L1015.5,160.4Z" fill="url(#tb18)"/><path d="M1020.0,179.8L1014.6,180.6L1008.9,181.5L1001.9,162.5L1006.7,161.8L1011.9,161.0Z" fill="url(#tb19)"/><path d="M1009.7,181.4L1003.8,182.4L997.7,183.5L993.6,163.5L998.0,163.0L1002.6,162.4Z" fill="url(#tb20)"/><path d="M998.6,183.4L992.5,184.5L986.4,185.6L985.3,164.6L989.7,164.0L994.1,163.5Z" fill="url(#tb21)"/><path d="M987.2,185.5L981.3,186.5L975.6,187.5L976.5,165.8L981.3,165.1L985.9,164.5Z" fill="url(#tb22)"/><path d="M976.4,187.4L970.9,188.3L965.5,189.2L967.0,167.3L972.2,166.5L977.2,165.7Z" fill="url(#tb23)"/><path d="M966.2,189.1L961.0,189.9L955.9,190.7L957.1,169.0L962.4,168.1L967.7,167.2Z" fill="url(#tb24)"/><path d="M956.6,190.6L951.5,191.4L946.5,192.2L946.9,170.7L952.4,169.8L957.8,168.9Z" fill="url(#tb25)"/><path d="M947.2,192.1L942.1,192.9L937.0,193.7L936.8,172.3L942.2,171.5L947.6,170.6Z" fill="url(#tb26)"/><path d="M937.7,193.6L932.5,194.4L927.3,195.3L926.9,173.8L932.2,173.0L937.5,172.2Z" fill="url(#tb27)"/><path d="M928.0,195.2L922.8,196.1L917.5,197.0L917.2,175.3L922.4,174.5L927.6,173.7Z" fill="url(#tb28)"/><path d="M918.2,196.9L912.9,197.8L907.6,198.7L907.5,176.7L912.7,176.0L917.9,175.2Z" fill="url(#tb29)"/><path d="M908.3,198.6L903.0,199.5L897.7,200.4L897.8,178.1L903.0,177.4L908.2,176.6Z" fill="url(#tb30)"/><path d="M898.4,200.3L893.2,201.2L887.9,202.0L888.0,179.6L893.2,178.8L898.4,178.0Z" fill="url(#tb31)"/><path d="M888.6,201.9L883.3,202.8L878.1,203.7L878.2,181.1L883.4,180.3L888.7,179.5Z" fill="url(#tb32)"/><path d="M878.8,203.6L873.6,204.5L868.3,205.4L868.4,182.6L873.6,181.8L878.9,181.0Z" fill="url(#tb33)"/><path d="M869.0,205.3L863.8,206.2L858.6,207.1L858.6,184.2L863.8,183.4L869.1,182.5Z" fill="url(#tb34)"/><path d="M859.3,207.0L854.1,207.9L848.8,208.8L848.8,186.0L854.0,185.0L859.3,184.1Z" fill="url(#tb35)"/><path d="M849.5,208.7L844.3,209.7L839.1,210.7L839.1,187.8L844.3,186.8L849.5,185.8Z" fill="url(#tb36)"/><path d="M839.8,210.5L834.5,211.6L829.3,212.6L829.4,189.7L834.6,188.7L839.8,187.6Z" fill="url(#tb37)"/><path d="M830.0,212.5L824.8,213.6L819.5,214.7L819.8,191.7L825.0,190.6L830.1,189.6Z" fill="url(#tb38)"/><path d="M820.2,214.5L815.0,215.7L809.8,216.8L810.2,193.9L815.3,192.7L820.5,191.6Z" fill="url(#tb39)"/><path d="M810.5,216.7L805.3,217.9L800.2,219.1L800.4,196.2L805.7,194.9L810.8,193.7Z" fill="url(#tb40)"/><path d="M800.9,218.9L795.8,220.2L790.7,221.5L790.6,198.6L795.9,197.3L801.1,196.0Z" fill="url(#tb41)"/><path d="M791.4,221.3L786.4,222.6L781.4,224.0L780.7,201.1L786.0,199.7L791.3,198.4Z" fill="url(#tb42)"/><path d="M782.0,223.8L777.1,225.2L772.2,226.6L770.8,203.7L776.1,202.3L781.4,200.9Z" fill="url(#tb43)"/><path d="M772.8,226.4L767.9,227.9L763.0,229.5L761.0,206.4L766.2,204.9L771.5,203.5Z" fill="url(#tb44)"/><path d="M763.6,229.3L758.7,230.9L753.7,232.6L751.3,209.1L756.5,207.6L761.6,206.2Z" fill="url(#tb45)"/><path d="M754.4,232.4L751.0,233.6L748.5,209.9L752.0,208.9Z" fill="url(#tb46)"/><path d="M751.6,233.4L748.2,234.6L745.7,210.8L749.2,209.7Z" fill="url(#tb47)"/><path d="M748.8,234.4L745.4,235.7L742.8,211.6L746.3,210.6Z" fill="url(#tb48)"/><path d="M746.1,235.4L742.7,236.7L740.0,212.5L743.5,211.4Z" fill="url(#tb49)"/><path d="M743.3,236.5L739.9,237.8L737.2,213.4L740.7,212.3Z" fill="url(#tb50)"/><path d="M740.6,237.6L737.2,238.9L734.3,214.4L737.8,213.2Z" fill="url(#tb51)"/><path d="M737.8,238.7L734.5,240.0L731.4,215.4L735.0,214.2Z" fill="url(#tb52)"/><path d="M735.2,239.8L731.9,241.1L728.4,216.5L732.1,215.1Z" fill="url(#tb53)"/><path d="M732.5,240.9L729.4,242.3L725.4,217.6L729.1,216.2Z" fill="url(#tb54)"/><path d="M730.0,242.0L726.8,243.4L722.3,218.8L726.1,217.3Z" fill="url(#tb55)"/><path d="M727.4,243.1L724.4,244.6L719.2,220.0L723.1,218.5Z" fill="url(#tb56)"/><path d="M725.0,244.3L722.0,245.7L715.9,221.4L719.9,219.7Z" fill="url(#tb57)"/><path d="M722.6,245.5L719.7,246.9L712.7,222.7L716.7,221.1Z" fill="url(#tb58)"/><path d="M720.2,246.6L717.5,248.2L709.5,224.1L713.5,222.4Z" fill="url(#tb59)"/><path d="M718.0,247.9L715.3,249.5L706.3,225.4L710.2,223.8Z" fill="url(#tb60)"/><path d="M715.8,249.2L713.3,250.8L703.3,226.7L707.1,225.1Z" fill="url(#tb61)"/><path d="M713.8,250.5L711.3,252.3L700.5,227.8L704.0,226.4Z" fill="url(#tb62)"/><path d="M711.8,252.0L709.5,253.9L697.6,228.9L701.1,227.6Z" fill="url(#tb63)"/><path d="M709.9,253.5L707.8,255.6L694.6,230.2L698.3,228.7Z" fill="url(#tb64)"/><path d="M708.2,255.2L706.1,257.4L691.2,231.7L695.4,229.9Z" fill="url(#tb65)"/><path d="M706.5,256.9L704.8,259.1L687.1,233.7L692.1,231.3Z" fill="url(#tb66)"/><path d="M705.0,258.9L704.8,259.1L682.3,236.2L688.2,233.2Z" fill="url(#tb67)"/><path d="M704.8,259.1L704.8,259.1L677.0,239.2L683.5,235.6Z" fill="url(#tb68)"/><path d="M704.8,259.1L704.8,259.1L671.7,242.6L678.3,238.5Z" fill="url(#tb69)"/><path d="M704.8,259.1L704.8,259.1L666.7,246.3L672.9,241.8Z" fill="url(#tb70)"/><path d="M704.8,259.1L704.8,259.1L662.1,250.3L667.8,245.4Z" fill="url(#tb71)"/><path d="M704.8,259.1L704.8,259.1L658.3,254.7L663.2,249.3Z" fill="url(#tb72)"/><path d="M704.8,259.1L704.8,259.1L655.2,259.9L659.1,253.6Z" fill="url(#tb73)"/><path d="M704.8,259.1L704.8,259.1L653.1,265.5L655.8,258.6Z" fill="url(#tb74)"/><path d="M704.8,259.1L704.8,259.1L652.4,271.4L653.4,264.2Z" fill="url(#tb75)"/><path d="M704.8,259.1L704.8,259.1L653.1,277.3L652.4,270.0Z" fill="url(#tb76)"/><path d="M704.8,259.1L704.8,259.1L654.9,283.2L652.8,275.9Z" fill="url(#tb77)"/><path d="M704.8,259.1L704.8,259.1L657.1,288.9L654.4,281.8Z" fill="url(#tb78)"/><path d="M704.8,259.1L705.1,259.5L659.4,294.0L656.6,287.6Z" fill="url(#tb79)"/><path d="M704.8,259.1L707.0,261.8L661.5,298.1L658.9,292.9Z" fill="url(#tb80)"/><path d="M706.5,261.3L708.8,264.0L663.3,301.3L661.0,297.2Z" fill="url(#tb81)"/><path d="M708.4,263.5L710.7,266.0L665.0,304.0L662.9,300.6Z" fill="url(#tb82)"/><path d="M710.2,265.6L712.5,267.9L666.6,306.2L664.6,303.4Z" fill="url(#tb83)"/><path d="M712.0,267.5L714.3,269.6L668.3,308.2L666.2,305.7Z" fill="url(#tb84)"/><path d="M713.8,269.2L716.0,271.3L670.2,310.2L667.9,307.7Z" fill="url(#tb85)"/><path d="M715.6,270.9L717.8,272.8L672.3,312.4L669.7,309.7Z" fill="url(#tb86)"/><path d="M717.4,272.5L719.6,274.3L674.7,314.9L671.8,311.9Z" fill="url(#tb87)"/><path d="M719.2,273.9L721.4,275.7L677.2,317.5L674.1,314.3Z" fill="url(#tb88)"/><path d="M721.0,275.3L723.2,277.0L679.9,320.2L676.6,316.9Z" fill="url(#tb89)"/><path d="M722.8,276.7L725.1,278.3L682.7,322.9L679.2,319.6Z" fill="url(#tb90)"/><path d="M724.6,278.0L726.9,279.6L685.5,325.7L682.0,322.3Z" fill="url(#tb91)"/><path d="M726.5,279.3L728.9,280.9L688.4,328.3L684.8,325.0Z" fill="url(#tb92)"/><path d="M728.4,280.6L731.3,282.5L734.3,284.5L696.2,334.9L691.9,331.4L687.7,327.7Z" fill="url(#tb93)"/><path d="M733.8,284.2L736.9,286.2L740.1,288.2L703.8,340.7L699.7,337.7L695.5,334.4Z" fill="url(#tb94)"/><path d="M739.6,287.9L742.8,289.9L746.2,291.9L711.4,345.9L707.3,343.2L703.2,340.3Z" fill="url(#tb95)"/><path d="M745.6,291.6L749.0,293.6L752.5,295.7L718.8,350.7L714.8,348.2L710.7,345.5Z" fill="url(#tb96)"/><path d="M752.0,295.3L755.5,297.4L759.2,299.4L726.0,355.2L722.1,352.8L718.1,350.3Z" fill="url(#tb97)"/><path d="M758.6,299.1L762.3,301.1L766.1,303.2L733.0,359.7L729.2,357.3L725.4,354.9Z" fill="url(#tb98)"/><path d="M765.5,302.9L769.4,304.9L773.3,306.9L739.9,364.2L736.1,361.8L732.4,359.3Z" fill="url(#tb99)"/><path d="M772.7,306.6L776.6,308.7L780.6,310.7L746.6,368.8L742.9,366.3L739.3,363.8Z" fill="url(#tb100)"/><path d="M780.0,310.4L784.0,312.4L788.0,314.5L753.3,373.3L749.7,370.8L746.0,368.4Z" fill="url(#tb101)"/><path d="M787.4,314.2L791.4,316.2L795.3,318.3L760.0,377.9L756.4,375.4L752.7,372.9Z" fill="url(#tb102)"/><path d="M794.7,317.9L798.7,320.0L802.6,322.1L766.8,382.4L763.1,379.9L759.4,377.5Z" fill="url(#tb103)"/><path d="M802.0,321.8L805.9,323.9L809.8,326.0L773.6,386.9L769.9,384.5L766.2,382.0Z" fill="url(#tb104)"/><path d="M809.2,325.6L813.1,327.7L817.0,329.8L780.4,391.4L776.7,389.0L773.0,386.5Z" fill="url(#tb105)"/><path d="M816.4,329.5L820.3,331.6L824.2,333.7L787.3,396.0L783.5,393.5L779.8,391.0Z" fill="url(#tb106)"/><path d="M823.5,333.3L827.4,335.4L831.3,337.5L794.1,400.5L790.4,398.0L786.7,395.6Z" fill="url(#tb107)"/><path d="M830.7,337.2L834.4,339.2L838.2,341.2L841.9,343.2L804.2,407.2L800.6,404.9L797.1,402.5L793.5,400.1Z" fill="url(#tb108)"/><path d="M841.3,342.9L845.1,344.9L848.8,346.8L852.6,348.8L814.2,414.0L810.7,411.6L807.1,409.2L803.6,406.8Z" fill="url(#tb109)"/><path d="M852.0,348.5L855.7,350.5L859.5,352.5L863.3,354.4L824.2,420.8L820.7,418.4L817.1,416.0L813.6,413.6Z" fill="url(#tb110)"/><path d="M862.7,354.1L866.4,356.1L870.2,358.0L874.0,360.0L834.2,427.7L830.6,425.3L827.1,422.8L823.6,420.4Z" fill="url(#tb111)"/><path d="M873.4,359.7L877.2,361.6L881.0,363.6L884.8,365.5L844.1,434.6L840.6,432.1L837.1,429.7L833.6,427.3Z" fill="url(#tb112)"/><path d="M884.1,365.2L887.9,367.1L891.7,369.1L895.5,371.0L854.0,441.5L850.5,439.0L847.0,436.6L843.5,434.2Z" fill="url(#tb113)"/><path d="M894.9,370.7L898.7,372.6L902.5,374.6L906.3,376.5L863.9,448.4L860.4,445.9L857.0,443.5L853.5,441.1Z" fill="url(#tb114)"/><path d="M905.7,376.2L909.5,378.1L913.3,380.0L917.1,382.0L873.8,455.3L870.3,452.9L866.9,450.4L863.4,448.0Z" fill="url(#tb115)"/><path d="M916.5,381.7L920.3,383.6L924.1,385.5L927.9,387.4L883.7,462.3L880.2,459.8L876.8,457.4L873.3,454.9Z" fill="url(#tb116)"/><path d="M927.3,387.1L931.1,389.0L934.9,390.9L938.7,392.8L893.6,469.3L890.1,466.8L886.6,464.3L883.2,461.9Z" fill="url(#tb117)"/><path d="M938.1,392.5L941.9,394.4L945.7,396.4L949.5,398.3L903.5,476.2L900.0,473.8L896.5,471.3L893.1,468.9Z" fill="url(#tb118)"/><path d="M948.9,397.9L952.7,399.9L956.5,401.8L960.3,403.7L913.4,483.2L909.9,480.8L906.4,478.3L902.9,475.8Z" fill="url(#tb119)"/><path d="M959.7,403.4L963.5,405.3L967.3,407.2L971.1,409.1L923.3,490.2L919.8,487.7L916.3,485.3L912.8,482.8Z" fill="url(#tb120)"/><path d="M970.4,408.7L974.3,410.6L978.1,412.5L981.9,414.4L933.2,497.2L929.7,494.7L926.2,492.3L922.8,489.8Z" fill="url(#tb121)"/><path d="M981.2,414.1L985.0,416.0L988.8,417.9L992.6,419.8L943.1,504.2L939.6,501.7L936.2,499.2L932.7,496.8Z" fill="url(#tb122)"/><path d="M992.0,419.5L995.8,421.4L999.6,423.3L1003.4,425.2L953.1,511.1L949.6,508.7L946.1,506.2L942.6,503.8Z" fill="url(#tb123)"/><path d="M1002.8,424.9L1006.6,426.8L1010.4,428.7L1014.2,430.6L963.0,518.1L959.5,515.6L956.0,513.2L952.5,510.7Z" fill="url(#tb124)"/><path d="M1013.6,430.3L1017.4,432.2L1021.2,434.1L1025.0,436.0L972.9,525.0L969.4,522.6L965.9,520.1L962.4,517.7Z" fill="url(#tb125)"/><path d="M1024.4,435.7L1028.2,437.6L1032.0,439.5L1035.8,441.4L982.8,532.0L979.3,529.5L975.8,527.1L972.3,524.6Z" fill="url(#tb126)"/><path d="M1035.2,441.1L1039.0,443.0L1042.8,444.9L1046.6,446.8L992.8,538.9L989.3,536.4L985.8,534.0L982.3,531.6Z" fill="url(#tb127)"/><path d="M1046.0,446.5L1049.8,448.4L1053.6,450.3L1057.5,452.2L1002.7,545.7L999.2,543.3L995.7,540.9L992.2,538.5Z" fill="url(#tb128)"/><path d="M1056.8,451.9L1060.7,453.8L1064.5,455.7L1068.3,457.6L1012.6,552.6L1009.1,550.2L1005.6,547.8L1002.1,545.3Z" fill="url(#tb129)"/><path d="M1067.7,457.3L1071.5,459.2L1075.3,461.1L1079.1,463.0L1022.5,559.4L1019.0,557.0L1015.5,554.6L1012.0,552.2Z" fill="url(#tb130)"/><path d="M1078.5,462.7L1082.3,464.6L1086.2,466.5L1090.0,468.5L1032.5,566.2L1029.0,563.8L1025.5,561.4L1022.0,559.0Z" fill="url(#tb131)"/><path d="M1089.4,468.1L1093.2,470.1L1097.0,472.0L1100.9,473.9L1042.4,573.0L1038.9,570.6L1035.4,568.2L1031.9,565.8Z" fill="url(#tb132)"/><path d="M1100.2,473.6L1104.1,475.5L1107.9,477.4L1111.8,479.4L1052.3,579.7L1048.8,577.3L1045.3,574.9L1041.8,572.6Z" fill="url(#tb133)"/><path d="M1111.1,479.1L1115.0,481.0L1118.8,482.9L1122.7,484.9L1062.3,586.3L1058.8,584.0L1055.3,581.6L1051.8,579.3Z" fill="url(#tb134)"/><path d="M1122.0,484.6L1125.9,486.5L1129.7,488.4L1133.6,490.4L1072.2,592.9L1068.7,590.6L1065.2,588.3L1061.7,585.9Z" fill="url(#tb135)"/><path d="M1133.0,490.1L1136.8,492.0L1140.7,494.0L1144.5,495.9L1082.1,599.5L1078.6,597.2L1075.1,594.9L1071.6,592.6Z" fill="url(#tb136)"/><path d="M1143.9,495.6L1147.8,497.6L1151.6,499.5L1155.5,501.5L1092.1,606.0L1088.6,603.7L1085.1,601.4L1081.6,599.1Z" fill="url(#tb137)"/><path d="M1154.9,501.2L1158.7,503.2L1162.6,505.1L1166.5,507.1L1102.0,612.5L1098.5,610.2L1095.0,607.9L1091.5,605.6Z" fill="url(#tb138)"/><path d="M1165.9,506.8L1169.7,508.8L1173.6,510.7L1177.5,512.7L1111.9,618.9L1108.4,616.6L1104.9,614.4L1101.4,612.1Z" fill="url(#tb139)"/><path d="M1176.9,512.4L1180.8,514.4L1184.7,516.4L1188.6,518.4L1121.8,625.2L1118.3,623.0L1114.8,620.7L1111.3,618.5Z" fill="url(#tb140)"/><path d="M1187.9,518.1L1191.8,520.1L1195.7,522.1L1199.6,524.1L1131.8,631.5L1128.3,629.3L1124.8,627.1L1121.3,624.8Z" fill="url(#tb141)"/><path d="M1199.0,523.8L1202.7,525.7L1206.4,527.6L1210.1,529.5L1141.1,637.3L1137.8,635.2L1134.5,633.2L1131.2,631.1Z" fill="url(#tb142)"/></g>
<g transform="translate(1175.6,583.4) rotate(-57.4)"><ellipse rx="64" ry="49.3" fill="#dbd9ef" stroke="#48605f" stroke-width="1.7"/><ellipse rx="43.5" ry="33.5" fill="#f1dbd1"/></g>
<path d="M1179,589 C1160,607 1140,626 1124,637 C1100,655 1070,672 1040,684 L1040,694 L1290,694 C1262,682 1232,660 1210,638 C1196,622 1186,606 1179,589Z" fill="url(#gFan)" opacity="0.5"/>
<g clip-path="url(#cpEnd)"><path d="M1179,589 C1160,607 1140,626 1124,637 C1100,655 1070,672 1040,684 L1040,694 L1290,694 C1262,682 1232,660 1210,638 C1196,622 1186,606 1179,589Z" fill="url(#gFan)"/></g>
<g transform="translate(1175.6,583.4) rotate(-57.4)"><ellipse rx="64" ry="49.3" fill="none" stroke="#48605f" stroke-width="1.7"/></g>
<circle cx="733.4" cy="377.2" r="11.4" fill="url(#gPurple)" stroke="#a06fb6" stroke-width="0.6"/>
<circle cx="871.3" cy="344.4" r="9.7" fill="#e7a7bd"/><circle cx="870.4" cy="343.5" r="9.7" fill="url(#gGreen)"/>
<circle cx="836.8" cy="454.3" r="14.5" fill="#e7a7bd"/><circle cx="835.5" cy="453.0" r="14.5" fill="url(#gGreen)"/>
<circle cx="873.8" cy="518.7" r="18.8" fill="url(#gPurple)" stroke="#a06fb6" stroke-width="0.6"/>
<circle cx="965.3" cy="559.7" r="20.0" fill="#e7a7bd"/><circle cx="963.5" cy="557.9" r="20.0" fill="url(#gGreen)"/>
<circle cx="997.0" cy="639.6" r="27.0" fill="url(#gPurple)" stroke="#a06fb6" stroke-width="0.6"/>
<circle cx="1075.7" cy="428.5" r="13.7" fill="#e7a7bd"/><circle cx="1074.5" cy="427.3" r="13.7" fill="url(#gGreen)"/>
<circle cx="1138.6" cy="441.1" r="18.3" fill="url(#gPurple)" stroke="#a06fb6" stroke-width="0.6"/>
<g fill="none" stroke="#9a9e9c" stroke-width="3.6" stroke-linecap="butt"><path d="M1087,421 C1110,400 1140,394 1166,404 C1180,409 1190,415 1200,422.5"/><path d="M1141.5,421 C1143,411 1152,404.5 1168,405.5"/></g>
<polygon points="1217.5,441.2 1202,407.3 1199,421.5 1183,427.8" fill="#9a9e9c"/>
<path d="M1032.7,247.0L1032.7,225.5M1032.7,329.0L1032.7,350.5M1070.7,267.8L1091.0,257.0M1070.7,308.2L1091.0,319.0M994.7,308.2L974.4,319.0M994.7,267.8L974.4,257.0M1047.8,247.7L1052.0,236.5M1017.6,247.7L1013.4,236.5M1047.8,328.3L1052.0,339.5M1017.6,328.3L1013.4,339.5M1063.1,256.6L1071.3,248.1M1002.3,256.6L994.1,248.1M1063.1,319.4L1071.3,327.9M1002.3,319.4L994.1,327.9M1077.2,279.7L1088.7,277.6M1077.2,296.3L1088.7,298.4M988.2,296.3L976.7,298.4M988.2,279.7L976.7,277.6" stroke="#f6ab40" stroke-width="3.9" stroke-linecap="round" fill="none"/>
<circle cx="1032.7" cy="288" r="40" fill="url(#gSun)"/>
<path d="M1056.7,264 A34,34 0 0 1 1065.7,300" stroke="#ee9426" stroke-width="1.2" fill="none" stroke-linecap="round"/>
<path d="M997.7,290 A35,35 0 0 0 1012.7,314" stroke="#ee9426" stroke-width="1.2" fill="none" stroke-linecap="round"/>
<path d="M975.4,322.3 C981.0,330.3 979.0,335.5 969.5,337.6 C960.0,339.8 958.0,345.0 963.6,352.9 C969.2,360.9 967.2,366.1 957.7,368.2 C948.2,370.4 946.2,375.6 951.8,383.5" fill="none" stroke="#a24fa8" stroke-width="1.5"/>
<polygon points="948.9,391.0 948.3,380.6 956.3,383.7" fill="#a24fa8"/>
<path d="M998.4,332.1 C1004.0,340.1 1002.0,345.3 992.5,347.5 C983.0,349.7 981.0,355.0 986.6,363.0 C992.2,370.9 990.1,376.2 980.7,378.4 C971.2,380.6 969.2,385.9 974.8,393.8" fill="none" stroke="#a24fa8" stroke-width="1.5"/>
<polygon points="971.9,401.3 971.3,390.9 979.3,394.0" fill="#a24fa8"/>
<path d="M1020.8,343.2 C1026.3,351.2 1024.3,356.4 1014.8,358.5 C1005.3,360.7 1003.3,365.9 1008.8,373.9 C1014.3,381.9 1012.3,387.1 1002.8,389.2 C993.3,391.3 991.3,396.6 996.8,404.5" fill="none" stroke="#a24fa8" stroke-width="1.5"/>
<polygon points="993.9,412.0 993.4,401.6 1001.4,404.7" fill="#a24fa8"/>
<path d="M900.5,78.1 A13.0,13.0 0 0 1 913.8,63.5 A18.1,18.1 0 0 1 940.9,59.4 A15.7,15.7 0 0 1 964.0,53.8 A12.3,12.3 0 0 1 981.9,58.9 A13.6,13.6 0 0 1 1002.4,60.9 A14.4,14.4 0 0 1 1022.4,69.7 A6.0,6.0 0 0 1 1028.0,76.8 A13.5,13.5 0 0 1 1011.1,88.3 A15.8,15.8 0 0 1 987.6,92.7 A15.5,15.5 0 0 1 964.5,97.3 A18.3,18.3 0 0 1 936.9,95.3 A17.5,17.5 0 0 1 911.2,88.3 A9.8,9.8 0 0 1 900.5,78.1Z" fill="url(#gCloudS)" stroke="#5d6189" stroke-width="0.8"/>
<path d="M1157.1,68.6 A7.2,7.2 0 0 1 1164.8,60.9 A10.6,10.6 0 0 1 1180.1,56.3 A12.7,12.7 0 0 1 1197.5,48.1 A12.0,12.0 0 0 1 1215.0,53.3 A12.0,12.0 0 0 1 1232.9,50.2 A10.0,10.0 0 0 1 1246.7,56.3 A9.5,9.5 0 0 1 1258.5,64.5 A5.8,5.8 0 0 1 1261.0,73.0 A9.3,9.3 0 0 1 1248.8,79.9 A15.3,15.3 0 0 1 1225.7,81.9 A13.7,13.7 0 0 1 1205.2,85.5 A15.4,15.4 0 0 1 1182.2,81.4 A12.0,12.0 0 0 1 1164.8,76.3 A7.2,7.2 0 0 1 1157.1,68.6Z" fill="url(#gCloudS)" stroke="#5d6189" stroke-width="0.8"/>
<path d="M982.9,44.8 A10.1,10.1 0 0 1 987.6,30.2 A18.8,18.8 0 0 1 1015.7,25.6 A10.0,10.0 0 0 1 1027.2,15.9 A17.9,17.9 0 0 1 1054.1,12.3 A15.1,15.1 0 0 1 1074.6,2.0 A16.8,16.8 0 0 1 1099.7,6.1 A15.0,15.0 0 0 1 1122.0,2.0 A12.6,12.6 0 0 1 1138.1,12.3 A10.8,10.8 0 0 1 1154.5,12.3 A12.9,12.9 0 0 1 1168.9,25.6 A13.2,13.2 0 0 1 1183.7,38.9 A11.5,11.5 0 0 1 1171.4,51.2 A16.6,16.6 0 0 1 1146.3,53.3 A18.7,18.7 0 0 1 1120.7,65.6 A15.0,15.0 0 0 1 1098.2,62.5 A16.1,16.1 0 0 1 1074.1,66.1 A15.8,15.8 0 0 1 1053.6,53.8 A14.0,14.0 0 0 1 1033.1,59.4 A20.0,20.0 0 0 1 1003.4,53.3 A14.6,14.6 0 0 1 982.9,44.8Z" fill="url(#gCloudBig)" stroke="#6b6f96" stroke-width="0.8"/>
<path d="M987.6,43.5 Q1000.4,55.1 1023.4,52.5M1033.6,57.6 Q1049.0,64.0 1054.1,52.5M1056.7,52.5 Q1069.5,64.0 1084.9,62.7M1174.5,38.4 Q1171.9,47.4 1159.1,48.7M1100.2,5.6 Q1123.3,3.8 1136.1,16.6M1138.6,15.4 Q1148.9,16.6 1151.4,23.0M905.6,79.4 Q913.3,89.6 931.2,88.3M931.2,88.3 Q938.9,96.0 954.3,95.3M941.5,62.7 Q949.1,56.3 961.9,57.6M1020.8,74.3 Q1019.6,81.9 1013.2,84.5M1161.7,69.1 Q1169.4,76.8 1182.2,76.8M1202.7,81.4 Q1220.6,82.5 1233.4,76.8M1183.5,55.1 Q1187.3,49.9 1196.3,49.2M1256.4,67.1 Q1255.9,73.0 1248.8,74.8" fill="none" stroke="#4f547f" stroke-width="0.9" stroke-linecap="round" opacity="0.85"/>
<path d="M1037.8,68.7 l-2.2,5M1050.6,64.6 l-2.2,5M1045.5,74.8 l-2.2,5M1057.8,72.5 l-2.2,5M1080.8,73.6 l-2.2,5M1095.7,70.5 l-2.2,5M1086.0,82.8 l-2.2,5M1103.9,78.2 l-2.2,5M1124.9,67.9 l-2.2,5M1147.4,62.8 l-2.2,5M1119.3,83.3 l-2.2,5M1135.9,76.9 l-2.2,5M1069.3,88.9 l-2.2,5M1075.7,96.9 l-2.2,5M1092.6,96.1 l-2.2,5M1109.0,98.7 l-2.2,5M1124.4,94.3 l-2.2,5M1077.8,110.2 l-2.2,5M1090.6,109.4 l-2.2,5M1100.1,115.3 l-2.2,5M1116.7,113.2 l-2.2,5M1085.2,123.0 l-2.2,5M1091.6,128.9 l-2.2,5M1105.2,132.5 l-2.2,5" stroke="#6cb7d6" stroke-width="3.2" stroke-linecap="round" fill="none"/>
<path d="M1057.2,123 C1061,130 1068.2,137 1068.2,143.2 A11,10.6 0 0 1 1046.2,143.2 C1046.2,137 1053.4,130 1057.2,123Z" fill="#52b0cd" stroke="#2a9eab" stroke-width="1"/>
<ellipse cx="1061.3" cy="138" rx="3.8" ry="4.4" fill="#7fd0d4"/>
<use href="#beetle" transform="translate(1344.8,397.7) rotate(-24.3) scale(1.0)"/>
<use href="#beetle" transform="translate(1399.6,554.7) rotate(16) scale(0.82)"/>
<text x="1008" y="215.7" font-family="'Liberation Sans', 'DejaVu Sans', sans-serif" font-style="italic" font-size="41" fill="#000" textLength="161.5" lengthAdjust="spacing" >Multiple</text>
<text x="1192.5" y="215.7" font-family="'Liberation Sans', 'DejaVu Sans', sans-serif" font-style="italic" font-size="41" fill="#000" textLength="111.5" lengthAdjust="spacing" >stress</text>
<text x="1328.7" y="215.7" font-family="'Liberation Sans', 'DejaVu Sans', sans-serif" font-style="italic" font-size="41" fill="#000" textLength="187.8" lengthAdjust="spacing" >resistance</text>
<text x="723" y="735.2" font-family="'Liberation Sans', 'DejaVu Sans', sans-serif" font-style="italic" font-size="41" fill="#000" textLength="186.7" lengthAdjust="spacing" >Sustained</text>
<text x="933" y="735.2" font-family="'Liberation Sans', 'DejaVu Sans', sans-serif" font-style="italic" font-size="41" fill="#000" textLength="128.5" lengthAdjust="spacingAndGlyphs" >release</text>
<text x="1101.8" y="735.2" font-family="'Liberation Sans', 'DejaVu Sans', sans-serif" font-style="italic" font-size="41" fill="#000" textLength="182.2" lengthAdjust="spacing" >Naturally</text>
<text x="1307" y="735.2" font-family="'Liberation Sans', 'DejaVu Sans', sans-serif" font-style="italic" font-size="41" fill="#000" textLength="199.8" lengthAdjust="spacingAndGlyphs" >degradable</text>
<text x="1185" y="488.7" font-family="'Liberation Sans', 'DejaVu Sans', sans-serif" font-style="italic" font-size="41" fill="#d93a12" textLength="146.0" lengthAdjust="spacingAndGlyphs" >Bisexual</text>
<text x="1351.7" y="488.7" font-family="'Liberation Sans', 'DejaVu Sans', sans-serif" font-style="italic" font-size="41" fill="#d93a12" textLength="164.7" lengthAdjust="spacing" >repellent</text>
<text x="73.2" y="686.9" font-family="'Liberation Sans', 'DejaVu Sans', sans-serif" font-style="italic" font-size="41" fill="#231815" textLength="173.3" lengthAdjust="spacing" >Repellent</text>
<text x="270" y="686.9" font-family="'Liberation Sans', 'DejaVu Sans', sans-serif" font-style="italic" font-size="41" fill="#231815" textLength="203.3" lengthAdjust="spacingAndGlyphs" >compounds</text>
<text x="152.2" y="737.6" font-family="'Liberation Sans', 'DejaVu Sans', sans-serif" font-style="italic" font-size="41" fill="#231815" textLength="65.4" lengthAdjust="spacingAndGlyphs" >and</text>
<text x="236.7" y="737.6" font-family="'Liberation Sans', 'DejaVu Sans', sans-serif" font-style="italic" font-size="41" fill="#231815" textLength="166.8" lengthAdjust="spacing" >polymers</text>
<text x="378.4" y="249" font-family="'Liberation Sans', 'DejaVu Sans', sans-serif" font-style="italic" font-size="46" fill="#000" textLength="92.1" lengthAdjust="spacingAndGlyphs" >Shell</text>
<text x="383.2" y="315.7" font-family="'Liberation Sans', 'DejaVu Sans', sans-serif" font-style="italic" font-size="40" fill="#000" textLength="83.4" lengthAdjust="spacingAndGlyphs" >Core</text>
<text x="925.8" y="161.5" font-family="'Liberation Sans', 'DejaVu Sans', sans-serif" font-size="36.5" fill="#231815" textLength="69.1" lengthAdjust="spacingAndGlyphs" >PLA</text>
<text x="862.8" y="205.4" font-family="'Liberation Sans', 'DejaVu Sans', sans-serif" font-size="36.5" fill="#231815" textLength="69.1" lengthAdjust="spacingAndGlyphs" >PCL</text>
<text transform="translate(782.5,367) rotate(27.6)" font-family="'Liberation Sans', 'DejaVu Sans', sans-serif" font-size="38" fill="#111">UV-327</text>
<path d="M941.9,423.7 L954.7,417.6 L968.4,425.5 L967.0,440.0 L953.7,447.3 L941.0,439.1ZM944.0,437.5 L944.6,425.7M954.8,420.9 L965.2,426.9M964.1,438.4 L954.0,444.0M941.9,423.7 L925.5,413.5 M931.9,411.3 L926.4,420.2M968.4,425.5 L986.9,416.9 M985.2,423.5 L980.8,414.0M941.0,439.1 L934.6,441.9" fill="none" stroke="#2a2a2a" stroke-width="1.0" stroke-linejoin="round"/><text x="934.2" y="447.2" text-anchor="end" font-family="'Liberation Sans', 'DejaVu Sans', sans-serif" font-size="9.1" fill="#2a2a2a" transform="rotate(-14 934.2 443.8)">HO</text><line x1="953.7" y1="448.1" x2="953.2" y2="461.4" stroke="#8f8db5" stroke-width="1.2"/><path d="M914.4,477.9 Q953.7,446.9 995.0,478.8" fill="none" stroke="#7f80ad" stroke-width="4.3"/><path d="M914.4,477.9 Q953.7,446.9 995.0,478.8" fill="none" stroke="#d3d3ee" stroke-width="3"/>
</svg>
</body></html>
